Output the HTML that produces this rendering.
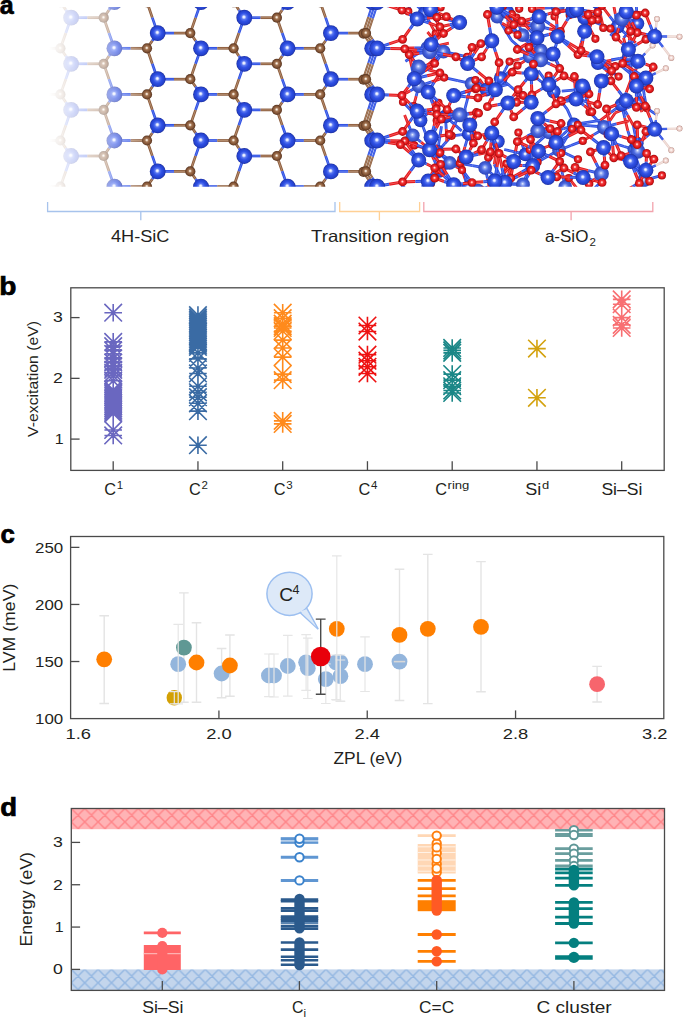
<!DOCTYPE html>
<html><head><meta charset="utf-8"><title>Figure</title>
<style>html,body{margin:0;padding:0;background:#fff;width:685px;height:1018px;overflow:hidden}svg{display:block}</style>
</head><body>
<svg width="685" height="1018" viewBox="0 0 685 1018" font-family='"Liberation Sans", sans-serif'><defs>
<radialGradient id="gSi" cx="0.5" cy="0.5" r="0.5" fx="0.47" fy="0.45">
<stop offset="0" stop-color="#ffffff"/><stop offset="0.13" stop-color="#dce4ff"/><stop offset="0.3" stop-color="#5b78f0"/>
<stop offset="0.55" stop-color="#2f50e4"/><stop offset="0.85" stop-color="#2441cc"/><stop offset="1" stop-color="#1b2d9a"/>
</radialGradient>
<radialGradient id="gSf" cx="0.5" cy="0.5" r="0.5" fx="0.47" fy="0.45">
<stop offset="0" stop-color="#eef3ff"/><stop offset="0.2" stop-color="#98adf3"/>
<stop offset="0.5" stop-color="#4a68e0"/><stop offset="1" stop-color="#2e45b8"/>
</radialGradient>
<radialGradient id="gC" cx="0.5" cy="0.5" r="0.5" fx="0.47" fy="0.45">
<stop offset="0" stop-color="#fffaf4"/><stop offset="0.15" stop-color="#e8d4c2"/><stop offset="0.35" stop-color="#a27452"/>
<stop offset="0.7" stop-color="#835435"/><stop offset="1" stop-color="#563420"/>
</radialGradient>
<radialGradient id="gO" cx="0.5" cy="0.5" r="0.5" fx="0.47" fy="0.45">
<stop offset="0" stop-color="#fff0f0"/><stop offset="0.14" stop-color="#ffb8b8"/><stop offset="0.35" stop-color="#f03a3c"/>
<stop offset="0.7" stop-color="#e01619"/><stop offset="1" stop-color="#a00c0e"/>
</radialGradient>
<radialGradient id="gH" cx="0.5" cy="0.5" r="0.5" fx="0.47" fy="0.45">
<stop offset="0" stop-color="#ffffff"/><stop offset="0.35" stop-color="#f7e3df"/><stop offset="0.8" stop-color="#e2c0b9"/><stop offset="1" stop-color="#b58c84"/>
</radialGradient>
<linearGradient id="fadeG" gradientUnits="userSpaceOnUse" x1="30" y1="0" x2="150" y2="0">
<stop offset="0" stop-color="#fff" stop-opacity="0"/>
<stop offset="0.16" stop-color="#fff" stop-opacity="0"/>
<stop offset="0.25" stop-color="#fff" stop-opacity="0.1"/>
<stop offset="0.342" stop-color="#fff" stop-opacity="0.2"/>
<stop offset="0.617" stop-color="#fff" stop-opacity="0.42"/>
<stop offset="0.7" stop-color="#fff" stop-opacity="0.57"/>
<stop offset="0.967" stop-color="#fff" stop-opacity="1"/>
<stop offset="1" stop-color="#fff" stop-opacity="1"/>
</linearGradient>
<mask id="fadeM" maskUnits="userSpaceOnUse" x="0" y="0" width="685" height="200">
<rect x="0" y="0" width="685" height="200" fill="url(#fadeG)"/>
</mask>
<clipPath id="clipA"><rect x="40" y="7" width="645" height="179.7"/></clipPath>
</defs>
<g clip-path="url(#clipA)"><g mask="url(#fadeM)">
<path d="M27.8 2.2L44.1 2.2" stroke="#2b4ce2" stroke-width="2.7"/><path d="M27.8 2.2L44.1 2.2" stroke="#6f8af0" stroke-width="0.68"/>
<path d="M60.4 2.2L44.1 2.2" stroke="#8a5a3a" stroke-width="2.7"/><path d="M60.4 2.2L44.1 2.2" stroke="#c9a486" stroke-width="0.68"/>
<path d="M60.4 2.2L65.8 -13.1" stroke="#8a5a3a" stroke-width="2.7"/><path d="M60.4 2.2L65.8 -13.1" stroke="#c9a486" stroke-width="0.68"/>
<path d="M71.1 -28.4L65.8 -13.1" stroke="#2b4ce2" stroke-width="2.7"/><path d="M71.1 -28.4L65.8 -13.1" stroke="#6f8af0" stroke-width="0.68"/>
<path d="M60.4 2.2L65.8 9.9" stroke="#8a5a3a" stroke-width="2.7"/><path d="M60.4 2.2L65.8 9.9" stroke="#c9a486" stroke-width="0.68"/>
<path d="M71.1 17.7L65.8 9.9" stroke="#2b4ce2" stroke-width="2.7"/><path d="M71.1 17.7L65.8 9.9" stroke="#6f8af0" stroke-width="0.68"/>
<path d="M27.8 48.3L44.1 48.3" stroke="#2b4ce2" stroke-width="2.7"/><path d="M27.8 48.3L44.1 48.3" stroke="#6f8af0" stroke-width="0.68"/>
<path d="M60.4 48.3L44.1 48.3" stroke="#8a5a3a" stroke-width="2.7"/><path d="M60.4 48.3L44.1 48.3" stroke="#c9a486" stroke-width="0.68"/>
<path d="M60.4 48.3L65.8 33.0" stroke="#8a5a3a" stroke-width="2.7"/><path d="M60.4 48.3L65.8 33.0" stroke="#c9a486" stroke-width="0.68"/>
<path d="M71.1 17.7L65.8 33.0" stroke="#2b4ce2" stroke-width="2.7"/><path d="M71.1 17.7L65.8 33.0" stroke="#6f8af0" stroke-width="0.68"/>
<path d="M60.4 48.3L65.8 56.0" stroke="#8a5a3a" stroke-width="2.7"/><path d="M60.4 48.3L65.8 56.0" stroke="#c9a486" stroke-width="0.68"/>
<path d="M71.1 63.8L65.8 56.0" stroke="#2b4ce2" stroke-width="2.7"/><path d="M71.1 63.8L65.8 56.0" stroke="#6f8af0" stroke-width="0.68"/>
<path d="M27.8 94.4L44.1 94.4" stroke="#2b4ce2" stroke-width="2.7"/><path d="M27.8 94.4L44.1 94.4" stroke="#6f8af0" stroke-width="0.68"/>
<path d="M60.4 94.4L44.1 94.4" stroke="#8a5a3a" stroke-width="2.7"/><path d="M60.4 94.4L44.1 94.4" stroke="#c9a486" stroke-width="0.68"/>
<path d="M60.4 94.4L65.8 79.1" stroke="#8a5a3a" stroke-width="2.7"/><path d="M60.4 94.4L65.8 79.1" stroke="#c9a486" stroke-width="0.68"/>
<path d="M71.1 63.8L65.8 79.1" stroke="#2b4ce2" stroke-width="2.7"/><path d="M71.1 63.8L65.8 79.1" stroke="#6f8af0" stroke-width="0.68"/>
<path d="M60.4 94.4L65.8 102.2" stroke="#8a5a3a" stroke-width="2.7"/><path d="M60.4 94.4L65.8 102.2" stroke="#c9a486" stroke-width="0.68"/>
<path d="M71.1 109.9L65.8 102.2" stroke="#2b4ce2" stroke-width="2.7"/><path d="M71.1 109.9L65.8 102.2" stroke="#6f8af0" stroke-width="0.68"/>
<path d="M27.8 140.5L44.1 140.5" stroke="#2b4ce2" stroke-width="2.7"/><path d="M27.8 140.5L44.1 140.5" stroke="#6f8af0" stroke-width="0.68"/>
<path d="M60.4 140.5L44.1 140.5" stroke="#8a5a3a" stroke-width="2.7"/><path d="M60.4 140.5L44.1 140.5" stroke="#c9a486" stroke-width="0.68"/>
<path d="M60.4 140.5L65.8 125.2" stroke="#8a5a3a" stroke-width="2.7"/><path d="M60.4 140.5L65.8 125.2" stroke="#c9a486" stroke-width="0.68"/>
<path d="M71.1 109.9L65.8 125.2" stroke="#2b4ce2" stroke-width="2.7"/><path d="M71.1 109.9L65.8 125.2" stroke="#6f8af0" stroke-width="0.68"/>
<path d="M60.4 140.5L65.8 148.2" stroke="#8a5a3a" stroke-width="2.7"/><path d="M60.4 140.5L65.8 148.2" stroke="#c9a486" stroke-width="0.68"/>
<path d="M71.1 156.0L65.8 148.2" stroke="#2b4ce2" stroke-width="2.7"/><path d="M71.1 156.0L65.8 148.2" stroke="#6f8af0" stroke-width="0.68"/>
<path d="M27.8 186.6L44.1 186.6" stroke="#2b4ce2" stroke-width="2.7"/><path d="M27.8 186.6L44.1 186.6" stroke="#6f8af0" stroke-width="0.68"/>
<path d="M60.4 186.6L44.1 186.6" stroke="#8a5a3a" stroke-width="2.7"/><path d="M60.4 186.6L44.1 186.6" stroke="#c9a486" stroke-width="0.68"/>
<path d="M60.4 186.6L65.8 171.3" stroke="#8a5a3a" stroke-width="2.7"/><path d="M60.4 186.6L65.8 171.3" stroke="#c9a486" stroke-width="0.68"/>
<path d="M71.1 156.0L65.8 171.3" stroke="#2b4ce2" stroke-width="2.7"/><path d="M71.1 156.0L65.8 171.3" stroke="#6f8af0" stroke-width="0.68"/>
<path d="M60.4 186.6L65.8 194.4" stroke="#8a5a3a" stroke-width="2.7"/><path d="M60.4 186.6L65.8 194.4" stroke="#c9a486" stroke-width="0.68"/>
<path d="M71.1 202.1L65.8 194.4" stroke="#2b4ce2" stroke-width="2.7"/><path d="M71.1 202.1L65.8 194.4" stroke="#6f8af0" stroke-width="0.68"/>
<path d="M71.1 -28.4L87.4 -28.4" stroke="#2b4ce2" stroke-width="2.7"/><path d="M71.1 -28.4L87.4 -28.4" stroke="#6f8af0" stroke-width="0.68"/>
<path d="M103.7 -28.4L87.4 -28.4" stroke="#8a5a3a" stroke-width="2.7"/><path d="M103.7 -28.4L87.4 -28.4" stroke="#c9a486" stroke-width="0.68"/>
<path d="M103.7 -28.4L109.0 -13.1" stroke="#8a5a3a" stroke-width="2.7"/><path d="M103.7 -28.4L109.0 -13.1" stroke="#c9a486" stroke-width="0.68"/>
<path d="M114.4 2.2L109.0 -13.1" stroke="#2b4ce2" stroke-width="2.7"/><path d="M114.4 2.2L109.0 -13.1" stroke="#6f8af0" stroke-width="0.68"/>
<path d="M71.1 17.7L87.4 17.7" stroke="#2b4ce2" stroke-width="2.7"/><path d="M71.1 17.7L87.4 17.7" stroke="#6f8af0" stroke-width="0.68"/>
<path d="M103.7 17.7L87.4 17.7" stroke="#8a5a3a" stroke-width="2.7"/><path d="M103.7 17.7L87.4 17.7" stroke="#c9a486" stroke-width="0.68"/>
<path d="M103.7 17.7L109.0 9.9" stroke="#8a5a3a" stroke-width="2.7"/><path d="M103.7 17.7L109.0 9.9" stroke="#c9a486" stroke-width="0.68"/>
<path d="M114.4 2.2L109.0 9.9" stroke="#2b4ce2" stroke-width="2.7"/><path d="M114.4 2.2L109.0 9.9" stroke="#6f8af0" stroke-width="0.68"/>
<path d="M103.7 17.7L109.0 33.0" stroke="#8a5a3a" stroke-width="2.7"/><path d="M103.7 17.7L109.0 33.0" stroke="#c9a486" stroke-width="0.68"/>
<path d="M114.4 48.3L109.0 33.0" stroke="#2b4ce2" stroke-width="2.7"/><path d="M114.4 48.3L109.0 33.0" stroke="#6f8af0" stroke-width="0.68"/>
<path d="M71.1 63.8L87.4 63.8" stroke="#2b4ce2" stroke-width="2.7"/><path d="M71.1 63.8L87.4 63.8" stroke="#6f8af0" stroke-width="0.68"/>
<path d="M103.7 63.8L87.4 63.8" stroke="#8a5a3a" stroke-width="2.7"/><path d="M103.7 63.8L87.4 63.8" stroke="#c9a486" stroke-width="0.68"/>
<path d="M103.7 63.8L109.0 56.0" stroke="#8a5a3a" stroke-width="2.7"/><path d="M103.7 63.8L109.0 56.0" stroke="#c9a486" stroke-width="0.68"/>
<path d="M114.4 48.3L109.0 56.0" stroke="#2b4ce2" stroke-width="2.7"/><path d="M114.4 48.3L109.0 56.0" stroke="#6f8af0" stroke-width="0.68"/>
<path d="M103.7 63.8L109.0 79.1" stroke="#8a5a3a" stroke-width="2.7"/><path d="M103.7 63.8L109.0 79.1" stroke="#c9a486" stroke-width="0.68"/>
<path d="M114.4 94.4L109.0 79.1" stroke="#2b4ce2" stroke-width="2.7"/><path d="M114.4 94.4L109.0 79.1" stroke="#6f8af0" stroke-width="0.68"/>
<path d="M71.1 109.9L87.4 109.9" stroke="#2b4ce2" stroke-width="2.7"/><path d="M71.1 109.9L87.4 109.9" stroke="#6f8af0" stroke-width="0.68"/>
<path d="M103.7 109.9L87.4 109.9" stroke="#8a5a3a" stroke-width="2.7"/><path d="M103.7 109.9L87.4 109.9" stroke="#c9a486" stroke-width="0.68"/>
<path d="M103.7 109.9L109.0 102.2" stroke="#8a5a3a" stroke-width="2.7"/><path d="M103.7 109.9L109.0 102.2" stroke="#c9a486" stroke-width="0.68"/>
<path d="M114.4 94.4L109.0 102.2" stroke="#2b4ce2" stroke-width="2.7"/><path d="M114.4 94.4L109.0 102.2" stroke="#6f8af0" stroke-width="0.68"/>
<path d="M103.7 109.9L109.0 125.2" stroke="#8a5a3a" stroke-width="2.7"/><path d="M103.7 109.9L109.0 125.2" stroke="#c9a486" stroke-width="0.68"/>
<path d="M114.4 140.5L109.0 125.2" stroke="#2b4ce2" stroke-width="2.7"/><path d="M114.4 140.5L109.0 125.2" stroke="#6f8af0" stroke-width="0.68"/>
<path d="M71.1 156.0L87.4 156.0" stroke="#2b4ce2" stroke-width="2.7"/><path d="M71.1 156.0L87.4 156.0" stroke="#6f8af0" stroke-width="0.68"/>
<path d="M103.7 156.0L87.4 156.0" stroke="#8a5a3a" stroke-width="2.7"/><path d="M103.7 156.0L87.4 156.0" stroke="#c9a486" stroke-width="0.68"/>
<path d="M103.7 156.0L109.0 148.2" stroke="#8a5a3a" stroke-width="2.7"/><path d="M103.7 156.0L109.0 148.2" stroke="#c9a486" stroke-width="0.68"/>
<path d="M114.4 140.5L109.0 148.2" stroke="#2b4ce2" stroke-width="2.7"/><path d="M114.4 140.5L109.0 148.2" stroke="#6f8af0" stroke-width="0.68"/>
<path d="M103.7 156.0L109.0 171.3" stroke="#8a5a3a" stroke-width="2.7"/><path d="M103.7 156.0L109.0 171.3" stroke="#c9a486" stroke-width="0.68"/>
<path d="M114.4 186.6L109.0 171.3" stroke="#2b4ce2" stroke-width="2.7"/><path d="M114.4 186.6L109.0 171.3" stroke="#6f8af0" stroke-width="0.68"/>
<path d="M71.1 202.1L87.4 202.1" stroke="#2b4ce2" stroke-width="2.7"/><path d="M71.1 202.1L87.4 202.1" stroke="#6f8af0" stroke-width="0.68"/>
<path d="M103.7 202.1L87.4 202.1" stroke="#8a5a3a" stroke-width="2.7"/><path d="M103.7 202.1L87.4 202.1" stroke="#c9a486" stroke-width="0.68"/>
<path d="M103.7 202.1L109.0 194.4" stroke="#8a5a3a" stroke-width="2.7"/><path d="M103.7 202.1L109.0 194.4" stroke="#c9a486" stroke-width="0.68"/>
<path d="M114.4 186.6L109.0 194.4" stroke="#2b4ce2" stroke-width="2.7"/><path d="M114.4 186.6L109.0 194.4" stroke="#6f8af0" stroke-width="0.68"/>
<path d="M114.4 2.2L130.7 2.2" stroke="#2b4ce2" stroke-width="2.7"/><path d="M114.4 2.2L130.7 2.2" stroke="#6f8af0" stroke-width="0.68"/>
<path d="M147.0 2.2L130.7 2.2" stroke="#8a5a3a" stroke-width="2.7"/><path d="M147.0 2.2L130.7 2.2" stroke="#c9a486" stroke-width="0.68"/>
<path d="M147.0 2.2L152.3 -5.4" stroke="#8a5a3a" stroke-width="2.7"/><path d="M147.0 2.2L152.3 -5.4" stroke="#c9a486" stroke-width="0.68"/>
<path d="M157.7 -13.0L152.3 -5.4" stroke="#2b4ce2" stroke-width="2.7"/><path d="M157.7 -13.0L152.3 -5.4" stroke="#6f8af0" stroke-width="0.68"/>
<path d="M147.0 2.2L152.3 17.6" stroke="#8a5a3a" stroke-width="2.7"/><path d="M147.0 2.2L152.3 17.6" stroke="#c9a486" stroke-width="0.68"/>
<path d="M157.7 33.1L152.3 17.6" stroke="#2b4ce2" stroke-width="2.7"/><path d="M157.7 33.1L152.3 17.6" stroke="#6f8af0" stroke-width="0.68"/>
<path d="M114.4 48.3L130.7 48.3" stroke="#2b4ce2" stroke-width="2.7"/><path d="M114.4 48.3L130.7 48.3" stroke="#6f8af0" stroke-width="0.68"/>
<path d="M147.0 48.3L130.7 48.3" stroke="#8a5a3a" stroke-width="2.7"/><path d="M147.0 48.3L130.7 48.3" stroke="#c9a486" stroke-width="0.68"/>
<path d="M147.0 48.3L152.3 40.7" stroke="#8a5a3a" stroke-width="2.7"/><path d="M147.0 48.3L152.3 40.7" stroke="#c9a486" stroke-width="0.68"/>
<path d="M157.7 33.1L152.3 40.7" stroke="#2b4ce2" stroke-width="2.7"/><path d="M157.7 33.1L152.3 40.7" stroke="#6f8af0" stroke-width="0.68"/>
<path d="M147.0 48.3L152.3 63.8" stroke="#8a5a3a" stroke-width="2.7"/><path d="M147.0 48.3L152.3 63.8" stroke="#c9a486" stroke-width="0.68"/>
<path d="M157.7 79.2L152.3 63.8" stroke="#2b4ce2" stroke-width="2.7"/><path d="M157.7 79.2L152.3 63.8" stroke="#6f8af0" stroke-width="0.68"/>
<path d="M114.4 94.4L130.7 94.4" stroke="#2b4ce2" stroke-width="2.7"/><path d="M114.4 94.4L130.7 94.4" stroke="#6f8af0" stroke-width="0.68"/>
<path d="M147.0 94.4L130.7 94.4" stroke="#8a5a3a" stroke-width="2.7"/><path d="M147.0 94.4L130.7 94.4" stroke="#c9a486" stroke-width="0.68"/>
<path d="M147.0 94.4L152.3 86.8" stroke="#8a5a3a" stroke-width="2.7"/><path d="M147.0 94.4L152.3 86.8" stroke="#c9a486" stroke-width="0.68"/>
<path d="M157.7 79.2L152.3 86.8" stroke="#2b4ce2" stroke-width="2.7"/><path d="M157.7 79.2L152.3 86.8" stroke="#6f8af0" stroke-width="0.68"/>
<path d="M147.0 94.4L152.3 109.9" stroke="#8a5a3a" stroke-width="2.7"/><path d="M147.0 94.4L152.3 109.9" stroke="#c9a486" stroke-width="0.68"/>
<path d="M157.7 125.3L152.3 109.9" stroke="#2b4ce2" stroke-width="2.7"/><path d="M157.7 125.3L152.3 109.9" stroke="#6f8af0" stroke-width="0.68"/>
<path d="M114.4 140.5L130.7 140.5" stroke="#2b4ce2" stroke-width="2.7"/><path d="M114.4 140.5L130.7 140.5" stroke="#6f8af0" stroke-width="0.68"/>
<path d="M147.0 140.5L130.7 140.5" stroke="#8a5a3a" stroke-width="2.7"/><path d="M147.0 140.5L130.7 140.5" stroke="#c9a486" stroke-width="0.68"/>
<path d="M147.0 140.5L152.3 132.9" stroke="#8a5a3a" stroke-width="2.7"/><path d="M147.0 140.5L152.3 132.9" stroke="#c9a486" stroke-width="0.68"/>
<path d="M157.7 125.3L152.3 132.9" stroke="#2b4ce2" stroke-width="2.7"/><path d="M157.7 125.3L152.3 132.9" stroke="#6f8af0" stroke-width="0.68"/>
<path d="M147.0 140.5L152.3 155.9" stroke="#8a5a3a" stroke-width="2.7"/><path d="M147.0 140.5L152.3 155.9" stroke="#c9a486" stroke-width="0.68"/>
<path d="M157.7 171.4L152.3 155.9" stroke="#2b4ce2" stroke-width="2.7"/><path d="M157.7 171.4L152.3 155.9" stroke="#6f8af0" stroke-width="0.68"/>
<path d="M114.4 186.6L130.7 186.6" stroke="#2b4ce2" stroke-width="2.7"/><path d="M114.4 186.6L130.7 186.6" stroke="#6f8af0" stroke-width="0.68"/>
<path d="M147.0 186.6L130.7 186.6" stroke="#8a5a3a" stroke-width="2.7"/><path d="M147.0 186.6L130.7 186.6" stroke="#c9a486" stroke-width="0.68"/>
<path d="M147.0 186.6L152.3 179.0" stroke="#8a5a3a" stroke-width="2.7"/><path d="M147.0 186.6L152.3 179.0" stroke="#c9a486" stroke-width="0.68"/>
<path d="M157.7 171.4L152.3 179.0" stroke="#2b4ce2" stroke-width="2.7"/><path d="M157.7 171.4L152.3 179.0" stroke="#6f8af0" stroke-width="0.68"/>
<path d="M157.7 -13.0L174.0 -13.0" stroke="#2b4ce2" stroke-width="2.7"/><path d="M157.7 -13.0L174.0 -13.0" stroke="#6f8af0" stroke-width="0.68"/>
<path d="M190.3 -13.0L174.0 -13.0" stroke="#8a5a3a" stroke-width="2.7"/><path d="M190.3 -13.0L174.0 -13.0" stroke="#c9a486" stroke-width="0.68"/>
<path d="M190.3 -13.0L195.6 -5.4" stroke="#8a5a3a" stroke-width="2.7"/><path d="M190.3 -13.0L195.6 -5.4" stroke="#c9a486" stroke-width="0.68"/>
<path d="M201.0 2.2L195.6 -5.4" stroke="#2b4ce2" stroke-width="2.7"/><path d="M201.0 2.2L195.6 -5.4" stroke="#6f8af0" stroke-width="0.68"/>
<path d="M157.7 33.1L174.0 33.1" stroke="#2b4ce2" stroke-width="2.7"/><path d="M157.7 33.1L174.0 33.1" stroke="#6f8af0" stroke-width="0.68"/>
<path d="M190.3 33.1L174.0 33.1" stroke="#8a5a3a" stroke-width="2.7"/><path d="M190.3 33.1L174.0 33.1" stroke="#c9a486" stroke-width="0.68"/>
<path d="M190.3 33.1L195.6 17.6" stroke="#8a5a3a" stroke-width="2.7"/><path d="M190.3 33.1L195.6 17.6" stroke="#c9a486" stroke-width="0.68"/>
<path d="M201.0 2.2L195.6 17.6" stroke="#2b4ce2" stroke-width="2.7"/><path d="M201.0 2.2L195.6 17.6" stroke="#6f8af0" stroke-width="0.68"/>
<path d="M190.3 33.1L195.6 40.7" stroke="#8a5a3a" stroke-width="2.7"/><path d="M190.3 33.1L195.6 40.7" stroke="#c9a486" stroke-width="0.68"/>
<path d="M201.0 48.3L195.6 40.7" stroke="#2b4ce2" stroke-width="2.7"/><path d="M201.0 48.3L195.6 40.7" stroke="#6f8af0" stroke-width="0.68"/>
<path d="M157.7 79.2L174.0 79.2" stroke="#2b4ce2" stroke-width="2.7"/><path d="M157.7 79.2L174.0 79.2" stroke="#6f8af0" stroke-width="0.68"/>
<path d="M190.3 79.2L174.0 79.2" stroke="#8a5a3a" stroke-width="2.7"/><path d="M190.3 79.2L174.0 79.2" stroke="#c9a486" stroke-width="0.68"/>
<path d="M190.3 79.2L195.6 63.8" stroke="#8a5a3a" stroke-width="2.7"/><path d="M190.3 79.2L195.6 63.8" stroke="#c9a486" stroke-width="0.68"/>
<path d="M201.0 48.3L195.6 63.8" stroke="#2b4ce2" stroke-width="2.7"/><path d="M201.0 48.3L195.6 63.8" stroke="#6f8af0" stroke-width="0.68"/>
<path d="M190.3 79.2L195.6 86.8" stroke="#8a5a3a" stroke-width="2.7"/><path d="M190.3 79.2L195.6 86.8" stroke="#c9a486" stroke-width="0.68"/>
<path d="M201.0 94.4L195.6 86.8" stroke="#2b4ce2" stroke-width="2.7"/><path d="M201.0 94.4L195.6 86.8" stroke="#6f8af0" stroke-width="0.68"/>
<path d="M157.7 125.3L174.0 125.3" stroke="#2b4ce2" stroke-width="2.7"/><path d="M157.7 125.3L174.0 125.3" stroke="#6f8af0" stroke-width="0.68"/>
<path d="M190.3 125.3L174.0 125.3" stroke="#8a5a3a" stroke-width="2.7"/><path d="M190.3 125.3L174.0 125.3" stroke="#c9a486" stroke-width="0.68"/>
<path d="M190.3 125.3L195.6 109.9" stroke="#8a5a3a" stroke-width="2.7"/><path d="M190.3 125.3L195.6 109.9" stroke="#c9a486" stroke-width="0.68"/>
<path d="M201.0 94.4L195.6 109.9" stroke="#2b4ce2" stroke-width="2.7"/><path d="M201.0 94.4L195.6 109.9" stroke="#6f8af0" stroke-width="0.68"/>
<path d="M190.3 125.3L195.6 132.9" stroke="#8a5a3a" stroke-width="2.7"/><path d="M190.3 125.3L195.6 132.9" stroke="#c9a486" stroke-width="0.68"/>
<path d="M201.0 140.5L195.6 132.9" stroke="#2b4ce2" stroke-width="2.7"/><path d="M201.0 140.5L195.6 132.9" stroke="#6f8af0" stroke-width="0.68"/>
<path d="M157.7 171.4L174.0 171.4" stroke="#2b4ce2" stroke-width="2.7"/><path d="M157.7 171.4L174.0 171.4" stroke="#6f8af0" stroke-width="0.68"/>
<path d="M190.3 171.4L174.0 171.4" stroke="#8a5a3a" stroke-width="2.7"/><path d="M190.3 171.4L174.0 171.4" stroke="#c9a486" stroke-width="0.68"/>
<path d="M190.3 171.4L195.6 155.9" stroke="#8a5a3a" stroke-width="2.7"/><path d="M190.3 171.4L195.6 155.9" stroke="#c9a486" stroke-width="0.68"/>
<path d="M201.0 140.5L195.6 155.9" stroke="#2b4ce2" stroke-width="2.7"/><path d="M201.0 140.5L195.6 155.9" stroke="#6f8af0" stroke-width="0.68"/>
<path d="M190.3 171.4L195.6 179.0" stroke="#8a5a3a" stroke-width="2.7"/><path d="M190.3 171.4L195.6 179.0" stroke="#c9a486" stroke-width="0.68"/>
<path d="M201.0 186.6L195.6 179.0" stroke="#2b4ce2" stroke-width="2.7"/><path d="M201.0 186.6L195.6 179.0" stroke="#6f8af0" stroke-width="0.68"/>
<path d="M201.0 2.2L217.3 2.2" stroke="#2b4ce2" stroke-width="2.7"/><path d="M201.0 2.2L217.3 2.2" stroke="#6f8af0" stroke-width="0.68"/>
<path d="M233.6 2.2L217.3 2.2" stroke="#8a5a3a" stroke-width="2.7"/><path d="M233.6 2.2L217.3 2.2" stroke="#c9a486" stroke-width="0.68"/>
<path d="M233.6 2.2L238.9 -13.1" stroke="#8a5a3a" stroke-width="2.7"/><path d="M233.6 2.2L238.9 -13.1" stroke="#c9a486" stroke-width="0.68"/>
<path d="M244.3 -28.4L238.9 -13.1" stroke="#2b4ce2" stroke-width="2.7"/><path d="M244.3 -28.4L238.9 -13.1" stroke="#6f8af0" stroke-width="0.68"/>
<path d="M233.6 2.2L238.9 9.9" stroke="#8a5a3a" stroke-width="2.7"/><path d="M233.6 2.2L238.9 9.9" stroke="#c9a486" stroke-width="0.68"/>
<path d="M244.3 17.7L238.9 9.9" stroke="#2b4ce2" stroke-width="2.7"/><path d="M244.3 17.7L238.9 9.9" stroke="#6f8af0" stroke-width="0.68"/>
<path d="M201.0 48.3L217.3 48.3" stroke="#2b4ce2" stroke-width="2.7"/><path d="M201.0 48.3L217.3 48.3" stroke="#6f8af0" stroke-width="0.68"/>
<path d="M233.6 48.3L217.3 48.3" stroke="#8a5a3a" stroke-width="2.7"/><path d="M233.6 48.3L217.3 48.3" stroke="#c9a486" stroke-width="0.68"/>
<path d="M233.6 48.3L238.9 33.0" stroke="#8a5a3a" stroke-width="2.7"/><path d="M233.6 48.3L238.9 33.0" stroke="#c9a486" stroke-width="0.68"/>
<path d="M244.3 17.7L238.9 33.0" stroke="#2b4ce2" stroke-width="2.7"/><path d="M244.3 17.7L238.9 33.0" stroke="#6f8af0" stroke-width="0.68"/>
<path d="M233.6 48.3L238.9 56.0" stroke="#8a5a3a" stroke-width="2.7"/><path d="M233.6 48.3L238.9 56.0" stroke="#c9a486" stroke-width="0.68"/>
<path d="M244.3 63.8L238.9 56.0" stroke="#2b4ce2" stroke-width="2.7"/><path d="M244.3 63.8L238.9 56.0" stroke="#6f8af0" stroke-width="0.68"/>
<path d="M201.0 94.4L217.3 94.4" stroke="#2b4ce2" stroke-width="2.7"/><path d="M201.0 94.4L217.3 94.4" stroke="#6f8af0" stroke-width="0.68"/>
<path d="M233.6 94.4L217.3 94.4" stroke="#8a5a3a" stroke-width="2.7"/><path d="M233.6 94.4L217.3 94.4" stroke="#c9a486" stroke-width="0.68"/>
<path d="M233.6 94.4L238.9 79.1" stroke="#8a5a3a" stroke-width="2.7"/><path d="M233.6 94.4L238.9 79.1" stroke="#c9a486" stroke-width="0.68"/>
<path d="M244.3 63.8L238.9 79.1" stroke="#2b4ce2" stroke-width="2.7"/><path d="M244.3 63.8L238.9 79.1" stroke="#6f8af0" stroke-width="0.68"/>
<path d="M233.6 94.4L238.9 102.2" stroke="#8a5a3a" stroke-width="2.7"/><path d="M233.6 94.4L238.9 102.2" stroke="#c9a486" stroke-width="0.68"/>
<path d="M244.3 109.9L238.9 102.2" stroke="#2b4ce2" stroke-width="2.7"/><path d="M244.3 109.9L238.9 102.2" stroke="#6f8af0" stroke-width="0.68"/>
<path d="M201.0 140.5L217.3 140.5" stroke="#2b4ce2" stroke-width="2.7"/><path d="M201.0 140.5L217.3 140.5" stroke="#6f8af0" stroke-width="0.68"/>
<path d="M233.6 140.5L217.3 140.5" stroke="#8a5a3a" stroke-width="2.7"/><path d="M233.6 140.5L217.3 140.5" stroke="#c9a486" stroke-width="0.68"/>
<path d="M233.6 140.5L238.9 125.2" stroke="#8a5a3a" stroke-width="2.7"/><path d="M233.6 140.5L238.9 125.2" stroke="#c9a486" stroke-width="0.68"/>
<path d="M244.3 109.9L238.9 125.2" stroke="#2b4ce2" stroke-width="2.7"/><path d="M244.3 109.9L238.9 125.2" stroke="#6f8af0" stroke-width="0.68"/>
<path d="M233.6 140.5L238.9 148.2" stroke="#8a5a3a" stroke-width="2.7"/><path d="M233.6 140.5L238.9 148.2" stroke="#c9a486" stroke-width="0.68"/>
<path d="M244.3 156.0L238.9 148.2" stroke="#2b4ce2" stroke-width="2.7"/><path d="M244.3 156.0L238.9 148.2" stroke="#6f8af0" stroke-width="0.68"/>
<path d="M201.0 186.6L217.3 186.6" stroke="#2b4ce2" stroke-width="2.7"/><path d="M201.0 186.6L217.3 186.6" stroke="#6f8af0" stroke-width="0.68"/>
<path d="M233.6 186.6L217.3 186.6" stroke="#8a5a3a" stroke-width="2.7"/><path d="M233.6 186.6L217.3 186.6" stroke="#c9a486" stroke-width="0.68"/>
<path d="M233.6 186.6L238.9 171.3" stroke="#8a5a3a" stroke-width="2.7"/><path d="M233.6 186.6L238.9 171.3" stroke="#c9a486" stroke-width="0.68"/>
<path d="M244.3 156.0L238.9 171.3" stroke="#2b4ce2" stroke-width="2.7"/><path d="M244.3 156.0L238.9 171.3" stroke="#6f8af0" stroke-width="0.68"/>
<path d="M233.6 186.6L238.9 194.4" stroke="#8a5a3a" stroke-width="2.7"/><path d="M233.6 186.6L238.9 194.4" stroke="#c9a486" stroke-width="0.68"/>
<path d="M244.3 202.1L238.9 194.4" stroke="#2b4ce2" stroke-width="2.7"/><path d="M244.3 202.1L238.9 194.4" stroke="#6f8af0" stroke-width="0.68"/>
<path d="M244.3 -28.4L260.6 -28.4" stroke="#2b4ce2" stroke-width="2.7"/><path d="M244.3 -28.4L260.6 -28.4" stroke="#6f8af0" stroke-width="0.68"/>
<path d="M276.9 -28.4L260.6 -28.4" stroke="#8a5a3a" stroke-width="2.7"/><path d="M276.9 -28.4L260.6 -28.4" stroke="#c9a486" stroke-width="0.68"/>
<path d="M276.9 -28.4L282.2 -13.1" stroke="#8a5a3a" stroke-width="2.7"/><path d="M276.9 -28.4L282.2 -13.1" stroke="#c9a486" stroke-width="0.68"/>
<path d="M287.6 2.2L282.2 -13.1" stroke="#2b4ce2" stroke-width="2.7"/><path d="M287.6 2.2L282.2 -13.1" stroke="#6f8af0" stroke-width="0.68"/>
<path d="M244.3 17.7L260.6 17.7" stroke="#2b4ce2" stroke-width="2.7"/><path d="M244.3 17.7L260.6 17.7" stroke="#6f8af0" stroke-width="0.68"/>
<path d="M276.9 17.7L260.6 17.7" stroke="#8a5a3a" stroke-width="2.7"/><path d="M276.9 17.7L260.6 17.7" stroke="#c9a486" stroke-width="0.68"/>
<path d="M276.9 17.7L282.2 9.9" stroke="#8a5a3a" stroke-width="2.7"/><path d="M276.9 17.7L282.2 9.9" stroke="#c9a486" stroke-width="0.68"/>
<path d="M287.6 2.2L282.2 9.9" stroke="#2b4ce2" stroke-width="2.7"/><path d="M287.6 2.2L282.2 9.9" stroke="#6f8af0" stroke-width="0.68"/>
<path d="M276.9 17.7L282.2 33.0" stroke="#8a5a3a" stroke-width="2.7"/><path d="M276.9 17.7L282.2 33.0" stroke="#c9a486" stroke-width="0.68"/>
<path d="M287.6 48.3L282.2 33.0" stroke="#2b4ce2" stroke-width="2.7"/><path d="M287.6 48.3L282.2 33.0" stroke="#6f8af0" stroke-width="0.68"/>
<path d="M244.3 63.8L260.6 63.8" stroke="#2b4ce2" stroke-width="2.7"/><path d="M244.3 63.8L260.6 63.8" stroke="#6f8af0" stroke-width="0.68"/>
<path d="M276.9 63.8L260.6 63.8" stroke="#8a5a3a" stroke-width="2.7"/><path d="M276.9 63.8L260.6 63.8" stroke="#c9a486" stroke-width="0.68"/>
<path d="M276.9 63.8L282.2 56.0" stroke="#8a5a3a" stroke-width="2.7"/><path d="M276.9 63.8L282.2 56.0" stroke="#c9a486" stroke-width="0.68"/>
<path d="M287.6 48.3L282.2 56.0" stroke="#2b4ce2" stroke-width="2.7"/><path d="M287.6 48.3L282.2 56.0" stroke="#6f8af0" stroke-width="0.68"/>
<path d="M276.9 63.8L282.2 79.1" stroke="#8a5a3a" stroke-width="2.7"/><path d="M276.9 63.8L282.2 79.1" stroke="#c9a486" stroke-width="0.68"/>
<path d="M287.6 94.4L282.2 79.1" stroke="#2b4ce2" stroke-width="2.7"/><path d="M287.6 94.4L282.2 79.1" stroke="#6f8af0" stroke-width="0.68"/>
<path d="M244.3 109.9L260.6 109.9" stroke="#2b4ce2" stroke-width="2.7"/><path d="M244.3 109.9L260.6 109.9" stroke="#6f8af0" stroke-width="0.68"/>
<path d="M276.9 109.9L260.6 109.9" stroke="#8a5a3a" stroke-width="2.7"/><path d="M276.9 109.9L260.6 109.9" stroke="#c9a486" stroke-width="0.68"/>
<path d="M276.9 109.9L282.2 102.2" stroke="#8a5a3a" stroke-width="2.7"/><path d="M276.9 109.9L282.2 102.2" stroke="#c9a486" stroke-width="0.68"/>
<path d="M287.6 94.4L282.2 102.2" stroke="#2b4ce2" stroke-width="2.7"/><path d="M287.6 94.4L282.2 102.2" stroke="#6f8af0" stroke-width="0.68"/>
<path d="M276.9 109.9L282.2 125.2" stroke="#8a5a3a" stroke-width="2.7"/><path d="M276.9 109.9L282.2 125.2" stroke="#c9a486" stroke-width="0.68"/>
<path d="M287.6 140.5L282.2 125.2" stroke="#2b4ce2" stroke-width="2.7"/><path d="M287.6 140.5L282.2 125.2" stroke="#6f8af0" stroke-width="0.68"/>
<path d="M244.3 156.0L260.6 156.0" stroke="#2b4ce2" stroke-width="2.7"/><path d="M244.3 156.0L260.6 156.0" stroke="#6f8af0" stroke-width="0.68"/>
<path d="M276.9 156.0L260.6 156.0" stroke="#8a5a3a" stroke-width="2.7"/><path d="M276.9 156.0L260.6 156.0" stroke="#c9a486" stroke-width="0.68"/>
<path d="M276.9 156.0L282.2 148.2" stroke="#8a5a3a" stroke-width="2.7"/><path d="M276.9 156.0L282.2 148.2" stroke="#c9a486" stroke-width="0.68"/>
<path d="M287.6 140.5L282.2 148.2" stroke="#2b4ce2" stroke-width="2.7"/><path d="M287.6 140.5L282.2 148.2" stroke="#6f8af0" stroke-width="0.68"/>
<path d="M276.9 156.0L282.2 171.3" stroke="#8a5a3a" stroke-width="2.7"/><path d="M276.9 156.0L282.2 171.3" stroke="#c9a486" stroke-width="0.68"/>
<path d="M287.6 186.6L282.2 171.3" stroke="#2b4ce2" stroke-width="2.7"/><path d="M287.6 186.6L282.2 171.3" stroke="#6f8af0" stroke-width="0.68"/>
<path d="M244.3 202.1L260.6 202.1" stroke="#2b4ce2" stroke-width="2.7"/><path d="M244.3 202.1L260.6 202.1" stroke="#6f8af0" stroke-width="0.68"/>
<path d="M276.9 202.1L260.6 202.1" stroke="#8a5a3a" stroke-width="2.7"/><path d="M276.9 202.1L260.6 202.1" stroke="#c9a486" stroke-width="0.68"/>
<path d="M276.9 202.1L282.2 194.4" stroke="#8a5a3a" stroke-width="2.7"/><path d="M276.9 202.1L282.2 194.4" stroke="#c9a486" stroke-width="0.68"/>
<path d="M287.6 186.6L282.2 194.4" stroke="#2b4ce2" stroke-width="2.7"/><path d="M287.6 186.6L282.2 194.4" stroke="#6f8af0" stroke-width="0.68"/>
<path d="M287.6 2.2L303.9 2.2" stroke="#2b4ce2" stroke-width="2.7"/><path d="M287.6 2.2L303.9 2.2" stroke="#6f8af0" stroke-width="0.68"/>
<path d="M320.2 2.2L303.9 2.2" stroke="#8a5a3a" stroke-width="2.7"/><path d="M320.2 2.2L303.9 2.2" stroke="#c9a486" stroke-width="0.68"/>
<path d="M320.2 2.2L325.6 -5.4" stroke="#8a5a3a" stroke-width="2.7"/><path d="M320.2 2.2L325.6 -5.4" stroke="#c9a486" stroke-width="0.68"/>
<path d="M330.9 -13.0L325.6 -5.4" stroke="#2b4ce2" stroke-width="2.7"/><path d="M330.9 -13.0L325.6 -5.4" stroke="#6f8af0" stroke-width="0.68"/>
<path d="M320.2 2.2L325.6 17.6" stroke="#8a5a3a" stroke-width="2.7"/><path d="M320.2 2.2L325.6 17.6" stroke="#c9a486" stroke-width="0.68"/>
<path d="M330.9 33.1L325.6 17.6" stroke="#2b4ce2" stroke-width="2.7"/><path d="M330.9 33.1L325.6 17.6" stroke="#6f8af0" stroke-width="0.68"/>
<path d="M287.6 48.3L303.9 48.3" stroke="#2b4ce2" stroke-width="2.7"/><path d="M287.6 48.3L303.9 48.3" stroke="#6f8af0" stroke-width="0.68"/>
<path d="M320.2 48.3L303.9 48.3" stroke="#8a5a3a" stroke-width="2.7"/><path d="M320.2 48.3L303.9 48.3" stroke="#c9a486" stroke-width="0.68"/>
<path d="M320.2 48.3L325.6 40.7" stroke="#8a5a3a" stroke-width="2.7"/><path d="M320.2 48.3L325.6 40.7" stroke="#c9a486" stroke-width="0.68"/>
<path d="M330.9 33.1L325.6 40.7" stroke="#2b4ce2" stroke-width="2.7"/><path d="M330.9 33.1L325.6 40.7" stroke="#6f8af0" stroke-width="0.68"/>
<path d="M320.2 48.3L325.6 63.8" stroke="#8a5a3a" stroke-width="2.7"/><path d="M320.2 48.3L325.6 63.8" stroke="#c9a486" stroke-width="0.68"/>
<path d="M330.9 79.2L325.6 63.8" stroke="#2b4ce2" stroke-width="2.7"/><path d="M330.9 79.2L325.6 63.8" stroke="#6f8af0" stroke-width="0.68"/>
<path d="M287.6 94.4L303.9 94.4" stroke="#2b4ce2" stroke-width="2.7"/><path d="M287.6 94.4L303.9 94.4" stroke="#6f8af0" stroke-width="0.68"/>
<path d="M320.2 94.4L303.9 94.4" stroke="#8a5a3a" stroke-width="2.7"/><path d="M320.2 94.4L303.9 94.4" stroke="#c9a486" stroke-width="0.68"/>
<path d="M320.2 94.4L325.6 86.8" stroke="#8a5a3a" stroke-width="2.7"/><path d="M320.2 94.4L325.6 86.8" stroke="#c9a486" stroke-width="0.68"/>
<path d="M330.9 79.2L325.6 86.8" stroke="#2b4ce2" stroke-width="2.7"/><path d="M330.9 79.2L325.6 86.8" stroke="#6f8af0" stroke-width="0.68"/>
<path d="M320.2 94.4L325.6 109.9" stroke="#8a5a3a" stroke-width="2.7"/><path d="M320.2 94.4L325.6 109.9" stroke="#c9a486" stroke-width="0.68"/>
<path d="M330.9 125.3L325.6 109.9" stroke="#2b4ce2" stroke-width="2.7"/><path d="M330.9 125.3L325.6 109.9" stroke="#6f8af0" stroke-width="0.68"/>
<path d="M287.6 140.5L303.9 140.5" stroke="#2b4ce2" stroke-width="2.7"/><path d="M287.6 140.5L303.9 140.5" stroke="#6f8af0" stroke-width="0.68"/>
<path d="M320.2 140.5L303.9 140.5" stroke="#8a5a3a" stroke-width="2.7"/><path d="M320.2 140.5L303.9 140.5" stroke="#c9a486" stroke-width="0.68"/>
<path d="M320.2 140.5L325.6 132.9" stroke="#8a5a3a" stroke-width="2.7"/><path d="M320.2 140.5L325.6 132.9" stroke="#c9a486" stroke-width="0.68"/>
<path d="M330.9 125.3L325.6 132.9" stroke="#2b4ce2" stroke-width="2.7"/><path d="M330.9 125.3L325.6 132.9" stroke="#6f8af0" stroke-width="0.68"/>
<path d="M320.2 140.5L325.6 155.9" stroke="#8a5a3a" stroke-width="2.7"/><path d="M320.2 140.5L325.6 155.9" stroke="#c9a486" stroke-width="0.68"/>
<path d="M330.9 171.4L325.6 155.9" stroke="#2b4ce2" stroke-width="2.7"/><path d="M330.9 171.4L325.6 155.9" stroke="#6f8af0" stroke-width="0.68"/>
<path d="M287.6 186.6L303.9 186.6" stroke="#2b4ce2" stroke-width="2.7"/><path d="M287.6 186.6L303.9 186.6" stroke="#6f8af0" stroke-width="0.68"/>
<path d="M320.2 186.6L303.9 186.6" stroke="#8a5a3a" stroke-width="2.7"/><path d="M320.2 186.6L303.9 186.6" stroke="#c9a486" stroke-width="0.68"/>
<path d="M320.2 186.6L325.6 179.0" stroke="#8a5a3a" stroke-width="2.7"/><path d="M320.2 186.6L325.6 179.0" stroke="#c9a486" stroke-width="0.68"/>
<path d="M330.9 171.4L325.6 179.0" stroke="#2b4ce2" stroke-width="2.7"/><path d="M330.9 171.4L325.6 179.0" stroke="#6f8af0" stroke-width="0.68"/>
<path d="M330.9 -13.0L348.2 -13.0" stroke="#2b4ce2" stroke-width="2.7"/><path d="M330.9 -13.0L348.2 -13.0" stroke="#6f8af0" stroke-width="0.68"/>
<path d="M365.5 -13.0L348.2 -13.0" stroke="#8a5a3a" stroke-width="2.7"/><path d="M365.5 -13.0L348.2 -13.0" stroke="#c9a486" stroke-width="0.68"/>
<path d="M367.5 -14.3L372.6 -6.7" stroke="#8a5a3a" stroke-width="2.0"/><path d="M367.5 -14.3L372.6 -6.7" stroke="#c9a486" stroke-width="0.50"/>
<path d="M377.7 0.9L372.6 -6.7" stroke="#2b4ce2" stroke-width="2.0"/><path d="M377.7 0.9L372.6 -6.7" stroke="#6f8af0" stroke-width="0.50"/>
<path d="M365.5 -13.0L370.6 -5.4" stroke="#8a5a3a" stroke-width="2.0"/><path d="M365.5 -13.0L370.6 -5.4" stroke="#c9a486" stroke-width="0.50"/>
<path d="M375.7 2.2L370.6 -5.4" stroke="#2b4ce2" stroke-width="2.0"/><path d="M375.7 2.2L370.6 -5.4" stroke="#6f8af0" stroke-width="0.50"/>
<path d="M363.5 -11.7L368.6 -4.1" stroke="#8a5a3a" stroke-width="2.0"/><path d="M363.5 -11.7L368.6 -4.1" stroke="#c9a486" stroke-width="0.50"/>
<path d="M373.7 3.5L368.6 -4.1" stroke="#2b4ce2" stroke-width="2.0"/><path d="M373.7 3.5L368.6 -4.1" stroke="#6f8af0" stroke-width="0.50"/>
<path d="M330.9 33.1L348.2 33.1" stroke="#2b4ce2" stroke-width="2.7"/><path d="M330.9 33.1L348.2 33.1" stroke="#6f8af0" stroke-width="0.68"/>
<path d="M365.5 33.1L348.2 33.1" stroke="#8a5a3a" stroke-width="2.7"/><path d="M365.5 33.1L348.2 33.1" stroke="#c9a486" stroke-width="0.68"/>
<path d="M363.2 32.3L368.3 16.9" stroke="#8a5a3a" stroke-width="2.0"/><path d="M363.2 32.3L368.3 16.9" stroke="#c9a486" stroke-width="0.50"/>
<path d="M373.4 1.4L368.3 16.9" stroke="#2b4ce2" stroke-width="2.0"/><path d="M373.4 1.4L368.3 16.9" stroke="#6f8af0" stroke-width="0.50"/>
<path d="M365.5 33.1L370.6 17.6" stroke="#8a5a3a" stroke-width="2.0"/><path d="M365.5 33.1L370.6 17.6" stroke="#c9a486" stroke-width="0.50"/>
<path d="M375.7 2.2L370.6 17.6" stroke="#2b4ce2" stroke-width="2.0"/><path d="M375.7 2.2L370.6 17.6" stroke="#6f8af0" stroke-width="0.50"/>
<path d="M367.8 33.9L372.9 18.4" stroke="#8a5a3a" stroke-width="2.0"/><path d="M367.8 33.9L372.9 18.4" stroke="#c9a486" stroke-width="0.50"/>
<path d="M378.0 3.0L372.9 18.4" stroke="#2b4ce2" stroke-width="2.0"/><path d="M378.0 3.0L372.9 18.4" stroke="#6f8af0" stroke-width="0.50"/>
<path d="M367.5 31.8L372.6 39.4" stroke="#8a5a3a" stroke-width="2.0"/><path d="M367.5 31.8L372.6 39.4" stroke="#c9a486" stroke-width="0.50"/>
<path d="M377.7 47.0L372.6 39.4" stroke="#2b4ce2" stroke-width="2.0"/><path d="M377.7 47.0L372.6 39.4" stroke="#6f8af0" stroke-width="0.50"/>
<path d="M365.5 33.1L370.6 40.7" stroke="#8a5a3a" stroke-width="2.0"/><path d="M365.5 33.1L370.6 40.7" stroke="#c9a486" stroke-width="0.50"/>
<path d="M375.7 48.3L370.6 40.7" stroke="#2b4ce2" stroke-width="2.0"/><path d="M375.7 48.3L370.6 40.7" stroke="#6f8af0" stroke-width="0.50"/>
<path d="M363.5 34.4L368.6 42.0" stroke="#8a5a3a" stroke-width="2.0"/><path d="M363.5 34.4L368.6 42.0" stroke="#c9a486" stroke-width="0.50"/>
<path d="M373.7 49.6L368.6 42.0" stroke="#2b4ce2" stroke-width="2.0"/><path d="M373.7 49.6L368.6 42.0" stroke="#6f8af0" stroke-width="0.50"/>
<path d="M330.9 79.2L348.2 79.2" stroke="#2b4ce2" stroke-width="2.7"/><path d="M330.9 79.2L348.2 79.2" stroke="#6f8af0" stroke-width="0.68"/>
<path d="M365.5 79.2L348.2 79.2" stroke="#8a5a3a" stroke-width="2.7"/><path d="M365.5 79.2L348.2 79.2" stroke="#c9a486" stroke-width="0.68"/>
<path d="M363.2 78.4L368.3 63.0" stroke="#8a5a3a" stroke-width="2.0"/><path d="M363.2 78.4L368.3 63.0" stroke="#c9a486" stroke-width="0.50"/>
<path d="M373.4 47.5L368.3 63.0" stroke="#2b4ce2" stroke-width="2.0"/><path d="M373.4 47.5L368.3 63.0" stroke="#6f8af0" stroke-width="0.50"/>
<path d="M365.5 79.2L370.6 63.8" stroke="#8a5a3a" stroke-width="2.0"/><path d="M365.5 79.2L370.6 63.8" stroke="#c9a486" stroke-width="0.50"/>
<path d="M375.7 48.3L370.6 63.8" stroke="#2b4ce2" stroke-width="2.0"/><path d="M375.7 48.3L370.6 63.8" stroke="#6f8af0" stroke-width="0.50"/>
<path d="M367.8 80.0L372.9 64.5" stroke="#8a5a3a" stroke-width="2.0"/><path d="M367.8 80.0L372.9 64.5" stroke="#c9a486" stroke-width="0.50"/>
<path d="M378.0 49.1L372.9 64.5" stroke="#2b4ce2" stroke-width="2.0"/><path d="M378.0 49.1L372.9 64.5" stroke="#6f8af0" stroke-width="0.50"/>
<path d="M367.5 77.9L372.6 85.5" stroke="#8a5a3a" stroke-width="2.0"/><path d="M367.5 77.9L372.6 85.5" stroke="#c9a486" stroke-width="0.50"/>
<path d="M377.7 93.1L372.6 85.5" stroke="#2b4ce2" stroke-width="2.0"/><path d="M377.7 93.1L372.6 85.5" stroke="#6f8af0" stroke-width="0.50"/>
<path d="M365.5 79.2L370.6 86.8" stroke="#8a5a3a" stroke-width="2.0"/><path d="M365.5 79.2L370.6 86.8" stroke="#c9a486" stroke-width="0.50"/>
<path d="M375.7 94.4L370.6 86.8" stroke="#2b4ce2" stroke-width="2.0"/><path d="M375.7 94.4L370.6 86.8" stroke="#6f8af0" stroke-width="0.50"/>
<path d="M363.5 80.5L368.6 88.1" stroke="#8a5a3a" stroke-width="2.0"/><path d="M363.5 80.5L368.6 88.1" stroke="#c9a486" stroke-width="0.50"/>
<path d="M373.7 95.7L368.6 88.1" stroke="#2b4ce2" stroke-width="2.0"/><path d="M373.7 95.7L368.6 88.1" stroke="#6f8af0" stroke-width="0.50"/>
<path d="M330.9 125.3L348.2 125.3" stroke="#2b4ce2" stroke-width="2.7"/><path d="M330.9 125.3L348.2 125.3" stroke="#6f8af0" stroke-width="0.68"/>
<path d="M365.5 125.3L348.2 125.3" stroke="#8a5a3a" stroke-width="2.7"/><path d="M365.5 125.3L348.2 125.3" stroke="#c9a486" stroke-width="0.68"/>
<path d="M363.2 124.5L368.3 109.1" stroke="#8a5a3a" stroke-width="2.0"/><path d="M363.2 124.5L368.3 109.1" stroke="#c9a486" stroke-width="0.50"/>
<path d="M373.4 93.6L368.3 109.1" stroke="#2b4ce2" stroke-width="2.0"/><path d="M373.4 93.6L368.3 109.1" stroke="#6f8af0" stroke-width="0.50"/>
<path d="M365.5 125.3L370.6 109.9" stroke="#8a5a3a" stroke-width="2.0"/><path d="M365.5 125.3L370.6 109.9" stroke="#c9a486" stroke-width="0.50"/>
<path d="M375.7 94.4L370.6 109.9" stroke="#2b4ce2" stroke-width="2.0"/><path d="M375.7 94.4L370.6 109.9" stroke="#6f8af0" stroke-width="0.50"/>
<path d="M367.8 126.1L372.9 110.6" stroke="#8a5a3a" stroke-width="2.0"/><path d="M367.8 126.1L372.9 110.6" stroke="#c9a486" stroke-width="0.50"/>
<path d="M378.0 95.2L372.9 110.6" stroke="#2b4ce2" stroke-width="2.0"/><path d="M378.0 95.2L372.9 110.6" stroke="#6f8af0" stroke-width="0.50"/>
<path d="M367.5 124.0L372.6 131.6" stroke="#8a5a3a" stroke-width="2.0"/><path d="M367.5 124.0L372.6 131.6" stroke="#c9a486" stroke-width="0.50"/>
<path d="M377.7 139.2L372.6 131.6" stroke="#2b4ce2" stroke-width="2.0"/><path d="M377.7 139.2L372.6 131.6" stroke="#6f8af0" stroke-width="0.50"/>
<path d="M365.5 125.3L370.6 132.9" stroke="#8a5a3a" stroke-width="2.0"/><path d="M365.5 125.3L370.6 132.9" stroke="#c9a486" stroke-width="0.50"/>
<path d="M375.7 140.5L370.6 132.9" stroke="#2b4ce2" stroke-width="2.0"/><path d="M375.7 140.5L370.6 132.9" stroke="#6f8af0" stroke-width="0.50"/>
<path d="M363.5 126.6L368.6 134.2" stroke="#8a5a3a" stroke-width="2.0"/><path d="M363.5 126.6L368.6 134.2" stroke="#c9a486" stroke-width="0.50"/>
<path d="M373.7 141.8L368.6 134.2" stroke="#2b4ce2" stroke-width="2.0"/><path d="M373.7 141.8L368.6 134.2" stroke="#6f8af0" stroke-width="0.50"/>
<path d="M330.9 171.4L348.2 171.4" stroke="#2b4ce2" stroke-width="2.7"/><path d="M330.9 171.4L348.2 171.4" stroke="#6f8af0" stroke-width="0.68"/>
<path d="M365.5 171.4L348.2 171.4" stroke="#8a5a3a" stroke-width="2.7"/><path d="M365.5 171.4L348.2 171.4" stroke="#c9a486" stroke-width="0.68"/>
<path d="M363.2 170.6L368.3 155.2" stroke="#8a5a3a" stroke-width="2.0"/><path d="M363.2 170.6L368.3 155.2" stroke="#c9a486" stroke-width="0.50"/>
<path d="M373.4 139.7L368.3 155.2" stroke="#2b4ce2" stroke-width="2.0"/><path d="M373.4 139.7L368.3 155.2" stroke="#6f8af0" stroke-width="0.50"/>
<path d="M365.5 171.4L370.6 155.9" stroke="#8a5a3a" stroke-width="2.0"/><path d="M365.5 171.4L370.6 155.9" stroke="#c9a486" stroke-width="0.50"/>
<path d="M375.7 140.5L370.6 155.9" stroke="#2b4ce2" stroke-width="2.0"/><path d="M375.7 140.5L370.6 155.9" stroke="#6f8af0" stroke-width="0.50"/>
<path d="M367.8 172.2L372.9 156.7" stroke="#8a5a3a" stroke-width="2.0"/><path d="M367.8 172.2L372.9 156.7" stroke="#c9a486" stroke-width="0.50"/>
<path d="M378.0 141.3L372.9 156.7" stroke="#2b4ce2" stroke-width="2.0"/><path d="M378.0 141.3L372.9 156.7" stroke="#6f8af0" stroke-width="0.50"/>
<path d="M367.5 170.1L372.6 177.7" stroke="#8a5a3a" stroke-width="2.0"/><path d="M367.5 170.1L372.6 177.7" stroke="#c9a486" stroke-width="0.50"/>
<path d="M377.7 185.3L372.6 177.7" stroke="#2b4ce2" stroke-width="2.0"/><path d="M377.7 185.3L372.6 177.7" stroke="#6f8af0" stroke-width="0.50"/>
<path d="M365.5 171.4L370.6 179.0" stroke="#8a5a3a" stroke-width="2.0"/><path d="M365.5 171.4L370.6 179.0" stroke="#c9a486" stroke-width="0.50"/>
<path d="M375.7 186.6L370.6 179.0" stroke="#2b4ce2" stroke-width="2.0"/><path d="M375.7 186.6L370.6 179.0" stroke="#6f8af0" stroke-width="0.50"/>
<path d="M363.5 172.7L368.6 180.3" stroke="#8a5a3a" stroke-width="2.0"/><path d="M363.5 172.7L368.6 180.3" stroke="#c9a486" stroke-width="0.50"/>
<path d="M373.7 187.9L368.6 180.3" stroke="#2b4ce2" stroke-width="2.0"/><path d="M373.7 187.9L368.6 180.3" stroke="#6f8af0" stroke-width="0.50"/>
<g opacity="1">
<path d="M401.7 2.5L407.9 -4.3" stroke="#2b4ce2" stroke-width="2.8"/><path d="M401.7 2.5L407.9 -4.3" stroke="#6f8af0" stroke-width="0.70"/>
<path d="M414.1 -11.2L407.9 -4.3" stroke="#2b4ce2" stroke-width="2.8"/><path d="M414.1 -11.2L407.9 -4.3" stroke="#6f8af0" stroke-width="0.70"/>
<path d="M401.7 48.2L414.5 48.0" stroke="#e3181b" stroke-width="2.8"/><path d="M401.7 48.2L414.5 48.0" stroke="#f76a6c" stroke-width="0.70"/>
<path d="M427.4 47.9L414.5 48.0" stroke="#2b4ce2" stroke-width="2.8"/><path d="M427.4 47.9L414.5 48.0" stroke="#6f8af0" stroke-width="0.70"/>
<path d="M401.7 95.4L410.3 90.7" stroke="#e3181b" stroke-width="2.8"/><path d="M401.7 95.4L410.3 90.7" stroke="#f76a6c" stroke-width="0.70"/>
<path d="M418.8 86.0L410.3 90.7" stroke="#2b4ce2" stroke-width="2.8"/><path d="M418.8 86.0L410.3 90.7" stroke="#6f8af0" stroke-width="0.70"/>
<path d="M401.7 139.5L407.2 137.4" stroke="#2b4ce2" stroke-width="2.8"/><path d="M401.7 139.5L407.2 137.4" stroke="#6f8af0" stroke-width="0.70"/>
<path d="M412.8 135.3L407.2 137.4" stroke="#2b4ce2" stroke-width="2.8"/><path d="M412.8 135.3L407.2 137.4" stroke="#6f8af0" stroke-width="0.70"/>
<path d="M401.7 185.7L413.6 195.0" stroke="#2b4ce2" stroke-width="2.8"/><path d="M401.7 185.7L413.6 195.0" stroke="#6f8af0" stroke-width="0.70"/>
<path d="M425.5 204.2L413.6 195.0" stroke="#2b4ce2" stroke-width="2.8"/><path d="M425.5 204.2L413.6 195.0" stroke="#6f8af0" stroke-width="0.70"/>
<path d="M428.9 148.8L420.9 142.0" stroke="#e3181b" stroke-width="2.8"/><path d="M428.9 148.8L420.9 142.0" stroke="#f76a6c" stroke-width="0.70"/>
<path d="M412.8 135.3L420.9 142.0" stroke="#2b4ce2" stroke-width="2.8"/><path d="M412.8 135.3L420.9 142.0" stroke="#6f8af0" stroke-width="0.70"/>
<path d="M428.9 148.8L434.1 159.8" stroke="#e3181b" stroke-width="2.8"/><path d="M428.9 148.8L434.1 159.8" stroke="#f76a6c" stroke-width="0.70"/>
<path d="M439.2 170.9L434.1 159.8" stroke="#2b4ce2" stroke-width="2.8"/><path d="M439.2 170.9L434.1 159.8" stroke="#6f8af0" stroke-width="0.70"/>
<path d="M462.0 170.1L455.8 166.5" stroke="#e3181b" stroke-width="2.8"/><path d="M462.0 170.1L455.8 166.5" stroke="#f76a6c" stroke-width="0.70"/>
<path d="M449.7 162.9L455.8 166.5" stroke="#2b4ce2" stroke-width="2.8"/><path d="M449.7 162.9L455.8 166.5" stroke="#6f8af0" stroke-width="0.70"/>
<path d="M462.0 170.1L465.1 178.8" stroke="#e3181b" stroke-width="2.8"/><path d="M462.0 170.1L465.1 178.8" stroke="#f76a6c" stroke-width="0.70"/>
<path d="M468.1 187.5L465.1 178.8" stroke="#2b4ce2" stroke-width="2.8"/><path d="M468.1 187.5L465.1 178.8" stroke="#6f8af0" stroke-width="0.70"/>
<path d="M567.3 109.4L570.6 116.9" stroke="#2b4ce2" stroke-width="2.8"/><path d="M567.3 109.4L570.6 116.9" stroke="#6f8af0" stroke-width="0.70"/>
<path d="M573.9 124.4L570.6 116.9" stroke="#2b4ce2" stroke-width="2.8"/><path d="M573.9 124.4L570.6 116.9" stroke="#6f8af0" stroke-width="0.70"/>
<path d="M567.3 109.4L560.5 100.5" stroke="#2b4ce2" stroke-width="2.8"/><path d="M567.3 109.4L560.5 100.5" stroke="#6f8af0" stroke-width="0.70"/>
<path d="M553.7 91.6L560.5 100.5" stroke="#2b4ce2" stroke-width="2.8"/><path d="M553.7 91.6L560.5 100.5" stroke="#6f8af0" stroke-width="0.70"/>
<path d="M445.3 0.2L435.0 6.6" stroke="#2b4ce2" stroke-width="2.8"/><path d="M445.3 0.2L435.0 6.6" stroke="#6f8af0" stroke-width="0.70"/>
<path d="M424.7 13.0L435.0 6.6" stroke="#2b4ce2" stroke-width="2.8"/><path d="M424.7 13.0L435.0 6.6" stroke="#6f8af0" stroke-width="0.70"/>
<path d="M445.3 0.2L452.5 -6.3" stroke="#e3181b" stroke-width="2.8"/><path d="M445.3 0.2L452.5 -6.3" stroke="#f76a6c" stroke-width="0.70"/>
<path d="M459.8 -12.8L452.5 -6.3" stroke="#2b4ce2" stroke-width="2.8"/><path d="M459.8 -12.8L452.5 -6.3" stroke="#6f8af0" stroke-width="0.70"/>
<path d="M447.7 199.7L436.6 202.0" stroke="#2b4ce2" stroke-width="2.8"/><path d="M447.7 199.7L436.6 202.0" stroke="#6f8af0" stroke-width="0.70"/>
<path d="M425.5 204.2L436.6 202.0" stroke="#2b4ce2" stroke-width="2.8"/><path d="M425.5 204.2L436.6 202.0" stroke="#6f8af0" stroke-width="0.70"/>
<path d="M447.7 199.7L457.9 193.6" stroke="#e3181b" stroke-width="2.8"/><path d="M447.7 199.7L457.9 193.6" stroke="#f76a6c" stroke-width="0.70"/>
<path d="M468.1 187.5L457.9 193.6" stroke="#2b4ce2" stroke-width="2.8"/><path d="M468.1 187.5L457.9 193.6" stroke="#6f8af0" stroke-width="0.70"/>
<path d="M589.5 112.0L586.8 100.5" stroke="#2b4ce2" stroke-width="2.8"/><path d="M589.5 112.0L586.8 100.5" stroke="#6f8af0" stroke-width="0.70"/>
<path d="M584.2 89.1L586.8 100.5" stroke="#2b4ce2" stroke-width="2.8"/><path d="M584.2 89.1L586.8 100.5" stroke="#6f8af0" stroke-width="0.70"/>
<path d="M589.5 112.0L596.7 119.5" stroke="#2b4ce2" stroke-width="2.8"/><path d="M589.5 112.0L596.7 119.5" stroke="#6f8af0" stroke-width="0.70"/>
<path d="M603.9 127.0L596.7 119.5" stroke="#2b4ce2" stroke-width="2.8"/><path d="M603.9 127.0L596.7 119.5" stroke="#6f8af0" stroke-width="0.70"/>
<path d="M614.2 143.4L624.3 146.5" stroke="#2b4ce2" stroke-width="2.8"/><path d="M614.2 143.4L624.3 146.5" stroke="#6f8af0" stroke-width="0.70"/>
<path d="M634.4 149.7L624.3 146.5" stroke="#2b4ce2" stroke-width="2.8"/><path d="M634.4 149.7L624.3 146.5" stroke="#6f8af0" stroke-width="0.70"/>
<path d="M614.2 143.4L609.5 135.8" stroke="#e3181b" stroke-width="2.8"/><path d="M614.2 143.4L609.5 135.8" stroke="#f76a6c" stroke-width="0.70"/>
<path d="M604.7 128.2L609.5 135.8" stroke="#2b4ce2" stroke-width="2.8"/><path d="M604.7 128.2L609.5 135.8" stroke="#6f8af0" stroke-width="0.70"/>
<path d="M508.5 30.6L515.6 32.9" stroke="#e3181b" stroke-width="2.8"/><path d="M508.5 30.6L515.6 32.9" stroke="#f76a6c" stroke-width="0.70"/>
<path d="M522.7 35.2L515.6 32.9" stroke="#2b4ce2" stroke-width="2.8"/><path d="M522.7 35.2L515.6 32.9" stroke="#6f8af0" stroke-width="0.70"/>
<path d="M508.5 30.6L507.9 21.3" stroke="#e3181b" stroke-width="2.8"/><path d="M508.5 30.6L507.9 21.3" stroke="#f76a6c" stroke-width="0.70"/>
<path d="M507.3 12.0L507.9 21.3" stroke="#2b4ce2" stroke-width="2.8"/><path d="M507.3 12.0L507.9 21.3" stroke="#6f8af0" stroke-width="0.70"/>
<path d="M509.6 61.6L519.7 59.0" stroke="#e3181b" stroke-width="2.8"/><path d="M509.6 61.6L519.7 59.0" stroke="#f76a6c" stroke-width="0.70"/>
<path d="M529.8 56.5L519.7 59.0" stroke="#2b4ce2" stroke-width="2.8"/><path d="M529.8 56.5L519.7 59.0" stroke="#6f8af0" stroke-width="0.70"/>
<path d="M509.6 61.6L505.2 69.9" stroke="#2b4ce2" stroke-width="2.8"/><path d="M509.6 61.6L505.2 69.9" stroke="#6f8af0" stroke-width="0.70"/>
<path d="M500.7 78.2L505.2 69.9" stroke="#2b4ce2" stroke-width="2.8"/><path d="M500.7 78.2L505.2 69.9" stroke="#6f8af0" stroke-width="0.70"/>
<path d="M451.6 135.8L444.6 143.7" stroke="#2b4ce2" stroke-width="2.8"/><path d="M451.6 135.8L444.6 143.7" stroke="#6f8af0" stroke-width="0.70"/>
<path d="M437.5 151.6L444.6 143.7" stroke="#2b4ce2" stroke-width="2.8"/><path d="M437.5 151.6L444.6 143.7" stroke="#6f8af0" stroke-width="0.70"/>
<path d="M451.6 135.8L460.2 134.9" stroke="#2b4ce2" stroke-width="2.8"/><path d="M451.6 135.8L460.2 134.9" stroke="#6f8af0" stroke-width="0.70"/>
<path d="M468.8 133.9L460.2 134.9" stroke="#2b4ce2" stroke-width="2.8"/><path d="M468.8 133.9L460.2 134.9" stroke="#6f8af0" stroke-width="0.70"/>
<path d="M635.6 87.5L637.3 95.3" stroke="#2b4ce2" stroke-width="2.8"/><path d="M635.6 87.5L637.3 95.3" stroke="#6f8af0" stroke-width="0.70"/>
<path d="M638.9 103.1L637.3 95.3" stroke="#2b4ce2" stroke-width="2.8"/><path d="M638.9 103.1L637.3 95.3" stroke="#6f8af0" stroke-width="0.70"/>
<path d="M635.6 87.5L639.0 85.4" stroke="#e3181b" stroke-width="2.8"/><path d="M635.6 87.5L639.0 85.4" stroke="#f76a6c" stroke-width="0.70"/>
<path d="M642.3 83.2L639.0 85.4" stroke="#2b4ce2" stroke-width="2.8"/><path d="M642.3 83.2L639.0 85.4" stroke="#6f8af0" stroke-width="0.70"/>
<path d="M498.1 205.2L488.1 197.9" stroke="#2b4ce2" stroke-width="2.8"/><path d="M498.1 205.2L488.1 197.9" stroke="#6f8af0" stroke-width="0.70"/>
<path d="M478.0 190.6L488.1 197.9" stroke="#2b4ce2" stroke-width="2.8"/><path d="M478.0 190.6L488.1 197.9" stroke="#6f8af0" stroke-width="0.70"/>
<path d="M498.1 205.2L508.5 207.5" stroke="#2b4ce2" stroke-width="2.8"/><path d="M498.1 205.2L508.5 207.5" stroke="#6f8af0" stroke-width="0.70"/>
<path d="M518.9 209.8L508.5 207.5" stroke="#2b4ce2" stroke-width="2.8"/><path d="M518.9 209.8L508.5 207.5" stroke="#6f8af0" stroke-width="0.70"/>
<path d="M413.5 106.1L416.2 96.1" stroke="#e3181b" stroke-width="2.8"/><path d="M413.5 106.1L416.2 96.1" stroke="#f76a6c" stroke-width="0.70"/>
<path d="M418.8 86.0L416.2 96.1" stroke="#2b4ce2" stroke-width="2.8"/><path d="M418.8 86.0L416.2 96.1" stroke="#6f8af0" stroke-width="0.70"/>
<path d="M413.5 106.1L417.0 113.2" stroke="#2b4ce2" stroke-width="2.8"/><path d="M413.5 106.1L417.0 113.2" stroke="#6f8af0" stroke-width="0.70"/>
<path d="M420.5 120.3L417.0 113.2" stroke="#2b4ce2" stroke-width="2.8"/><path d="M420.5 120.3L417.0 113.2" stroke="#6f8af0" stroke-width="0.70"/>
<path d="M489.8 189.2L487.5 178.5" stroke="#e3181b" stroke-width="2.8"/><path d="M489.8 189.2L487.5 178.5" stroke="#f76a6c" stroke-width="0.70"/>
<path d="M485.2 167.9L487.5 178.5" stroke="#2b4ce2" stroke-width="2.8"/><path d="M485.2 167.9L487.5 178.5" stroke="#6f8af0" stroke-width="0.70"/>
<path d="M489.8 189.2L498.2 196.5" stroke="#2b4ce2" stroke-width="2.8"/><path d="M489.8 189.2L498.2 196.5" stroke="#6f8af0" stroke-width="0.70"/>
<path d="M506.7 203.9L498.2 196.5" stroke="#2b4ce2" stroke-width="2.8"/><path d="M506.7 203.9L498.2 196.5" stroke="#6f8af0" stroke-width="0.70"/>
<path d="M633.4 125.5L627.5 115.0" stroke="#e3181b" stroke-width="2.8"/><path d="M633.4 125.5L627.5 115.0" stroke="#f76a6c" stroke-width="0.70"/>
<path d="M621.6 104.6L627.5 115.0" stroke="#2b4ce2" stroke-width="2.8"/><path d="M621.6 104.6L627.5 115.0" stroke="#6f8af0" stroke-width="0.70"/>
<path d="M633.4 125.5L635.1 134.4" stroke="#2b4ce2" stroke-width="2.8"/><path d="M633.4 125.5L635.1 134.4" stroke="#6f8af0" stroke-width="0.70"/>
<path d="M636.7 143.3L635.1 134.4" stroke="#2b4ce2" stroke-width="2.8"/><path d="M636.7 143.3L635.1 134.4" stroke="#6f8af0" stroke-width="0.70"/>
<path d="M464.9 109.0L468.2 96.4" stroke="#2b4ce2" stroke-width="2.8"/><path d="M464.9 109.0L468.2 96.4" stroke="#6f8af0" stroke-width="0.70"/>
<path d="M471.6 83.7L468.2 96.4" stroke="#2b4ce2" stroke-width="2.8"/><path d="M471.6 83.7L468.2 96.4" stroke="#6f8af0" stroke-width="0.70"/>
<path d="M464.9 109.0L466.8 121.5" stroke="#2b4ce2" stroke-width="2.8"/><path d="M464.9 109.0L466.8 121.5" stroke="#6f8af0" stroke-width="0.70"/>
<path d="M468.8 133.9L466.8 121.5" stroke="#2b4ce2" stroke-width="2.8"/><path d="M468.8 133.9L466.8 121.5" stroke="#6f8af0" stroke-width="0.70"/>
<path d="M482.8 190.6L475.5 189.1" stroke="#2b4ce2" stroke-width="2.8"/><path d="M482.8 190.6L475.5 189.1" stroke="#6f8af0" stroke-width="0.70"/>
<path d="M468.1 187.5L475.5 189.1" stroke="#2b4ce2" stroke-width="2.8"/><path d="M468.1 187.5L475.5 189.1" stroke="#6f8af0" stroke-width="0.70"/>
<path d="M482.8 190.6L492.9 186.4" stroke="#e3181b" stroke-width="2.8"/><path d="M482.8 190.6L492.9 186.4" stroke="#f76a6c" stroke-width="0.70"/>
<path d="M503.0 182.2L492.9 186.4" stroke="#2b4ce2" stroke-width="2.8"/><path d="M503.0 182.2L492.9 186.4" stroke="#6f8af0" stroke-width="0.70"/>
<path d="M582.8 140.9L570.9 145.5" stroke="#2b4ce2" stroke-width="2.8"/><path d="M582.8 140.9L570.9 145.5" stroke="#6f8af0" stroke-width="0.70"/>
<path d="M559.0 150.1L570.9 145.5" stroke="#2b4ce2" stroke-width="2.8"/><path d="M559.0 150.1L570.9 145.5" stroke="#6f8af0" stroke-width="0.70"/>
<path d="M582.8 140.9L593.8 134.6" stroke="#e3181b" stroke-width="2.8"/><path d="M582.8 140.9L593.8 134.6" stroke="#f76a6c" stroke-width="0.70"/>
<path d="M604.7 128.2L593.8 134.6" stroke="#2b4ce2" stroke-width="2.8"/><path d="M604.7 128.2L593.8 134.6" stroke="#6f8af0" stroke-width="0.70"/>
<path d="M506.4 163.6L515.9 159.0" stroke="#2b4ce2" stroke-width="2.8"/><path d="M506.4 163.6L515.9 159.0" stroke="#6f8af0" stroke-width="0.70"/>
<path d="M525.5 154.4L515.9 159.0" stroke="#2b4ce2" stroke-width="2.8"/><path d="M525.5 154.4L515.9 159.0" stroke="#6f8af0" stroke-width="0.70"/>
<path d="M506.4 163.6L504.7 172.9" stroke="#e3181b" stroke-width="2.8"/><path d="M506.4 163.6L504.7 172.9" stroke="#f76a6c" stroke-width="0.70"/>
<path d="M503.0 182.2L504.7 172.9" stroke="#2b4ce2" stroke-width="2.8"/><path d="M503.0 182.2L504.7 172.9" stroke="#6f8af0" stroke-width="0.70"/>
<path d="M615.3 112.8L627.1 108.0" stroke="#e3181b" stroke-width="2.8"/><path d="M615.3 112.8L627.1 108.0" stroke="#f76a6c" stroke-width="0.70"/>
<path d="M638.9 103.1L627.1 108.0" stroke="#2b4ce2" stroke-width="2.8"/><path d="M638.9 103.1L627.1 108.0" stroke="#6f8af0" stroke-width="0.70"/>
<path d="M615.3 112.8L610.0 120.5" stroke="#e3181b" stroke-width="2.8"/><path d="M615.3 112.8L610.0 120.5" stroke="#f76a6c" stroke-width="0.70"/>
<path d="M604.7 128.2L610.0 120.5" stroke="#2b4ce2" stroke-width="2.8"/><path d="M604.7 128.2L610.0 120.5" stroke="#6f8af0" stroke-width="0.70"/>
<path d="M633.3 140.4L633.9 145.0" stroke="#e3181b" stroke-width="2.8"/><path d="M633.3 140.4L633.9 145.0" stroke="#f76a6c" stroke-width="0.70"/>
<path d="M634.4 149.7L633.9 145.0" stroke="#2b4ce2" stroke-width="2.8"/><path d="M634.4 149.7L633.9 145.0" stroke="#6f8af0" stroke-width="0.70"/>
<path d="M633.3 140.4L635.0 141.8" stroke="#e3181b" stroke-width="2.8"/><path d="M633.3 140.4L635.0 141.8" stroke="#f76a6c" stroke-width="0.70"/>
<path d="M636.7 143.3L635.0 141.8" stroke="#2b4ce2" stroke-width="2.8"/><path d="M636.7 143.3L635.0 141.8" stroke="#6f8af0" stroke-width="0.70"/>
<path d="M494.3 164.4L496.0 152.9" stroke="#e3181b" stroke-width="2.8"/><path d="M494.3 164.4L496.0 152.9" stroke="#f76a6c" stroke-width="0.70"/>
<path d="M497.8 141.4L496.0 152.9" stroke="#2b4ce2" stroke-width="2.8"/><path d="M497.8 141.4L496.0 152.9" stroke="#6f8af0" stroke-width="0.70"/>
<path d="M494.3 164.4L498.7 173.3" stroke="#2b4ce2" stroke-width="2.8"/><path d="M494.3 164.4L498.7 173.3" stroke="#6f8af0" stroke-width="0.70"/>
<path d="M503.0 182.2L498.7 173.3" stroke="#2b4ce2" stroke-width="2.8"/><path d="M503.0 182.2L498.7 173.3" stroke="#6f8af0" stroke-width="0.70"/>
<path d="M627.8 130.8L631.1 140.2" stroke="#2b4ce2" stroke-width="2.8"/><path d="M627.8 130.8L631.1 140.2" stroke="#6f8af0" stroke-width="0.70"/>
<path d="M634.4 149.7L631.1 140.2" stroke="#2b4ce2" stroke-width="2.8"/><path d="M634.4 149.7L631.1 140.2" stroke="#6f8af0" stroke-width="0.70"/>
<path d="M627.8 130.8L624.7 117.7" stroke="#e3181b" stroke-width="2.8"/><path d="M627.8 130.8L624.7 117.7" stroke="#f76a6c" stroke-width="0.70"/>
<path d="M621.6 104.6L624.7 117.7" stroke="#2b4ce2" stroke-width="2.8"/><path d="M621.6 104.6L624.7 117.7" stroke="#6f8af0" stroke-width="0.70"/>
<path d="M600.3 120.3L587.1 122.3" stroke="#2b4ce2" stroke-width="2.8"/><path d="M600.3 120.3L587.1 122.3" stroke="#6f8af0" stroke-width="0.70"/>
<path d="M573.9 124.4L587.1 122.3" stroke="#2b4ce2" stroke-width="2.8"/><path d="M573.9 124.4L587.1 122.3" stroke="#6f8af0" stroke-width="0.70"/>
<path d="M600.3 120.3L610.9 112.4" stroke="#e3181b" stroke-width="2.8"/><path d="M600.3 120.3L610.9 112.4" stroke="#f76a6c" stroke-width="0.70"/>
<path d="M621.6 104.6L610.9 112.4" stroke="#2b4ce2" stroke-width="2.8"/><path d="M621.6 104.6L610.9 112.4" stroke="#6f8af0" stroke-width="0.70"/>
<path d="M429.8 144.4L439.7 153.7" stroke="#e3181b" stroke-width="2.8"/><path d="M429.8 144.4L439.7 153.7" stroke="#f76a6c" stroke-width="0.70"/>
<path d="M449.7 162.9L439.7 153.7" stroke="#2b4ce2" stroke-width="2.8"/><path d="M449.7 162.9L439.7 153.7" stroke="#6f8af0" stroke-width="0.70"/>
<path d="M429.8 144.4L425.2 132.4" stroke="#2b4ce2" stroke-width="2.8"/><path d="M429.8 144.4L425.2 132.4" stroke="#6f8af0" stroke-width="0.70"/>
<path d="M420.5 120.3L425.2 132.4" stroke="#2b4ce2" stroke-width="2.8"/><path d="M420.5 120.3L425.2 132.4" stroke="#6f8af0" stroke-width="0.70"/>
<path d="M459.9 163.3L472.5 165.6" stroke="#2b4ce2" stroke-width="2.8"/><path d="M459.9 163.3L472.5 165.6" stroke="#6f8af0" stroke-width="0.70"/>
<path d="M485.2 167.9L472.5 165.6" stroke="#2b4ce2" stroke-width="2.8"/><path d="M485.2 167.9L472.5 165.6" stroke="#6f8af0" stroke-width="0.70"/>
<path d="M459.9 163.3L449.5 167.1" stroke="#2b4ce2" stroke-width="2.8"/><path d="M459.9 163.3L449.5 167.1" stroke="#6f8af0" stroke-width="0.70"/>
<path d="M439.2 170.9L449.5 167.1" stroke="#2b4ce2" stroke-width="2.8"/><path d="M439.2 170.9L449.5 167.1" stroke="#6f8af0" stroke-width="0.70"/>
<path d="M630.8 80.3L629.8 68.6" stroke="#2b4ce2" stroke-width="2.8"/><path d="M630.8 80.3L629.8 68.6" stroke="#6f8af0" stroke-width="0.70"/>
<path d="M628.7 56.9L629.8 68.6" stroke="#2b4ce2" stroke-width="2.8"/><path d="M628.7 56.9L629.8 68.6" stroke="#6f8af0" stroke-width="0.70"/>
<path d="M630.8 80.3L626.2 92.4" stroke="#e3181b" stroke-width="2.8"/><path d="M630.8 80.3L626.2 92.4" stroke="#f76a6c" stroke-width="0.70"/>
<path d="M621.6 104.6L626.2 92.4" stroke="#2b4ce2" stroke-width="2.8"/><path d="M621.6 104.6L626.2 92.4" stroke="#6f8af0" stroke-width="0.70"/>
<path d="M517.6 34.9L529.1 42.7" stroke="#2b4ce2" stroke-width="2.8"/><path d="M517.6 34.9L529.1 42.7" stroke="#6f8af0" stroke-width="0.70"/>
<path d="M540.7 50.5L529.1 42.7" stroke="#2b4ce2" stroke-width="2.8"/><path d="M540.7 50.5L529.1 42.7" stroke="#6f8af0" stroke-width="0.70"/>
<path d="M517.6 34.9L512.5 23.4" stroke="#2b4ce2" stroke-width="2.8"/><path d="M517.6 34.9L512.5 23.4" stroke="#6f8af0" stroke-width="0.70"/>
<path d="M507.3 12.0L512.5 23.4" stroke="#2b4ce2" stroke-width="2.8"/><path d="M507.3 12.0L512.5 23.4" stroke="#6f8af0" stroke-width="0.70"/>
<path d="M633.2 163.5L638.5 172.0" stroke="#2b4ce2" stroke-width="2.8"/><path d="M633.2 163.5L638.5 172.0" stroke="#6f8af0" stroke-width="0.70"/>
<path d="M643.9 180.4L638.5 172.0" stroke="#2b4ce2" stroke-width="2.8"/><path d="M643.9 180.4L638.5 172.0" stroke="#6f8af0" stroke-width="0.70"/>
<path d="M633.2 163.5L635.0 153.4" stroke="#e3181b" stroke-width="2.8"/><path d="M633.2 163.5L635.0 153.4" stroke="#f76a6c" stroke-width="0.70"/>
<path d="M636.7 143.3L635.0 153.4" stroke="#2b4ce2" stroke-width="2.8"/><path d="M636.7 143.3L635.0 153.4" stroke="#6f8af0" stroke-width="0.70"/>
<path d="M502.7 183.5L493.9 175.7" stroke="#e3181b" stroke-width="2.8"/><path d="M502.7 183.5L493.9 175.7" stroke="#f76a6c" stroke-width="0.70"/>
<path d="M485.2 167.9L493.9 175.7" stroke="#2b4ce2" stroke-width="2.8"/><path d="M485.2 167.9L493.9 175.7" stroke="#6f8af0" stroke-width="0.70"/>
<path d="M502.7 183.5L512.8 184.0" stroke="#2b4ce2" stroke-width="2.8"/><path d="M502.7 183.5L512.8 184.0" stroke="#6f8af0" stroke-width="0.70"/>
<path d="M523.0 184.4L512.8 184.0" stroke="#2b4ce2" stroke-width="2.8"/><path d="M523.0 184.4L512.8 184.0" stroke="#6f8af0" stroke-width="0.70"/>
<path d="M623.5 37.9L630.4 30.7" stroke="#2b4ce2" stroke-width="2.8"/><path d="M623.5 37.9L630.4 30.7" stroke="#6f8af0" stroke-width="0.70"/>
<path d="M637.4 23.6L630.4 30.7" stroke="#2b4ce2" stroke-width="2.8"/><path d="M637.4 23.6L630.4 30.7" stroke="#6f8af0" stroke-width="0.70"/>
<path d="M623.5 37.9L626.1 47.4" stroke="#e3181b" stroke-width="2.8"/><path d="M623.5 37.9L626.1 47.4" stroke="#f76a6c" stroke-width="0.70"/>
<path d="M628.7 56.9L626.1 47.4" stroke="#2b4ce2" stroke-width="2.8"/><path d="M628.7 56.9L626.1 47.4" stroke="#6f8af0" stroke-width="0.70"/>
<path d="M444.2 77.6L431.5 81.8" stroke="#e3181b" stroke-width="2.8"/><path d="M444.2 77.6L431.5 81.8" stroke="#f76a6c" stroke-width="0.70"/>
<path d="M418.8 86.0L431.5 81.8" stroke="#2b4ce2" stroke-width="2.8"/><path d="M418.8 86.0L431.5 81.8" stroke="#6f8af0" stroke-width="0.70"/>
<path d="M444.2 77.6L457.9 80.7" stroke="#2b4ce2" stroke-width="2.8"/><path d="M444.2 77.6L457.9 80.7" stroke="#6f8af0" stroke-width="0.70"/>
<path d="M471.6 83.7L457.9 80.7" stroke="#2b4ce2" stroke-width="2.8"/><path d="M471.6 83.7L457.9 80.7" stroke="#6f8af0" stroke-width="0.70"/>
<path d="M517.5 65.6L529.1 58.1" stroke="#e3181b" stroke-width="2.8"/><path d="M517.5 65.6L529.1 58.1" stroke="#f76a6c" stroke-width="0.70"/>
<path d="M540.7 50.5L529.1 58.1" stroke="#2b4ce2" stroke-width="2.8"/><path d="M540.7 50.5L529.1 58.1" stroke="#6f8af0" stroke-width="0.70"/>
<path d="M517.5 65.6L509.1 71.9" stroke="#e3181b" stroke-width="2.8"/><path d="M517.5 65.6L509.1 71.9" stroke="#f76a6c" stroke-width="0.70"/>
<path d="M500.7 78.2L509.1 71.9" stroke="#2b4ce2" stroke-width="2.8"/><path d="M500.7 78.2L509.1 71.9" stroke="#6f8af0" stroke-width="0.70"/>
<path d="M479.4 79.1L483.0 84.4" stroke="#e3181b" stroke-width="2.8"/><path d="M479.4 79.1L483.0 84.4" stroke="#f76a6c" stroke-width="0.70"/>
<path d="M486.5 89.6L483.0 84.4" stroke="#2b4ce2" stroke-width="2.8"/><path d="M486.5 89.6L483.0 84.4" stroke="#6f8af0" stroke-width="0.70"/>
<path d="M479.4 79.1L475.5 81.4" stroke="#2b4ce2" stroke-width="2.8"/><path d="M479.4 79.1L475.5 81.4" stroke="#6f8af0" stroke-width="0.70"/>
<path d="M471.6 83.7L475.5 81.4" stroke="#2b4ce2" stroke-width="2.8"/><path d="M471.6 83.7L475.5 81.4" stroke="#6f8af0" stroke-width="0.70"/>
<path d="M511.4 40.3L504.3 28.4" stroke="#2b4ce2" stroke-width="2.8"/><path d="M511.4 40.3L504.3 28.4" stroke="#6f8af0" stroke-width="0.70"/>
<path d="M497.2 16.5L504.3 28.4" stroke="#2b4ce2" stroke-width="2.8"/><path d="M497.2 16.5L504.3 28.4" stroke="#6f8af0" stroke-width="0.70"/>
<path d="M511.4 40.3L520.6 48.4" stroke="#2b4ce2" stroke-width="2.8"/><path d="M511.4 40.3L520.6 48.4" stroke="#6f8af0" stroke-width="0.70"/>
<path d="M529.8 56.5L520.6 48.4" stroke="#2b4ce2" stroke-width="2.8"/><path d="M529.8 56.5L520.6 48.4" stroke="#6f8af0" stroke-width="0.70"/>
<path d="M621.8 66.4L609.9 64.7" stroke="#e3181b" stroke-width="2.8"/><path d="M621.8 66.4L609.9 64.7" stroke="#f76a6c" stroke-width="0.70"/>
<path d="M597.9 63.0L609.9 64.7" stroke="#2b4ce2" stroke-width="2.8"/><path d="M597.9 63.0L609.9 64.7" stroke="#6f8af0" stroke-width="0.70"/>
<path d="M621.8 66.4L632.1 74.8" stroke="#2b4ce2" stroke-width="2.8"/><path d="M621.8 66.4L632.1 74.8" stroke="#6f8af0" stroke-width="0.70"/>
<path d="M642.3 83.2L632.1 74.8" stroke="#2b4ce2" stroke-width="2.8"/><path d="M642.3 83.2L632.1 74.8" stroke="#6f8af0" stroke-width="0.70"/>
<path d="M610.4 28.6L623.9 26.1" stroke="#e3181b" stroke-width="2.8"/><path d="M610.4 28.6L623.9 26.1" stroke="#f76a6c" stroke-width="0.70"/>
<path d="M637.4 23.6L623.9 26.1" stroke="#2b4ce2" stroke-width="2.8"/><path d="M637.4 23.6L623.9 26.1" stroke="#6f8af0" stroke-width="0.70"/>
<path d="M610.4 28.6L597.4 23.2" stroke="#2b4ce2" stroke-width="2.8"/><path d="M610.4 28.6L597.4 23.2" stroke="#6f8af0" stroke-width="0.70"/>
<path d="M584.4 17.9L597.4 23.2" stroke="#2b4ce2" stroke-width="2.8"/><path d="M584.4 17.9L597.4 23.2" stroke="#6f8af0" stroke-width="0.70"/>
<path d="M422.9 185.0L423.2 195.9" stroke="#2b4ce2" stroke-width="2.8"/><path d="M422.9 185.0L423.2 195.9" stroke="#6f8af0" stroke-width="0.70"/>
<path d="M423.5 206.9L423.2 195.9" stroke="#2b4ce2" stroke-width="2.8"/><path d="M423.5 206.9L423.2 195.9" stroke="#6f8af0" stroke-width="0.70"/>
<path d="M422.9 185.0L431.0 177.9" stroke="#2b4ce2" stroke-width="2.8"/><path d="M422.9 185.0L431.0 177.9" stroke="#6f8af0" stroke-width="0.70"/>
<path d="M439.2 170.9L431.0 177.9" stroke="#2b4ce2" stroke-width="2.8"/><path d="M439.2 170.9L431.0 177.9" stroke="#6f8af0" stroke-width="0.70"/>
<path d="M430.9 183.6L440.3 173.3" stroke="#e3181b" stroke-width="2.8"/><path d="M430.9 183.6L440.3 173.3" stroke="#f76a6c" stroke-width="0.70"/>
<path d="M449.7 162.9L440.3 173.3" stroke="#2b4ce2" stroke-width="2.8"/><path d="M449.7 162.9L440.3 173.3" stroke="#6f8af0" stroke-width="0.70"/>
<path d="M430.9 183.6L428.2 193.9" stroke="#e3181b" stroke-width="2.8"/><path d="M430.9 183.6L428.2 193.9" stroke="#f76a6c" stroke-width="0.70"/>
<path d="M425.5 204.2L428.2 193.9" stroke="#2b4ce2" stroke-width="2.8"/><path d="M425.5 204.2L428.2 193.9" stroke="#6f8af0" stroke-width="0.70"/>
<path d="M509.7 200.1L506.4 191.2" stroke="#2b4ce2" stroke-width="2.8"/><path d="M509.7 200.1L506.4 191.2" stroke="#6f8af0" stroke-width="0.70"/>
<path d="M503.0 182.2L506.4 191.2" stroke="#2b4ce2" stroke-width="2.8"/><path d="M503.0 182.2L506.4 191.2" stroke="#6f8af0" stroke-width="0.70"/>
<path d="M509.7 200.1L508.2 202.0" stroke="#e3181b" stroke-width="2.8"/><path d="M509.7 200.1L508.2 202.0" stroke="#f76a6c" stroke-width="0.70"/>
<path d="M506.7 203.9L508.2 202.0" stroke="#2b4ce2" stroke-width="2.8"/><path d="M506.7 203.9L508.2 202.0" stroke="#6f8af0" stroke-width="0.70"/>
<path d="M461.3 159.2L464.7 173.4" stroke="#e3181b" stroke-width="2.8"/><path d="M461.3 159.2L464.7 173.4" stroke="#f76a6c" stroke-width="0.70"/>
<path d="M468.1 187.5L464.7 173.4" stroke="#2b4ce2" stroke-width="2.8"/><path d="M468.1 187.5L464.7 173.4" stroke="#6f8af0" stroke-width="0.70"/>
<path d="M461.3 159.2L465.0 146.6" stroke="#e3181b" stroke-width="2.8"/><path d="M461.3 159.2L465.0 146.6" stroke="#f76a6c" stroke-width="0.70"/>
<path d="M468.8 133.9L465.0 146.6" stroke="#2b4ce2" stroke-width="2.8"/><path d="M468.8 133.9L465.0 146.6" stroke="#6f8af0" stroke-width="0.70"/>
<path d="M534.5 76.4L532.2 66.5" stroke="#e3181b" stroke-width="2.8"/><path d="M534.5 76.4L532.2 66.5" stroke="#f76a6c" stroke-width="0.70"/>
<path d="M529.8 56.5L532.2 66.5" stroke="#2b4ce2" stroke-width="2.8"/><path d="M529.8 56.5L532.2 66.5" stroke="#6f8af0" stroke-width="0.70"/>
<path d="M534.5 76.4L544.1 84.0" stroke="#2b4ce2" stroke-width="2.8"/><path d="M534.5 76.4L544.1 84.0" stroke="#6f8af0" stroke-width="0.70"/>
<path d="M553.7 91.6L544.1 84.0" stroke="#2b4ce2" stroke-width="2.8"/><path d="M553.7 91.6L544.1 84.0" stroke="#6f8af0" stroke-width="0.70"/>
<path d="M530.9 49.2L535.8 49.8" stroke="#e3181b" stroke-width="2.8"/><path d="M530.9 49.2L535.8 49.8" stroke="#f76a6c" stroke-width="0.70"/>
<path d="M540.7 50.5L535.8 49.8" stroke="#2b4ce2" stroke-width="2.8"/><path d="M540.7 50.5L535.8 49.8" stroke="#6f8af0" stroke-width="0.70"/>
<path d="M530.9 49.2L530.4 52.9" stroke="#e3181b" stroke-width="2.8"/><path d="M530.9 49.2L530.4 52.9" stroke="#f76a6c" stroke-width="0.70"/>
<path d="M529.8 56.5L530.4 52.9" stroke="#2b4ce2" stroke-width="2.8"/><path d="M529.8 56.5L530.4 52.9" stroke="#6f8af0" stroke-width="0.70"/>
<path d="M496.6 150.1L490.9 159.0" stroke="#e3181b" stroke-width="2.8"/><path d="M496.6 150.1L490.9 159.0" stroke="#f76a6c" stroke-width="0.70"/>
<path d="M485.2 167.9L490.9 159.0" stroke="#2b4ce2" stroke-width="2.8"/><path d="M485.2 167.9L490.9 159.0" stroke="#6f8af0" stroke-width="0.70"/>
<path d="M496.6 150.1L497.2 145.8" stroke="#e3181b" stroke-width="2.8"/><path d="M496.6 150.1L497.2 145.8" stroke="#f76a6c" stroke-width="0.70"/>
<path d="M497.8 141.4L497.2 145.8" stroke="#2b4ce2" stroke-width="2.8"/><path d="M497.8 141.4L497.2 145.8" stroke="#6f8af0" stroke-width="0.70"/>
<path d="M577.8 124.8L563.5 128.6" stroke="#2b4ce2" stroke-width="2.8"/><path d="M577.8 124.8L563.5 128.6" stroke="#6f8af0" stroke-width="0.70"/>
<path d="M549.1 132.4L563.5 128.6" stroke="#2b4ce2" stroke-width="2.8"/><path d="M549.1 132.4L563.5 128.6" stroke="#6f8af0" stroke-width="0.70"/>
<path d="M577.8 124.8L590.9 125.9" stroke="#2b4ce2" stroke-width="2.8"/><path d="M577.8 124.8L590.9 125.9" stroke="#6f8af0" stroke-width="0.70"/>
<path d="M603.9 127.0L590.9 125.9" stroke="#2b4ce2" stroke-width="2.8"/><path d="M603.9 127.0L590.9 125.9" stroke="#6f8af0" stroke-width="0.70"/>
<path d="M502.8 6.1L500.0 11.3" stroke="#2b4ce2" stroke-width="2.8"/><path d="M502.8 6.1L500.0 11.3" stroke="#6f8af0" stroke-width="0.70"/>
<path d="M497.2 16.5L500.0 11.3" stroke="#2b4ce2" stroke-width="2.8"/><path d="M497.2 16.5L500.0 11.3" stroke="#6f8af0" stroke-width="0.70"/>
<path d="M502.8 6.1L505.0 9.1" stroke="#e3181b" stroke-width="2.8"/><path d="M502.8 6.1L505.0 9.1" stroke="#f76a6c" stroke-width="0.70"/>
<path d="M507.3 12.0L505.0 9.1" stroke="#2b4ce2" stroke-width="2.8"/><path d="M507.3 12.0L505.0 9.1" stroke="#6f8af0" stroke-width="0.70"/>
<path d="M460.1 167.3L469.1 178.9" stroke="#2b4ce2" stroke-width="2.8"/><path d="M460.1 167.3L469.1 178.9" stroke="#6f8af0" stroke-width="0.70"/>
<path d="M478.0 190.6L469.1 178.9" stroke="#2b4ce2" stroke-width="2.8"/><path d="M478.0 190.6L469.1 178.9" stroke="#6f8af0" stroke-width="0.70"/>
<path d="M460.1 167.3L448.8 159.5" stroke="#2b4ce2" stroke-width="2.8"/><path d="M460.1 167.3L448.8 159.5" stroke="#6f8af0" stroke-width="0.70"/>
<path d="M437.5 151.6L448.8 159.5" stroke="#2b4ce2" stroke-width="2.8"/><path d="M437.5 151.6L448.8 159.5" stroke="#6f8af0" stroke-width="0.70"/>
<path d="M497.2 183.3L487.6 187.0" stroke="#e3181b" stroke-width="2.8"/><path d="M497.2 183.3L487.6 187.0" stroke="#f76a6c" stroke-width="0.70"/>
<path d="M478.0 190.6L487.6 187.0" stroke="#2b4ce2" stroke-width="2.8"/><path d="M478.0 190.6L487.6 187.0" stroke="#6f8af0" stroke-width="0.70"/>
<path d="M497.2 183.3L510.1 183.9" stroke="#e3181b" stroke-width="2.8"/><path d="M497.2 183.3L510.1 183.9" stroke="#f76a6c" stroke-width="0.70"/>
<path d="M523.0 184.4L510.1 183.9" stroke="#2b4ce2" stroke-width="2.8"/><path d="M523.0 184.4L510.1 183.9" stroke="#6f8af0" stroke-width="0.70"/>
<path d="M552.3 144.8L563.1 134.6" stroke="#2b4ce2" stroke-width="2.8"/><path d="M552.3 144.8L563.1 134.6" stroke="#6f8af0" stroke-width="0.70"/>
<path d="M573.9 124.4L563.1 134.6" stroke="#2b4ce2" stroke-width="2.8"/><path d="M573.9 124.4L563.1 134.6" stroke="#6f8af0" stroke-width="0.70"/>
<path d="M552.3 144.8L538.9 149.6" stroke="#e3181b" stroke-width="2.8"/><path d="M552.3 144.8L538.9 149.6" stroke="#f76a6c" stroke-width="0.70"/>
<path d="M525.5 154.4L538.9 149.6" stroke="#2b4ce2" stroke-width="2.8"/><path d="M525.5 154.4L538.9 149.6" stroke="#6f8af0" stroke-width="0.70"/>
<path d="M436.5 170.5L443.1 166.7" stroke="#2b4ce2" stroke-width="2.8"/><path d="M436.5 170.5L443.1 166.7" stroke="#6f8af0" stroke-width="0.70"/>
<path d="M449.7 162.9L443.1 166.7" stroke="#2b4ce2" stroke-width="2.8"/><path d="M449.7 162.9L443.1 166.7" stroke="#6f8af0" stroke-width="0.70"/>
<path d="M436.5 170.5L437.9 170.7" stroke="#2b4ce2" stroke-width="2.8"/><path d="M436.5 170.5L437.9 170.7" stroke="#6f8af0" stroke-width="0.70"/>
<path d="M439.2 170.9L437.9 170.7" stroke="#2b4ce2" stroke-width="2.8"/><path d="M439.2 170.9L437.9 170.7" stroke="#6f8af0" stroke-width="0.70"/>
<path d="M578.0 159.3L568.5 154.7" stroke="#2b4ce2" stroke-width="2.8"/><path d="M578.0 159.3L568.5 154.7" stroke="#6f8af0" stroke-width="0.70"/>
<path d="M559.0 150.1L568.5 154.7" stroke="#2b4ce2" stroke-width="2.8"/><path d="M559.0 150.1L568.5 154.7" stroke="#6f8af0" stroke-width="0.70"/>
<path d="M537.6 161.9L548.3 156.0" stroke="#2b4ce2" stroke-width="2.8"/><path d="M537.6 161.9L548.3 156.0" stroke="#6f8af0" stroke-width="0.70"/>
<path d="M559.0 150.1L548.3 156.0" stroke="#2b4ce2" stroke-width="2.8"/><path d="M559.0 150.1L548.3 156.0" stroke="#6f8af0" stroke-width="0.70"/>
<path d="M572.0 129.0L565.5 139.6" stroke="#2b4ce2" stroke-width="2.8"/><path d="M572.0 129.0L565.5 139.6" stroke="#6f8af0" stroke-width="0.70"/>
<path d="M559.0 150.1L565.5 139.6" stroke="#2b4ce2" stroke-width="2.8"/><path d="M559.0 150.1L565.5 139.6" stroke="#6f8af0" stroke-width="0.70"/>
<path d="M559.9 161.7L562.5 174.3" stroke="#2b4ce2" stroke-width="2.8"/><path d="M559.9 161.7L562.5 174.3" stroke="#6f8af0" stroke-width="0.70"/>
<path d="M565.2 187.0L562.5 174.3" stroke="#2b4ce2" stroke-width="2.8"/><path d="M565.2 187.0L562.5 174.3" stroke="#6f8af0" stroke-width="0.70"/>
<path d="M566.8 211.5L566.0 199.2" stroke="#2b4ce2" stroke-width="2.8"/><path d="M566.8 211.5L566.0 199.2" stroke="#6f8af0" stroke-width="0.70"/>
<path d="M565.2 187.0L566.0 199.2" stroke="#2b4ce2" stroke-width="2.8"/><path d="M565.2 187.0L566.0 199.2" stroke="#6f8af0" stroke-width="0.70"/>
<path d="M558.3 212.1L561.7 199.5" stroke="#e3181b" stroke-width="2.8"/><path d="M558.3 212.1L561.7 199.5" stroke="#f76a6c" stroke-width="0.70"/>
<path d="M565.2 187.0L561.7 199.5" stroke="#2b4ce2" stroke-width="2.8"/><path d="M565.2 187.0L561.7 199.5" stroke="#6f8af0" stroke-width="0.70"/>
<path d="M572.4 201.9L568.8 194.4" stroke="#e3181b" stroke-width="2.8"/><path d="M572.4 201.9L568.8 194.4" stroke="#f76a6c" stroke-width="0.70"/>
<path d="M565.2 187.0L568.8 194.4" stroke="#2b4ce2" stroke-width="2.8"/><path d="M565.2 187.0L568.8 194.4" stroke="#6f8af0" stroke-width="0.70"/>
<path d="M502.0 23.3L512.4 29.2" stroke="#e3181b" stroke-width="2.8"/><path d="M502.0 23.3L512.4 29.2" stroke="#f76a6c" stroke-width="0.70"/>
<path d="M522.7 35.2L512.4 29.2" stroke="#2b4ce2" stroke-width="2.8"/><path d="M522.7 35.2L512.4 29.2" stroke="#6f8af0" stroke-width="0.70"/>
<path d="M537.1 46.9L529.9 41.1" stroke="#2b4ce2" stroke-width="2.8"/><path d="M537.1 46.9L529.9 41.1" stroke="#6f8af0" stroke-width="0.70"/>
<path d="M522.7 35.2L529.9 41.1" stroke="#2b4ce2" stroke-width="2.8"/><path d="M522.7 35.2L529.9 41.1" stroke="#6f8af0" stroke-width="0.70"/>
<path d="M516.4 17.5L519.5 26.3" stroke="#2b4ce2" stroke-width="2.8"/><path d="M516.4 17.5L519.5 26.3" stroke="#6f8af0" stroke-width="0.70"/>
<path d="M522.7 35.2L519.5 26.3" stroke="#2b4ce2" stroke-width="2.8"/><path d="M522.7 35.2L519.5 26.3" stroke="#6f8af0" stroke-width="0.70"/>
<path d="M553.4 5.9L550.4 -6.5" stroke="#e3181b" stroke-width="2.8"/><path d="M553.4 5.9L550.4 -6.5" stroke="#f76a6c" stroke-width="0.70"/>
<path d="M547.5 -19.0L550.4 -6.5" stroke="#2b4ce2" stroke-width="2.8"/><path d="M547.5 -19.0L550.4 -6.5" stroke="#6f8af0" stroke-width="0.70"/>
<path d="M571.3 -10.6L559.4 -14.8" stroke="#e3181b" stroke-width="2.8"/><path d="M571.3 -10.6L559.4 -14.8" stroke="#f76a6c" stroke-width="0.70"/>
<path d="M547.5 -19.0L559.4 -14.8" stroke="#2b4ce2" stroke-width="2.8"/><path d="M547.5 -19.0L559.4 -14.8" stroke="#6f8af0" stroke-width="0.70"/>
<path d="M530.0 -38.2L538.7 -28.6" stroke="#e3181b" stroke-width="2.8"/><path d="M530.0 -38.2L538.7 -28.6" stroke="#f76a6c" stroke-width="0.70"/>
<path d="M547.5 -19.0L538.7 -28.6" stroke="#2b4ce2" stroke-width="2.8"/><path d="M547.5 -19.0L538.7 -28.6" stroke="#6f8af0" stroke-width="0.70"/>
<path d="M552.3 -42.3L549.9 -30.7" stroke="#2b4ce2" stroke-width="2.8"/><path d="M552.3 -42.3L549.9 -30.7" stroke="#6f8af0" stroke-width="0.70"/>
<path d="M547.5 -19.0L549.9 -30.7" stroke="#2b4ce2" stroke-width="2.8"/><path d="M547.5 -19.0L549.9 -30.7" stroke="#6f8af0" stroke-width="0.70"/>
<path d="M574.1 -8.2L565.9 -0.4" stroke="#2b4ce2" stroke-width="2.8"/><path d="M574.1 -8.2L565.9 -0.4" stroke="#6f8af0" stroke-width="0.70"/>
<path d="M557.7 7.4L565.9 -0.4" stroke="#2b4ce2" stroke-width="2.8"/><path d="M557.7 7.4L565.9 -0.4" stroke="#6f8af0" stroke-width="0.70"/>
<path d="M563.8 -17.5L560.8 -5.0" stroke="#e3181b" stroke-width="2.8"/><path d="M563.8 -17.5L560.8 -5.0" stroke="#f76a6c" stroke-width="0.70"/>
<path d="M557.7 7.4L560.8 -5.0" stroke="#2b4ce2" stroke-width="2.8"/><path d="M557.7 7.4L560.8 -5.0" stroke="#6f8af0" stroke-width="0.70"/>
<path d="M554.6 16.4L556.2 11.9" stroke="#e3181b" stroke-width="2.8"/><path d="M554.6 16.4L556.2 11.9" stroke="#f76a6c" stroke-width="0.70"/>
<path d="M557.7 7.4L556.2 11.9" stroke="#2b4ce2" stroke-width="2.8"/><path d="M557.7 7.4L556.2 11.9" stroke="#6f8af0" stroke-width="0.70"/>
<path d="M532.0 8.9L544.9 8.2" stroke="#e3181b" stroke-width="2.8"/><path d="M532.0 8.9L544.9 8.2" stroke="#f76a6c" stroke-width="0.70"/>
<path d="M557.7 7.4L544.9 8.2" stroke="#2b4ce2" stroke-width="2.8"/><path d="M557.7 7.4L544.9 8.2" stroke="#6f8af0" stroke-width="0.70"/>
<path d="M635.7 42.7L626.7 34.6" stroke="#e3181b" stroke-width="2.8"/><path d="M635.7 42.7L626.7 34.6" stroke="#f76a6c" stroke-width="0.70"/>
<path d="M617.7 26.6L626.7 34.6" stroke="#2b4ce2" stroke-width="2.8"/><path d="M617.7 26.6L626.7 34.6" stroke="#6f8af0" stroke-width="0.70"/>
<path d="M610.5 35.8L614.1 31.2" stroke="#2b4ce2" stroke-width="2.8"/><path d="M610.5 35.8L614.1 31.2" stroke="#6f8af0" stroke-width="0.70"/>
<path d="M617.7 26.6L614.1 31.2" stroke="#2b4ce2" stroke-width="2.8"/><path d="M617.7 26.6L614.1 31.2" stroke="#6f8af0" stroke-width="0.70"/>
<path d="M601.9 5.9L609.8 16.3" stroke="#e3181b" stroke-width="2.8"/><path d="M601.9 5.9L609.8 16.3" stroke="#f76a6c" stroke-width="0.70"/>
<path d="M617.7 26.6L609.8 16.3" stroke="#2b4ce2" stroke-width="2.8"/><path d="M617.7 26.6L609.8 16.3" stroke="#6f8af0" stroke-width="0.70"/>
<path d="M612.9 1.2L615.3 13.9" stroke="#e3181b" stroke-width="2.8"/><path d="M612.9 1.2L615.3 13.9" stroke="#f76a6c" stroke-width="0.70"/>
<path d="M617.7 26.6L615.3 13.9" stroke="#2b4ce2" stroke-width="2.8"/><path d="M617.7 26.6L615.3 13.9" stroke="#6f8af0" stroke-width="0.70"/>
<path d="M661.9 175.4L652.9 177.9" stroke="#2b4ce2" stroke-width="2.8"/><path d="M661.9 175.4L652.9 177.9" stroke="#6f8af0" stroke-width="0.70"/>
<path d="M643.9 180.4L652.9 177.9" stroke="#2b4ce2" stroke-width="2.8"/><path d="M643.9 180.4L652.9 177.9" stroke="#6f8af0" stroke-width="0.70"/>
<path d="M621.8 192.7L632.8 186.5" stroke="#e3181b" stroke-width="2.8"/><path d="M621.8 192.7L632.8 186.5" stroke="#f76a6c" stroke-width="0.70"/>
<path d="M643.9 180.4L632.8 186.5" stroke="#2b4ce2" stroke-width="2.8"/><path d="M643.9 180.4L632.8 186.5" stroke="#6f8af0" stroke-width="0.70"/>
<path d="M635.6 156.5L639.7 168.5" stroke="#2b4ce2" stroke-width="2.8"/><path d="M635.6 156.5L639.7 168.5" stroke="#6f8af0" stroke-width="0.70"/>
<path d="M643.9 180.4L639.7 168.5" stroke="#2b4ce2" stroke-width="2.8"/><path d="M643.9 180.4L639.7 168.5" stroke="#6f8af0" stroke-width="0.70"/>
<path d="M641.9 112.1L640.4 107.6" stroke="#e3181b" stroke-width="2.8"/><path d="M641.9 112.1L640.4 107.6" stroke="#f76a6c" stroke-width="0.70"/>
<path d="M638.9 103.1L640.4 107.6" stroke="#2b4ce2" stroke-width="2.8"/><path d="M638.9 103.1L640.4 107.6" stroke="#6f8af0" stroke-width="0.70"/>
<path d="M657.4 115.3L648.2 109.2" stroke="#2b4ce2" stroke-width="2.8"/><path d="M657.4 115.3L648.2 109.2" stroke="#6f8af0" stroke-width="0.70"/>
<path d="M638.9 103.1L648.2 109.2" stroke="#2b4ce2" stroke-width="2.8"/><path d="M638.9 103.1L648.2 109.2" stroke="#6f8af0" stroke-width="0.70"/>
<path d="M492.3 17.8L494.8 17.1" stroke="#e3181b" stroke-width="2.8"/><path d="M492.3 17.8L494.8 17.1" stroke="#f76a6c" stroke-width="0.70"/>
<path d="M497.2 16.5L494.8 17.1" stroke="#2b4ce2" stroke-width="2.8"/><path d="M497.2 16.5L494.8 17.1" stroke="#6f8af0" stroke-width="0.70"/>
<path d="M507.4 -6.3L502.3 5.1" stroke="#e3181b" stroke-width="2.8"/><path d="M507.4 -6.3L502.3 5.1" stroke="#f76a6c" stroke-width="0.70"/>
<path d="M497.2 16.5L502.3 5.1" stroke="#2b4ce2" stroke-width="2.8"/><path d="M497.2 16.5L502.3 5.1" stroke="#6f8af0" stroke-width="0.70"/>
<path d="M405.4 61.3L416.4 54.6" stroke="#2b4ce2" stroke-width="2.8"/><path d="M405.4 61.3L416.4 54.6" stroke="#6f8af0" stroke-width="0.70"/>
<path d="M427.4 47.9L416.4 54.6" stroke="#2b4ce2" stroke-width="2.8"/><path d="M427.4 47.9L416.4 54.6" stroke="#6f8af0" stroke-width="0.70"/>
<path d="M448.9 43.1L438.1 45.5" stroke="#e3181b" stroke-width="2.8"/><path d="M448.9 43.1L438.1 45.5" stroke="#f76a6c" stroke-width="0.70"/>
<path d="M427.4 47.9L438.1 45.5" stroke="#2b4ce2" stroke-width="2.8"/><path d="M427.4 47.9L438.1 45.5" stroke="#6f8af0" stroke-width="0.70"/>
<path d="M433.1 54.8L430.3 51.3" stroke="#e3181b" stroke-width="2.8"/><path d="M433.1 54.8L430.3 51.3" stroke="#f76a6c" stroke-width="0.70"/>
<path d="M427.4 47.9L430.3 51.3" stroke="#2b4ce2" stroke-width="2.8"/><path d="M427.4 47.9L430.3 51.3" stroke="#6f8af0" stroke-width="0.70"/>
<path d="M404.6 115.0L408.7 125.2" stroke="#e3181b" stroke-width="2.8"/><path d="M404.6 115.0L408.7 125.2" stroke="#f76a6c" stroke-width="0.70"/>
<path d="M412.8 135.3L408.7 125.2" stroke="#2b4ce2" stroke-width="2.8"/><path d="M412.8 135.3L408.7 125.2" stroke="#6f8af0" stroke-width="0.70"/>
<path d="M476.7 99.4L481.6 94.5" stroke="#e3181b" stroke-width="2.8"/><path d="M476.7 99.4L481.6 94.5" stroke="#f76a6c" stroke-width="0.70"/>
<path d="M486.5 89.6L481.6 94.5" stroke="#2b4ce2" stroke-width="2.8"/><path d="M486.5 89.6L481.6 94.5" stroke="#6f8af0" stroke-width="0.70"/>
<path d="M475.4 80.1L481.0 84.9" stroke="#2b4ce2" stroke-width="2.8"/><path d="M475.4 80.1L481.0 84.9" stroke="#6f8af0" stroke-width="0.70"/>
<path d="M486.5 89.6L481.0 84.9" stroke="#2b4ce2" stroke-width="2.8"/><path d="M486.5 89.6L481.0 84.9" stroke="#6f8af0" stroke-width="0.70"/>
<path d="M507.9 84.5L497.2 87.1" stroke="#2b4ce2" stroke-width="2.8"/><path d="M507.9 84.5L497.2 87.1" stroke="#6f8af0" stroke-width="0.70"/>
<path d="M486.5 89.6L497.2 87.1" stroke="#2b4ce2" stroke-width="2.8"/><path d="M486.5 89.6L497.2 87.1" stroke="#6f8af0" stroke-width="0.70"/>
<path d="M615.1 59.5L606.5 61.2" stroke="#e3181b" stroke-width="2.8"/><path d="M615.1 59.5L606.5 61.2" stroke="#f76a6c" stroke-width="0.70"/>
<path d="M597.9 63.0L606.5 61.2" stroke="#2b4ce2" stroke-width="2.8"/><path d="M597.9 63.0L606.5 61.2" stroke="#6f8af0" stroke-width="0.70"/>
<path d="M612.5 76.1L605.2 69.5" stroke="#e3181b" stroke-width="2.8"/><path d="M612.5 76.1L605.2 69.5" stroke="#f76a6c" stroke-width="0.70"/>
<path d="M597.9 63.0L605.2 69.5" stroke="#2b4ce2" stroke-width="2.8"/><path d="M597.9 63.0L605.2 69.5" stroke="#6f8af0" stroke-width="0.70"/>
<path d="M618.6 76.6L608.3 69.8" stroke="#2b4ce2" stroke-width="2.8"/><path d="M618.6 76.6L608.3 69.8" stroke="#6f8af0" stroke-width="0.70"/>
<path d="M597.9 63.0L608.3 69.8" stroke="#2b4ce2" stroke-width="2.8"/><path d="M597.9 63.0L608.3 69.8" stroke="#6f8af0" stroke-width="0.70"/>
<path d="M408.3 11.4L411.2 0.1" stroke="#2b4ce2" stroke-width="2.8"/><path d="M408.3 11.4L411.2 0.1" stroke="#6f8af0" stroke-width="0.70"/>
<path d="M414.1 -11.2L411.2 0.1" stroke="#2b4ce2" stroke-width="2.8"/><path d="M414.1 -11.2L411.2 0.1" stroke="#6f8af0" stroke-width="0.70"/>
<path d="M400.8 10.8L407.5 -0.2" stroke="#2b4ce2" stroke-width="2.8"/><path d="M400.8 10.8L407.5 -0.2" stroke="#6f8af0" stroke-width="0.70"/>
<path d="M414.1 -11.2L407.5 -0.2" stroke="#2b4ce2" stroke-width="2.8"/><path d="M414.1 -11.2L407.5 -0.2" stroke="#6f8af0" stroke-width="0.70"/>
<path d="M636.1 0.8L636.7 12.2" stroke="#2b4ce2" stroke-width="2.8"/><path d="M636.1 0.8L636.7 12.2" stroke="#6f8af0" stroke-width="0.70"/>
<path d="M637.4 23.6L636.7 12.2" stroke="#2b4ce2" stroke-width="2.8"/><path d="M637.4 23.6L636.7 12.2" stroke="#6f8af0" stroke-width="0.70"/>
<path d="M624.5 1.4L631.0 12.5" stroke="#2b4ce2" stroke-width="2.8"/><path d="M624.5 1.4L631.0 12.5" stroke="#6f8af0" stroke-width="0.70"/>
<path d="M637.4 23.6L631.0 12.5" stroke="#2b4ce2" stroke-width="2.8"/><path d="M637.4 23.6L631.0 12.5" stroke="#6f8af0" stroke-width="0.70"/>
<path d="M441.5 126.2L439.5 138.9" stroke="#2b4ce2" stroke-width="2.8"/><path d="M441.5 126.2L439.5 138.9" stroke="#6f8af0" stroke-width="0.70"/>
<path d="M437.5 151.6L439.5 138.9" stroke="#2b4ce2" stroke-width="2.8"/><path d="M437.5 151.6L439.5 138.9" stroke="#6f8af0" stroke-width="0.70"/>
<path d="M414.2 145.4L425.9 148.5" stroke="#e3181b" stroke-width="2.8"/><path d="M414.2 145.4L425.9 148.5" stroke="#f76a6c" stroke-width="0.70"/>
<path d="M437.5 151.6L425.9 148.5" stroke="#2b4ce2" stroke-width="2.8"/><path d="M437.5 151.6L425.9 148.5" stroke="#6f8af0" stroke-width="0.70"/>
<path d="M612.4 -29.5L613.6 -21.5" stroke="#e3181b" stroke-width="2.8"/><path d="M612.4 -29.5L613.6 -21.5" stroke="#f76a6c" stroke-width="0.70"/>
<path d="M614.9 -13.5L613.6 -21.5" stroke="#2b4ce2" stroke-width="2.8"/><path d="M614.9 -13.5L613.6 -21.5" stroke="#6f8af0" stroke-width="0.70"/>
<path d="M640.8 -12.7L627.9 -13.1" stroke="#2b4ce2" stroke-width="2.8"/><path d="M640.8 -12.7L627.9 -13.1" stroke="#6f8af0" stroke-width="0.70"/>
<path d="M614.9 -13.5L627.9 -13.1" stroke="#2b4ce2" stroke-width="2.8"/><path d="M614.9 -13.5L627.9 -13.1" stroke="#6f8af0" stroke-width="0.70"/>
<path d="M618.1 -13.6L616.5 -13.6" stroke="#e3181b" stroke-width="2.8"/><path d="M618.1 -13.6L616.5 -13.6" stroke="#f76a6c" stroke-width="0.70"/>
<path d="M614.9 -13.5L616.5 -13.6" stroke="#2b4ce2" stroke-width="2.8"/><path d="M614.9 -13.5L616.5 -13.6" stroke="#6f8af0" stroke-width="0.70"/>
<path d="M598.0 1.8L606.4 -5.9" stroke="#2b4ce2" stroke-width="2.8"/><path d="M598.0 1.8L606.4 -5.9" stroke="#6f8af0" stroke-width="0.70"/>
<path d="M614.9 -13.5L606.4 -5.9" stroke="#2b4ce2" stroke-width="2.8"/><path d="M614.9 -13.5L606.4 -5.9" stroke="#6f8af0" stroke-width="0.70"/>
<path d="M634.1 82.0L631.4 69.4" stroke="#2b4ce2" stroke-width="2.8"/><path d="M634.1 82.0L631.4 69.4" stroke="#6f8af0" stroke-width="0.70"/>
<path d="M628.7 56.9L631.4 69.4" stroke="#2b4ce2" stroke-width="2.8"/><path d="M628.7 56.9L631.4 69.4" stroke="#6f8af0" stroke-width="0.70"/>
<path d="M611.2 60.0L619.9 58.4" stroke="#2b4ce2" stroke-width="2.8"/><path d="M611.2 60.0L619.9 58.4" stroke="#6f8af0" stroke-width="0.70"/>
<path d="M628.7 56.9L619.9 58.4" stroke="#2b4ce2" stroke-width="2.8"/><path d="M628.7 56.9L619.9 58.4" stroke="#6f8af0" stroke-width="0.70"/>
<path d="M446.8 202.5L435.1 204.7" stroke="#2b4ce2" stroke-width="2.8"/><path d="M446.8 202.5L435.1 204.7" stroke="#6f8af0" stroke-width="0.70"/>
<path d="M423.5 206.9L435.1 204.7" stroke="#2b4ce2" stroke-width="2.8"/><path d="M423.5 206.9L435.1 204.7" stroke="#6f8af0" stroke-width="0.70"/>
<path d="M447.6 215.3L435.5 211.1" stroke="#2b4ce2" stroke-width="2.8"/><path d="M447.6 215.3L435.5 211.1" stroke="#6f8af0" stroke-width="0.70"/>
<path d="M423.5 206.9L435.5 211.1" stroke="#2b4ce2" stroke-width="2.8"/><path d="M423.5 206.9L435.5 211.1" stroke="#6f8af0" stroke-width="0.70"/>
<path d="M412.1 187.5L417.8 197.2" stroke="#2b4ce2" stroke-width="2.8"/><path d="M412.1 187.5L417.8 197.2" stroke="#6f8af0" stroke-width="0.70"/>
<path d="M423.5 206.9L417.8 197.2" stroke="#2b4ce2" stroke-width="2.8"/><path d="M423.5 206.9L417.8 197.2" stroke="#6f8af0" stroke-width="0.70"/>
<path d="M568.9 178.0L576.8 188.2" stroke="#e3181b" stroke-width="2.8"/><path d="M568.9 178.0L576.8 188.2" stroke="#f76a6c" stroke-width="0.70"/>
<path d="M584.7 198.4L576.8 188.2" stroke="#2b4ce2" stroke-width="2.8"/><path d="M584.7 198.4L576.8 188.2" stroke="#6f8af0" stroke-width="0.70"/>
<path d="M585.9 201.5L585.3 199.9" stroke="#e3181b" stroke-width="2.8"/><path d="M585.9 201.5L585.3 199.9" stroke="#f76a6c" stroke-width="0.70"/>
<path d="M584.7 198.4L585.3 199.9" stroke="#2b4ce2" stroke-width="2.8"/><path d="M584.7 198.4L585.3 199.9" stroke="#6f8af0" stroke-width="0.70"/>
<path d="M601.4 181.5L593.0 189.9" stroke="#2b4ce2" stroke-width="2.8"/><path d="M601.4 181.5L593.0 189.9" stroke="#6f8af0" stroke-width="0.70"/>
<path d="M584.7 198.4L593.0 189.9" stroke="#2b4ce2" stroke-width="2.8"/><path d="M584.7 198.4L593.0 189.9" stroke="#6f8af0" stroke-width="0.70"/>
<path d="M577.3 223.3L581.0 210.8" stroke="#e3181b" stroke-width="2.8"/><path d="M577.3 223.3L581.0 210.8" stroke="#f76a6c" stroke-width="0.70"/>
<path d="M584.7 198.4L581.0 210.8" stroke="#2b4ce2" stroke-width="2.8"/><path d="M584.7 198.4L581.0 210.8" stroke="#6f8af0" stroke-width="0.70"/>
<path d="M617.0 -12.7L607.5 -5.0" stroke="#e3181b" stroke-width="2.8"/><path d="M617.0 -12.7L607.5 -5.0" stroke="#f76a6c" stroke-width="0.70"/>
<path d="M598.0 2.7L607.5 -5.0" stroke="#2b4ce2" stroke-width="2.8"/><path d="M598.0 2.7L607.5 -5.0" stroke="#6f8af0" stroke-width="0.70"/>
<path d="M590.0 27.1L594.0 14.9" stroke="#e3181b" stroke-width="2.8"/><path d="M590.0 27.1L594.0 14.9" stroke="#f76a6c" stroke-width="0.70"/>
<path d="M598.0 2.7L594.0 14.9" stroke="#2b4ce2" stroke-width="2.8"/><path d="M598.0 2.7L594.0 14.9" stroke="#6f8af0" stroke-width="0.70"/>
<path d="M603.3 27.9L600.6 15.3" stroke="#e3181b" stroke-width="2.8"/><path d="M603.3 27.9L600.6 15.3" stroke="#f76a6c" stroke-width="0.70"/>
<path d="M598.0 2.7L600.6 15.3" stroke="#2b4ce2" stroke-width="2.8"/><path d="M598.0 2.7L600.6 15.3" stroke="#6f8af0" stroke-width="0.70"/>
<path d="M613.6 -2.0L605.8 0.4" stroke="#2b4ce2" stroke-width="2.8"/><path d="M613.6 -2.0L605.8 0.4" stroke="#6f8af0" stroke-width="0.70"/>
<path d="M598.0 2.7L605.8 0.4" stroke="#2b4ce2" stroke-width="2.8"/><path d="M598.0 2.7L605.8 0.4" stroke="#6f8af0" stroke-width="0.70"/>
<path d="M534.7 225.3L526.8 217.6" stroke="#2b4ce2" stroke-width="2.8"/><path d="M534.7 225.3L526.8 217.6" stroke="#6f8af0" stroke-width="0.70"/>
<path d="M518.9 209.8L526.8 217.6" stroke="#2b4ce2" stroke-width="2.8"/><path d="M518.9 209.8L526.8 217.6" stroke="#6f8af0" stroke-width="0.70"/>
<path d="M520.2 190.8L519.6 200.3" stroke="#2b4ce2" stroke-width="2.8"/><path d="M520.2 190.8L519.6 200.3" stroke="#6f8af0" stroke-width="0.70"/>
<path d="M518.9 209.8L519.6 200.3" stroke="#2b4ce2" stroke-width="2.8"/><path d="M518.9 209.8L519.6 200.3" stroke="#6f8af0" stroke-width="0.70"/>
<path d="M525.5 204.1L522.2 207.0" stroke="#e3181b" stroke-width="2.8"/><path d="M525.5 204.1L522.2 207.0" stroke="#f76a6c" stroke-width="0.70"/>
<path d="M518.9 209.8L522.2 207.0" stroke="#2b4ce2" stroke-width="2.8"/><path d="M518.9 209.8L522.2 207.0" stroke="#6f8af0" stroke-width="0.70"/>
<path d="M646.5 108.1L644.4 95.7" stroke="#2b4ce2" stroke-width="2.8"/><path d="M646.5 108.1L644.4 95.7" stroke="#6f8af0" stroke-width="0.70"/>
<path d="M642.3 83.2L644.4 95.7" stroke="#2b4ce2" stroke-width="2.8"/><path d="M642.3 83.2L644.4 95.7" stroke="#6f8af0" stroke-width="0.70"/>
<path d="M648.0 89.8L645.2 86.5" stroke="#e3181b" stroke-width="2.8"/><path d="M648.0 89.8L645.2 86.5" stroke="#f76a6c" stroke-width="0.70"/>
<path d="M642.3 83.2L645.2 86.5" stroke="#2b4ce2" stroke-width="2.8"/><path d="M642.3 83.2L645.2 86.5" stroke="#6f8af0" stroke-width="0.70"/>
<path d="M561.5 101.7L572.8 95.4" stroke="#2b4ce2" stroke-width="2.8"/><path d="M561.5 101.7L572.8 95.4" stroke="#6f8af0" stroke-width="0.70"/>
<path d="M584.2 89.1L572.8 95.4" stroke="#2b4ce2" stroke-width="2.8"/><path d="M584.2 89.1L572.8 95.4" stroke="#6f8af0" stroke-width="0.70"/>
<path d="M560.7 100.3L572.4 94.7" stroke="#e3181b" stroke-width="2.8"/><path d="M560.7 100.3L572.4 94.7" stroke="#f76a6c" stroke-width="0.70"/>
<path d="M584.2 89.1L572.4 94.7" stroke="#2b4ce2" stroke-width="2.8"/><path d="M584.2 89.1L572.4 94.7" stroke="#6f8af0" stroke-width="0.70"/>
<path d="M561.8 91.2L573.0 90.2" stroke="#2b4ce2" stroke-width="2.8"/><path d="M561.8 91.2L573.0 90.2" stroke="#6f8af0" stroke-width="0.70"/>
<path d="M584.2 89.1L573.0 90.2" stroke="#2b4ce2" stroke-width="2.8"/><path d="M584.2 89.1L573.0 90.2" stroke="#6f8af0" stroke-width="0.70"/>
<path d="M619.5 197.7L632.4 199.2" stroke="#2b4ce2" stroke-width="2.8"/><path d="M619.5 197.7L632.4 199.2" stroke="#6f8af0" stroke-width="0.70"/>
<path d="M645.3 200.7L632.4 199.2" stroke="#2b4ce2" stroke-width="2.8"/><path d="M645.3 200.7L632.4 199.2" stroke="#6f8af0" stroke-width="0.70"/>
<path d="M638.0 219.8L641.7 210.3" stroke="#2b4ce2" stroke-width="2.8"/><path d="M638.0 219.8L641.7 210.3" stroke="#6f8af0" stroke-width="0.70"/>
<path d="M645.3 200.7L641.7 210.3" stroke="#2b4ce2" stroke-width="2.8"/><path d="M645.3 200.7L641.7 210.3" stroke="#6f8af0" stroke-width="0.70"/>
<path d="M634.4 211.6L639.8 206.1" stroke="#2b4ce2" stroke-width="2.8"/><path d="M634.4 211.6L639.8 206.1" stroke="#6f8af0" stroke-width="0.70"/>
<path d="M645.3 200.7L639.8 206.1" stroke="#2b4ce2" stroke-width="2.8"/><path d="M645.3 200.7L639.8 206.1" stroke="#6f8af0" stroke-width="0.70"/>
<path d="M651.5 225.3L648.4 213.0" stroke="#e3181b" stroke-width="2.8"/><path d="M651.5 225.3L648.4 213.0" stroke="#f76a6c" stroke-width="0.70"/>
<path d="M645.3 200.7L648.4 213.0" stroke="#2b4ce2" stroke-width="2.8"/><path d="M645.3 200.7L648.4 213.0" stroke="#6f8af0" stroke-width="0.70"/>
<path d="M487.2 136.6L492.5 139.0" stroke="#2b4ce2" stroke-width="2.8"/><path d="M487.2 136.6L492.5 139.0" stroke="#6f8af0" stroke-width="0.70"/>
<path d="M497.8 141.4L492.5 139.0" stroke="#2b4ce2" stroke-width="2.8"/><path d="M497.8 141.4L492.5 139.0" stroke="#6f8af0" stroke-width="0.70"/>
<path d="M488.2 157.6L493.0 149.5" stroke="#e3181b" stroke-width="2.8"/><path d="M488.2 157.6L493.0 149.5" stroke="#f76a6c" stroke-width="0.70"/>
<path d="M497.8 141.4L493.0 149.5" stroke="#2b4ce2" stroke-width="2.8"/><path d="M497.8 141.4L493.0 149.5" stroke="#6f8af0" stroke-width="0.70"/>
<path d="M544.2 -36.3L546.6 -27.8" stroke="#e3181b" stroke-width="2.8"/><path d="M544.2 -36.3L546.6 -27.8" stroke="#f76a6c" stroke-width="0.70"/>
<path d="M549.0 -19.3L546.6 -27.8" stroke="#2b4ce2" stroke-width="2.8"/><path d="M549.0 -19.3L546.6 -27.8" stroke="#6f8af0" stroke-width="0.70"/>
<path d="M533.4 -40.1L541.2 -29.7" stroke="#e3181b" stroke-width="2.8"/><path d="M533.4 -40.1L541.2 -29.7" stroke="#f76a6c" stroke-width="0.70"/>
<path d="M549.0 -19.3L541.2 -29.7" stroke="#2b4ce2" stroke-width="2.8"/><path d="M549.0 -19.3L541.2 -29.7" stroke="#6f8af0" stroke-width="0.70"/>
<path d="M554.4 -38.7L551.7 -29.0" stroke="#2b4ce2" stroke-width="2.8"/><path d="M554.4 -38.7L551.7 -29.0" stroke="#6f8af0" stroke-width="0.70"/>
<path d="M549.0 -19.3L551.7 -29.0" stroke="#2b4ce2" stroke-width="2.8"/><path d="M549.0 -19.3L551.7 -29.0" stroke="#6f8af0" stroke-width="0.70"/>
<path d="M549.0 -38.9L549.0 -29.1" stroke="#e3181b" stroke-width="2.8"/><path d="M549.0 -38.9L549.0 -29.1" stroke="#f76a6c" stroke-width="0.70"/>
<path d="M549.0 -19.3L549.0 -29.1" stroke="#2b4ce2" stroke-width="2.8"/><path d="M549.0 -19.3L549.0 -29.1" stroke="#6f8af0" stroke-width="0.70"/>
<path d="M597.7 19.7L591.0 18.8" stroke="#e3181b" stroke-width="2.8"/><path d="M597.7 19.7L591.0 18.8" stroke="#f76a6c" stroke-width="0.70"/>
<path d="M584.4 17.9L591.0 18.8" stroke="#2b4ce2" stroke-width="2.8"/><path d="M584.4 17.9L591.0 18.8" stroke="#6f8af0" stroke-width="0.70"/>
<path d="M595.4 38.8L589.9 28.3" stroke="#e3181b" stroke-width="2.8"/><path d="M595.4 38.8L589.9 28.3" stroke="#f76a6c" stroke-width="0.70"/>
<path d="M584.4 17.9L589.9 28.3" stroke="#2b4ce2" stroke-width="2.8"/><path d="M584.4 17.9L589.9 28.3" stroke="#6f8af0" stroke-width="0.70"/>
<path d="M569.7 15.1L577.0 16.5" stroke="#e3181b" stroke-width="2.8"/><path d="M569.7 15.1L577.0 16.5" stroke="#f76a6c" stroke-width="0.70"/>
<path d="M584.4 17.9L577.0 16.5" stroke="#2b4ce2" stroke-width="2.8"/><path d="M584.4 17.9L577.0 16.5" stroke="#6f8af0" stroke-width="0.70"/>
<path d="M529.8 149.8L539.4 141.1" stroke="#2b4ce2" stroke-width="2.8"/><path d="M529.8 149.8L539.4 141.1" stroke="#6f8af0" stroke-width="0.70"/>
<path d="M549.1 132.4L539.4 141.1" stroke="#2b4ce2" stroke-width="2.8"/><path d="M549.1 132.4L539.4 141.1" stroke="#6f8af0" stroke-width="0.70"/>
<path d="M561.1 153.2L555.1 142.8" stroke="#e3181b" stroke-width="2.8"/><path d="M561.1 153.2L555.1 142.8" stroke="#f76a6c" stroke-width="0.70"/>
<path d="M549.1 132.4L555.1 142.8" stroke="#2b4ce2" stroke-width="2.8"/><path d="M549.1 132.4L555.1 142.8" stroke="#6f8af0" stroke-width="0.70"/>
<path d="M559.1 130.3L554.1 131.4" stroke="#e3181b" stroke-width="2.8"/><path d="M559.1 130.3L554.1 131.4" stroke="#f76a6c" stroke-width="0.70"/>
<path d="M549.1 132.4L554.1 131.4" stroke="#2b4ce2" stroke-width="2.8"/><path d="M549.1 132.4L554.1 131.4" stroke="#6f8af0" stroke-width="0.70"/>
<path d="M423.9 68.1L433.7 59.9" stroke="#e3181b" stroke-width="2.8"/><path d="M423.9 68.1L433.7 59.9" stroke="#f76a6c" stroke-width="0.70"/>
<path d="M443.5 51.6L433.7 59.9" stroke="#2b4ce2" stroke-width="2.8"/><path d="M443.5 51.6L433.7 59.9" stroke="#6f8af0" stroke-width="0.70"/>
<path d="M467.2 56.8L455.4 54.2" stroke="#2b4ce2" stroke-width="2.8"/><path d="M467.2 56.8L455.4 54.2" stroke="#6f8af0" stroke-width="0.70"/>
<path d="M443.5 51.6L455.4 54.2" stroke="#2b4ce2" stroke-width="2.8"/><path d="M443.5 51.6L455.4 54.2" stroke="#6f8af0" stroke-width="0.70"/>
<path d="M429.9 70.1L436.7 60.9" stroke="#e3181b" stroke-width="2.8"/><path d="M429.9 70.1L436.7 60.9" stroke="#f76a6c" stroke-width="0.70"/>
<path d="M443.5 51.6L436.7 60.9" stroke="#2b4ce2" stroke-width="2.8"/><path d="M443.5 51.6L436.7 60.9" stroke="#6f8af0" stroke-width="0.70"/>
<path d="M427.5 32.0L435.5 41.8" stroke="#e3181b" stroke-width="2.8"/><path d="M427.5 32.0L435.5 41.8" stroke="#f76a6c" stroke-width="0.70"/>
<path d="M443.5 51.6L435.5 41.8" stroke="#2b4ce2" stroke-width="2.8"/><path d="M443.5 51.6L435.5 41.8" stroke="#6f8af0" stroke-width="0.70"/>
<path d="M468.5 -7.0L463.1 -10.4" stroke="#2b4ce2" stroke-width="2.8"/><path d="M468.5 -7.0L463.1 -10.4" stroke="#6f8af0" stroke-width="0.70"/>
<path d="M457.6 -13.7L463.1 -10.4" stroke="#2b4ce2" stroke-width="2.8"/><path d="M457.6 -13.7L463.1 -10.4" stroke="#6f8af0" stroke-width="0.70"/>
<path d="M481.9 -14.5L469.7 -14.1" stroke="#2b4ce2" stroke-width="2.8"/><path d="M481.9 -14.5L469.7 -14.1" stroke="#6f8af0" stroke-width="0.70"/>
<path d="M457.6 -13.7L469.7 -14.1" stroke="#2b4ce2" stroke-width="2.8"/><path d="M457.6 -13.7L469.7 -14.1" stroke="#6f8af0" stroke-width="0.70"/>
<path d="M463.1 -39.1L460.4 -26.4" stroke="#e3181b" stroke-width="2.8"/><path d="M463.1 -39.1L460.4 -26.4" stroke="#f76a6c" stroke-width="0.70"/>
<path d="M457.6 -13.7L460.4 -26.4" stroke="#2b4ce2" stroke-width="2.8"/><path d="M457.6 -13.7L460.4 -26.4" stroke="#6f8af0" stroke-width="0.70"/>
<path d="M480.6 -22.3L469.1 -18.0" stroke="#2b4ce2" stroke-width="2.8"/><path d="M480.6 -22.3L469.1 -18.0" stroke="#6f8af0" stroke-width="0.70"/>
<path d="M457.6 -13.7L469.1 -18.0" stroke="#2b4ce2" stroke-width="2.8"/><path d="M457.6 -13.7L469.1 -18.0" stroke="#6f8af0" stroke-width="0.70"/>
<path d="M403.0 102.0L411.8 111.2" stroke="#2b4ce2" stroke-width="2.8"/><path d="M403.0 102.0L411.8 111.2" stroke="#6f8af0" stroke-width="0.70"/>
<path d="M420.5 120.3L411.8 111.2" stroke="#2b4ce2" stroke-width="2.8"/><path d="M420.5 120.3L411.8 111.2" stroke="#6f8af0" stroke-width="0.70"/>
<path d="M438.5 102.9L429.5 111.6" stroke="#2b4ce2" stroke-width="2.8"/><path d="M438.5 102.9L429.5 111.6" stroke="#6f8af0" stroke-width="0.70"/>
<path d="M420.5 120.3L429.5 111.6" stroke="#2b4ce2" stroke-width="2.8"/><path d="M420.5 120.3L429.5 111.6" stroke="#6f8af0" stroke-width="0.70"/>
<path d="M607.7 134.7L605.8 130.9" stroke="#e3181b" stroke-width="2.8"/><path d="M607.7 134.7L605.8 130.9" stroke="#f76a6c" stroke-width="0.70"/>
<path d="M603.9 127.0L605.8 130.9" stroke="#2b4ce2" stroke-width="2.8"/><path d="M603.9 127.0L605.8 130.9" stroke="#6f8af0" stroke-width="0.70"/>
<path d="M629.0 120.8L616.4 123.9" stroke="#e3181b" stroke-width="2.8"/><path d="M629.0 120.8L616.4 123.9" stroke="#f76a6c" stroke-width="0.70"/>
<path d="M603.9 127.0L616.4 123.9" stroke="#2b4ce2" stroke-width="2.8"/><path d="M603.9 127.0L616.4 123.9" stroke="#6f8af0" stroke-width="0.70"/>
<path d="M462.5 121.0L454.0 118.6" stroke="#2b4ce2" stroke-width="2.8"/><path d="M462.5 121.0L454.0 118.6" stroke="#6f8af0" stroke-width="0.70"/>
<path d="M445.5 116.3L454.0 118.6" stroke="#2b4ce2" stroke-width="2.8"/><path d="M445.5 116.3L454.0 118.6" stroke="#6f8af0" stroke-width="0.70"/>
<path d="M446.9 141.4L446.2 128.8" stroke="#e3181b" stroke-width="2.8"/><path d="M446.9 141.4L446.2 128.8" stroke="#f76a6c" stroke-width="0.70"/>
<path d="M445.5 116.3L446.2 128.8" stroke="#2b4ce2" stroke-width="2.8"/><path d="M445.5 116.3L446.2 128.8" stroke="#6f8af0" stroke-width="0.70"/>
<path d="M461.6 130.9L453.6 123.6" stroke="#2b4ce2" stroke-width="2.8"/><path d="M461.6 130.9L453.6 123.6" stroke="#6f8af0" stroke-width="0.70"/>
<path d="M445.5 116.3L453.6 123.6" stroke="#2b4ce2" stroke-width="2.8"/><path d="M445.5 116.3L453.6 123.6" stroke="#6f8af0" stroke-width="0.70"/>
<path d="M436.7 120.6L441.1 118.4" stroke="#e3181b" stroke-width="2.8"/><path d="M436.7 120.6L441.1 118.4" stroke="#f76a6c" stroke-width="0.70"/>
<path d="M445.5 116.3L441.1 118.4" stroke="#2b4ce2" stroke-width="2.8"/><path d="M445.5 116.3L441.1 118.4" stroke="#6f8af0" stroke-width="0.70"/>
<path d="M518.6 93.2L509.7 85.7" stroke="#2b4ce2" stroke-width="2.8"/><path d="M518.6 93.2L509.7 85.7" stroke="#6f8af0" stroke-width="0.70"/>
<path d="M500.7 78.2L509.7 85.7" stroke="#2b4ce2" stroke-width="2.8"/><path d="M500.7 78.2L509.7 85.7" stroke="#6f8af0" stroke-width="0.70"/>
<path d="M491.8 100.5L496.3 89.3" stroke="#e3181b" stroke-width="2.8"/><path d="M491.8 100.5L496.3 89.3" stroke="#f76a6c" stroke-width="0.70"/>
<path d="M500.7 78.2L496.3 89.3" stroke="#2b4ce2" stroke-width="2.8"/><path d="M500.7 78.2L496.3 89.3" stroke="#6f8af0" stroke-width="0.70"/>
<path d="M538.2 70.7L545.9 81.1" stroke="#2b4ce2" stroke-width="2.8"/><path d="M538.2 70.7L545.9 81.1" stroke="#6f8af0" stroke-width="0.70"/>
<path d="M553.7 91.6L545.9 81.1" stroke="#2b4ce2" stroke-width="2.8"/><path d="M553.7 91.6L545.9 81.1" stroke="#6f8af0" stroke-width="0.70"/>
<path d="M548.7 75.7L551.2 83.6" stroke="#2b4ce2" stroke-width="2.8"/><path d="M548.7 75.7L551.2 83.6" stroke="#6f8af0" stroke-width="0.70"/>
<path d="M553.7 91.6L551.2 83.6" stroke="#2b4ce2" stroke-width="2.8"/><path d="M553.7 91.6L551.2 83.6" stroke="#6f8af0" stroke-width="0.70"/>
<path d="M519.2 8.8L509.8 -0.1" stroke="#2b4ce2" stroke-width="2.8"/><path d="M519.2 8.8L509.8 -0.1" stroke="#6f8af0" stroke-width="0.70"/>
<path d="M500.3 -9.1L509.8 -0.1" stroke="#2b4ce2" stroke-width="2.8"/><path d="M500.3 -9.1L509.8 -0.1" stroke="#6f8af0" stroke-width="0.70"/>
<path d="M511.9 14.2L506.1 2.6" stroke="#2b4ce2" stroke-width="2.8"/><path d="M511.9 14.2L506.1 2.6" stroke="#6f8af0" stroke-width="0.70"/>
<path d="M500.3 -9.1L506.1 2.6" stroke="#2b4ce2" stroke-width="2.8"/><path d="M500.3 -9.1L506.1 2.6" stroke="#6f8af0" stroke-width="0.70"/>
<path d="M475.3 -11.6L487.8 -10.3" stroke="#2b4ce2" stroke-width="2.8"/><path d="M475.3 -11.6L487.8 -10.3" stroke="#6f8af0" stroke-width="0.70"/>
<path d="M500.3 -9.1L487.8 -10.3" stroke="#2b4ce2" stroke-width="2.8"/><path d="M500.3 -9.1L487.8 -10.3" stroke="#6f8af0" stroke-width="0.70"/>
<path d="M504.4 -3.7L502.4 -6.4" stroke="#2b4ce2" stroke-width="2.8"/><path d="M504.4 -3.7L502.4 -6.4" stroke="#6f8af0" stroke-width="0.70"/>
<path d="M500.3 -9.1L502.4 -6.4" stroke="#2b4ce2" stroke-width="2.8"/><path d="M500.3 -9.1L502.4 -6.4" stroke="#6f8af0" stroke-width="0.70"/>
<path d="M440.6 7.4L432.6 10.2" stroke="#e3181b" stroke-width="2.8"/><path d="M440.6 7.4L432.6 10.2" stroke="#f76a6c" stroke-width="0.70"/>
<path d="M424.7 13.0L432.6 10.2" stroke="#2b4ce2" stroke-width="2.8"/><path d="M424.7 13.0L432.6 10.2" stroke="#6f8af0" stroke-width="0.70"/>
<path d="M435.7 33.7L430.2 23.3" stroke="#e3181b" stroke-width="2.8"/><path d="M435.7 33.7L430.2 23.3" stroke="#f76a6c" stroke-width="0.70"/>
<path d="M424.7 13.0L430.2 23.3" stroke="#2b4ce2" stroke-width="2.8"/><path d="M424.7 13.0L430.2 23.3" stroke="#6f8af0" stroke-width="0.70"/>
<path d="M406.2 -4.7L415.4 4.1" stroke="#e3181b" stroke-width="2.8"/><path d="M406.2 -4.7L415.4 4.1" stroke="#f76a6c" stroke-width="0.70"/>
<path d="M424.7 13.0L415.4 4.1" stroke="#2b4ce2" stroke-width="2.8"/><path d="M424.7 13.0L415.4 4.1" stroke="#6f8af0" stroke-width="0.70"/>
<path d="M467.7 -37.6L463.7 -25.2" stroke="#2b4ce2" stroke-width="2.8"/><path d="M467.7 -37.6L463.7 -25.2" stroke="#6f8af0" stroke-width="0.70"/>
<path d="M459.8 -12.8L463.7 -25.2" stroke="#2b4ce2" stroke-width="2.8"/><path d="M459.8 -12.8L463.7 -25.2" stroke="#6f8af0" stroke-width="0.70"/>
<path d="M436.7 -4.9L448.2 -8.9" stroke="#2b4ce2" stroke-width="2.8"/><path d="M436.7 -4.9L448.2 -8.9" stroke="#6f8af0" stroke-width="0.70"/>
<path d="M459.8 -12.8L448.2 -8.9" stroke="#2b4ce2" stroke-width="2.8"/><path d="M459.8 -12.8L448.2 -8.9" stroke="#6f8af0" stroke-width="0.70"/>
<path d="M453.4 -15.7L456.6 -14.3" stroke="#2b4ce2" stroke-width="2.8"/><path d="M453.4 -15.7L456.6 -14.3" stroke="#6f8af0" stroke-width="0.70"/>
<path d="M459.8 -12.8L456.6 -14.3" stroke="#2b4ce2" stroke-width="2.8"/><path d="M459.8 -12.8L456.6 -14.3" stroke="#6f8af0" stroke-width="0.70"/>
<path d="M504.2 149.5L514.9 151.9" stroke="#2b4ce2" stroke-width="2.8"/><path d="M504.2 149.5L514.9 151.9" stroke="#6f8af0" stroke-width="0.70"/>
<path d="M525.5 154.4L514.9 151.9" stroke="#2b4ce2" stroke-width="2.8"/><path d="M525.5 154.4L514.9 151.9" stroke="#6f8af0" stroke-width="0.70"/>
<path d="M518.4 132.5L521.9 143.5" stroke="#e3181b" stroke-width="2.8"/><path d="M518.4 132.5L521.9 143.5" stroke="#f76a6c" stroke-width="0.70"/>
<path d="M525.5 154.4L521.9 143.5" stroke="#2b4ce2" stroke-width="2.8"/><path d="M525.5 154.4L521.9 143.5" stroke="#6f8af0" stroke-width="0.70"/>
<path d="M533.8 166.4L528.4 175.4" stroke="#e3181b" stroke-width="2.8"/><path d="M533.8 166.4L528.4 175.4" stroke="#f76a6c" stroke-width="0.70"/>
<path d="M523.0 184.4L528.4 175.4" stroke="#2b4ce2" stroke-width="2.8"/><path d="M523.0 184.4L528.4 175.4" stroke="#6f8af0" stroke-width="0.70"/>
<path d="M528.8 168.6L525.9 176.5" stroke="#2b4ce2" stroke-width="2.8"/><path d="M528.8 168.6L525.9 176.5" stroke="#6f8af0" stroke-width="0.70"/>
<path d="M523.0 184.4L525.9 176.5" stroke="#2b4ce2" stroke-width="2.8"/><path d="M523.0 184.4L525.9 176.5" stroke="#6f8af0" stroke-width="0.70"/>
<path d="M505.1 221.1L505.9 212.5" stroke="#2b4ce2" stroke-width="2.8"/><path d="M505.1 221.1L505.9 212.5" stroke="#6f8af0" stroke-width="0.70"/>
<path d="M506.7 203.9L505.9 212.5" stroke="#2b4ce2" stroke-width="2.8"/><path d="M506.7 203.9L505.9 212.5" stroke="#6f8af0" stroke-width="0.70"/>
<path d="M487.2 216.7L496.9 210.3" stroke="#2b4ce2" stroke-width="2.8"/><path d="M487.2 216.7L496.9 210.3" stroke="#6f8af0" stroke-width="0.70"/>
<path d="M506.7 203.9L496.9 210.3" stroke="#2b4ce2" stroke-width="2.8"/><path d="M506.7 203.9L496.9 210.3" stroke="#6f8af0" stroke-width="0.70"/>
<circle cx="559.0" cy="150.1" r="6.90" fill="url(#gSf)"/>
<circle cx="634.4" cy="149.7" r="6.90" fill="url(#gSf)"/>
<circle cx="418.8" cy="86.0" r="6.90" fill="url(#gSf)"/>
<circle cx="565.2" cy="187.0" r="6.90" fill="url(#gSf)"/>
<circle cx="522.7" cy="35.2" r="6.90" fill="url(#gSf)"/>
<circle cx="547.5" cy="-19.0" r="6.90" fill="url(#gSf)"/>
<circle cx="478.0" cy="190.6" r="6.90" fill="url(#gSf)"/>
<circle cx="449.7" cy="162.9" r="6.90" fill="url(#gSf)"/>
<circle cx="557.7" cy="7.4" r="6.90" fill="url(#gSf)"/>
<circle cx="617.7" cy="26.6" r="6.90" fill="url(#gSi)"/>
<circle cx="643.9" cy="180.4" r="6.90" fill="url(#gSf)"/>
<circle cx="638.9" cy="103.1" r="6.90" fill="url(#gSi)"/>
<circle cx="497.2" cy="16.5" r="6.90" fill="url(#gSf)"/>
<circle cx="427.4" cy="47.9" r="6.90" fill="url(#gSf)"/>
<circle cx="412.8" cy="135.3" r="6.90" fill="url(#gSf)"/>
<circle cx="485.2" cy="167.9" r="6.90" fill="url(#gSf)"/>
<circle cx="486.5" cy="89.6" r="6.90" fill="url(#gSi)"/>
<circle cx="425.5" cy="204.2" r="6.90" fill="url(#gSi)"/>
<circle cx="597.9" cy="63.0" r="6.90" fill="url(#gSi)"/>
<circle cx="414.1" cy="-11.2" r="6.90" fill="url(#gSi)"/>
<circle cx="637.4" cy="23.6" r="6.90" fill="url(#gSi)"/>
<circle cx="437.5" cy="151.6" r="6.90" fill="url(#gSi)"/>
<circle cx="614.9" cy="-13.5" r="6.90" fill="url(#gSi)"/>
<circle cx="628.7" cy="56.9" r="6.90" fill="url(#gSi)"/>
<circle cx="540.7" cy="50.5" r="6.90" fill="url(#gSf)"/>
<circle cx="423.5" cy="206.9" r="6.90" fill="url(#gSf)"/>
<circle cx="584.7" cy="198.4" r="6.90" fill="url(#gSi)"/>
<circle cx="598.0" cy="2.7" r="6.90" fill="url(#gSi)"/>
<circle cx="518.9" cy="209.8" r="6.90" fill="url(#gSf)"/>
<circle cx="642.3" cy="83.2" r="6.90" fill="url(#gSf)"/>
<circle cx="584.2" cy="89.1" r="6.90" fill="url(#gSi)"/>
<circle cx="507.3" cy="12.0" r="6.90" fill="url(#gSi)"/>
<circle cx="645.3" cy="200.7" r="6.90" fill="url(#gSf)"/>
<circle cx="529.8" cy="56.5" r="6.90" fill="url(#gSf)"/>
<circle cx="497.8" cy="141.4" r="6.90" fill="url(#gSi)"/>
<circle cx="549.0" cy="-19.3" r="6.90" fill="url(#gSf)"/>
<circle cx="604.7" cy="128.2" r="6.90" fill="url(#gSi)"/>
<circle cx="584.4" cy="17.9" r="6.90" fill="url(#gSi)"/>
<circle cx="549.1" cy="132.4" r="6.90" fill="url(#gSf)"/>
<circle cx="573.9" cy="124.4" r="6.90" fill="url(#gSi)"/>
<circle cx="443.5" cy="51.6" r="6.90" fill="url(#gSf)"/>
<circle cx="457.6" cy="-13.7" r="6.90" fill="url(#gSi)"/>
<circle cx="468.1" cy="187.5" r="6.90" fill="url(#gSi)"/>
<circle cx="439.2" cy="170.9" r="6.90" fill="url(#gSi)"/>
<circle cx="420.5" cy="120.3" r="6.90" fill="url(#gSi)"/>
<circle cx="603.9" cy="127.0" r="6.90" fill="url(#gSf)"/>
<circle cx="445.5" cy="116.3" r="6.90" fill="url(#gSi)"/>
<circle cx="500.7" cy="78.2" r="6.90" fill="url(#gSi)"/>
<circle cx="471.6" cy="83.7" r="6.90" fill="url(#gSf)"/>
<circle cx="621.6" cy="104.6" r="6.90" fill="url(#gSi)"/>
<circle cx="636.7" cy="143.3" r="6.90" fill="url(#gSi)"/>
<circle cx="553.7" cy="91.6" r="6.90" fill="url(#gSi)"/>
<circle cx="500.3" cy="-9.1" r="6.90" fill="url(#gSi)"/>
<circle cx="424.7" cy="13.0" r="6.90" fill="url(#gSi)"/>
<circle cx="459.8" cy="-12.8" r="6.90" fill="url(#gSf)"/>
<circle cx="525.5" cy="154.4" r="6.90" fill="url(#gSi)"/>
<circle cx="523.0" cy="184.4" r="6.90" fill="url(#gSf)"/>
<circle cx="503.0" cy="182.2" r="6.90" fill="url(#gSf)"/>
<circle cx="506.7" cy="203.9" r="6.90" fill="url(#gSf)"/>
<circle cx="468.8" cy="133.9" r="6.90" fill="url(#gSi)"/>
<circle cx="462.0" cy="170.1" r="4.10" fill="url(#gO)"/>
<circle cx="447.7" cy="199.7" r="4.10" fill="url(#gO)"/>
<circle cx="589.5" cy="112.0" r="4.10" fill="url(#gO)"/>
<circle cx="508.5" cy="30.6" r="4.10" fill="url(#gO)"/>
<circle cx="509.6" cy="61.6" r="4.10" fill="url(#gO)"/>
<circle cx="451.6" cy="135.8" r="4.10" fill="url(#gO)"/>
<circle cx="498.1" cy="205.2" r="4.10" fill="url(#gO)"/>
<circle cx="413.5" cy="106.1" r="4.10" fill="url(#gO)"/>
<circle cx="482.8" cy="190.6" r="4.10" fill="url(#gO)"/>
<circle cx="582.8" cy="140.9" r="4.10" fill="url(#gO)"/>
<circle cx="506.4" cy="163.6" r="4.10" fill="url(#gO)"/>
<circle cx="633.3" cy="140.4" r="4.10" fill="url(#gO)"/>
<circle cx="459.9" cy="163.3" r="4.10" fill="url(#gO)"/>
<circle cx="517.6" cy="34.9" r="4.10" fill="url(#gO)"/>
<circle cx="444.2" cy="77.6" r="4.10" fill="url(#gO)"/>
<circle cx="517.5" cy="65.6" r="4.10" fill="url(#gO)"/>
<circle cx="610.4" cy="28.6" r="4.10" fill="url(#gO)"/>
<circle cx="430.9" cy="183.6" r="4.10" fill="url(#gO)"/>
<circle cx="509.7" cy="200.1" r="4.10" fill="url(#gO)"/>
<circle cx="461.3" cy="159.2" r="4.10" fill="url(#gO)"/>
<circle cx="534.5" cy="76.4" r="4.10" fill="url(#gO)"/>
<circle cx="577.8" cy="124.8" r="4.10" fill="url(#gO)"/>
<circle cx="502.8" cy="6.1" r="4.10" fill="url(#gO)"/>
<circle cx="552.3" cy="144.8" r="4.10" fill="url(#gO)"/>
<circle cx="436.5" cy="170.5" r="4.10" fill="url(#gO)"/>
<circle cx="578.0" cy="159.3" r="4.10" fill="url(#gO)"/>
<circle cx="537.6" cy="161.9" r="4.10" fill="url(#gO)"/>
<circle cx="572.0" cy="129.0" r="4.10" fill="url(#gO)"/>
<circle cx="558.3" cy="212.1" r="4.10" fill="url(#gO)"/>
<circle cx="572.4" cy="201.9" r="4.10" fill="url(#gO)"/>
<circle cx="516.4" cy="17.5" r="4.10" fill="url(#gO)"/>
<circle cx="552.3" cy="-42.3" r="4.10" fill="url(#gO)"/>
<circle cx="563.8" cy="-17.5" r="4.10" fill="url(#gO)"/>
<circle cx="554.6" cy="16.4" r="4.10" fill="url(#gO)"/>
<circle cx="532.0" cy="8.9" r="4.10" fill="url(#gO)"/>
<circle cx="601.9" cy="5.9" r="4.10" fill="url(#gO)"/>
<circle cx="661.9" cy="175.4" r="4.10" fill="url(#gO)"/>
<circle cx="621.8" cy="192.7" r="4.10" fill="url(#gO)"/>
<circle cx="507.4" cy="-6.3" r="4.10" fill="url(#gO)"/>
<circle cx="475.4" cy="80.1" r="4.10" fill="url(#gO)"/>
<circle cx="618.6" cy="76.6" r="4.10" fill="url(#gO)"/>
<circle cx="408.3" cy="11.4" r="4.10" fill="url(#gO)"/>
<circle cx="414.2" cy="145.4" r="4.10" fill="url(#gO)"/>
<circle cx="598.0" cy="1.8" r="4.10" fill="url(#gO)"/>
<circle cx="568.9" cy="178.0" r="4.10" fill="url(#gO)"/>
<circle cx="585.9" cy="201.5" r="4.10" fill="url(#gO)"/>
<circle cx="601.4" cy="181.5" r="4.10" fill="url(#gO)"/>
<circle cx="577.3" cy="223.3" r="4.10" fill="url(#gO)"/>
<circle cx="603.3" cy="27.9" r="4.10" fill="url(#gO)"/>
<circle cx="613.6" cy="-2.0" r="4.10" fill="url(#gO)"/>
<circle cx="534.7" cy="225.3" r="4.10" fill="url(#gO)"/>
<circle cx="520.2" cy="190.8" r="4.10" fill="url(#gO)"/>
<circle cx="646.5" cy="108.1" r="4.10" fill="url(#gO)"/>
<circle cx="561.5" cy="101.7" r="4.10" fill="url(#gO)"/>
<circle cx="560.7" cy="100.3" r="4.10" fill="url(#gO)"/>
<circle cx="651.5" cy="225.3" r="4.10" fill="url(#gO)"/>
<circle cx="487.2" cy="136.6" r="4.10" fill="url(#gO)"/>
<circle cx="488.2" cy="157.6" r="4.10" fill="url(#gO)"/>
<circle cx="597.7" cy="19.7" r="4.10" fill="url(#gO)"/>
<circle cx="595.4" cy="38.8" r="4.10" fill="url(#gO)"/>
<circle cx="569.7" cy="15.1" r="4.10" fill="url(#gO)"/>
<circle cx="529.8" cy="149.8" r="4.10" fill="url(#gO)"/>
<circle cx="561.1" cy="153.2" r="4.10" fill="url(#gO)"/>
<circle cx="423.9" cy="68.1" r="4.10" fill="url(#gO)"/>
<circle cx="467.2" cy="56.8" r="4.10" fill="url(#gO)"/>
<circle cx="403.0" cy="102.0" r="4.10" fill="url(#gO)"/>
<circle cx="438.5" cy="102.9" r="4.10" fill="url(#gO)"/>
<circle cx="607.7" cy="134.7" r="4.10" fill="url(#gO)"/>
<circle cx="436.7" cy="120.6" r="4.10" fill="url(#gO)"/>
<circle cx="518.6" cy="93.2" r="4.10" fill="url(#gO)"/>
<circle cx="548.7" cy="75.7" r="4.10" fill="url(#gO)"/>
<circle cx="519.2" cy="8.8" r="4.10" fill="url(#gO)"/>
<circle cx="511.9" cy="14.2" r="4.10" fill="url(#gO)"/>
<circle cx="504.4" cy="-3.7" r="4.10" fill="url(#gO)"/>
<circle cx="440.6" cy="7.4" r="4.10" fill="url(#gO)"/>
<circle cx="435.7" cy="33.7" r="4.10" fill="url(#gO)"/>
<circle cx="518.4" cy="132.5" r="4.10" fill="url(#gO)"/>
<circle cx="533.8" cy="166.4" r="4.10" fill="url(#gO)"/>
</g>
<path d="M401.9 10.1L409.5 14.5" stroke="#e3181b" stroke-width="3.0"/><path d="M401.9 10.1L409.5 14.5" stroke="#f76a6c" stroke-width="0.75"/>
<path d="M417.2 18.9L409.5 14.5" stroke="#2b4ce2" stroke-width="3.0"/><path d="M417.2 18.9L409.5 14.5" stroke="#6f8af0" stroke-width="0.75"/>
<path d="M436.9 17.4L427.0 18.1" stroke="#e3181b" stroke-width="3.0"/><path d="M436.9 17.4L427.0 18.1" stroke="#f76a6c" stroke-width="0.75"/>
<path d="M417.2 18.9L427.0 18.1" stroke="#2b4ce2" stroke-width="3.0"/><path d="M417.2 18.9L427.0 18.1" stroke="#6f8af0" stroke-width="0.75"/>
<path d="M439.9 26.9L428.5 22.9" stroke="#e3181b" stroke-width="3.0"/><path d="M439.9 26.9L428.5 22.9" stroke="#f76a6c" stroke-width="0.75"/>
<path d="M417.2 18.9L428.5 22.9" stroke="#2b4ce2" stroke-width="3.0"/><path d="M417.2 18.9L428.5 22.9" stroke="#6f8af0" stroke-width="0.75"/>
<path d="M402.6 39.3L409.9 29.1" stroke="#e3181b" stroke-width="3.0"/><path d="M402.6 39.3L409.9 29.1" stroke="#f76a6c" stroke-width="0.75"/>
<path d="M417.2 18.9L409.9 29.1" stroke="#2b4ce2" stroke-width="3.0"/><path d="M417.2 18.9L409.9 29.1" stroke="#6f8af0" stroke-width="0.75"/>
<path d="M436.9 17.4L433.6 13.4" stroke="#e3181b" stroke-width="3.0"/><path d="M436.9 17.4L433.6 13.4" stroke="#f76a6c" stroke-width="0.75"/>
<path d="M430.4 9.4L433.6 13.4" stroke="#2b4ce2" stroke-width="3.0"/><path d="M430.4 9.4L433.6 13.4" stroke="#6f8af0" stroke-width="0.75"/>
<path d="M446.4 16.7L438.4 13.1" stroke="#e3181b" stroke-width="3.0"/><path d="M446.4 16.7L438.4 13.1" stroke="#f76a6c" stroke-width="0.75"/>
<path d="M430.4 9.4L438.4 13.1" stroke="#2b4ce2" stroke-width="3.0"/><path d="M430.4 9.4L438.4 13.1" stroke="#6f8af0" stroke-width="0.75"/>
<path d="M439.9 26.9L435.1 18.1" stroke="#e3181b" stroke-width="3.0"/><path d="M439.9 26.9L435.1 18.1" stroke="#f76a6c" stroke-width="0.75"/>
<path d="M430.4 9.4L435.1 18.1" stroke="#2b4ce2" stroke-width="3.0"/><path d="M430.4 9.4L435.1 18.1" stroke="#6f8af0" stroke-width="0.75"/>
<path d="M443.5 33.5L436.9 21.4" stroke="#e3181b" stroke-width="3.0"/><path d="M443.5 33.5L436.9 21.4" stroke="#f76a6c" stroke-width="0.75"/>
<path d="M430.4 9.4L436.9 21.4" stroke="#2b4ce2" stroke-width="3.0"/><path d="M430.4 9.4L436.9 21.4" stroke="#6f8af0" stroke-width="0.75"/>
<path d="M436.9 17.4L448.2 19.9" stroke="#e3181b" stroke-width="3.0"/><path d="M436.9 17.4L448.2 19.9" stroke="#f76a6c" stroke-width="0.75"/>
<path d="M459.6 22.5L448.2 19.9" stroke="#2b4ce2" stroke-width="3.0"/><path d="M459.6 22.5L448.2 19.9" stroke="#6f8af0" stroke-width="0.75"/>
<path d="M446.4 16.7L453.0 19.6" stroke="#e3181b" stroke-width="3.0"/><path d="M446.4 16.7L453.0 19.6" stroke="#f76a6c" stroke-width="0.75"/>
<path d="M459.6 22.5L453.0 19.6" stroke="#2b4ce2" stroke-width="3.0"/><path d="M459.6 22.5L453.0 19.6" stroke="#6f8af0" stroke-width="0.75"/>
<path d="M439.9 26.9L449.8 24.7" stroke="#e3181b" stroke-width="3.0"/><path d="M439.9 26.9L449.8 24.7" stroke="#f76a6c" stroke-width="0.75"/>
<path d="M459.6 22.5L449.8 24.7" stroke="#2b4ce2" stroke-width="3.0"/><path d="M459.6 22.5L449.8 24.7" stroke="#6f8af0" stroke-width="0.75"/>
<path d="M443.5 33.5L451.6 28.0" stroke="#e3181b" stroke-width="3.0"/><path d="M443.5 33.5L451.6 28.0" stroke="#f76a6c" stroke-width="0.75"/>
<path d="M459.6 22.5L451.6 28.0" stroke="#2b4ce2" stroke-width="3.0"/><path d="M459.6 22.5L451.6 28.0" stroke="#6f8af0" stroke-width="0.75"/>
<path d="M439.9 26.9L435.5 35.6" stroke="#e3181b" stroke-width="3.0"/><path d="M439.9 26.9L435.5 35.6" stroke="#f76a6c" stroke-width="0.75"/>
<path d="M431.1 44.4L435.5 35.6" stroke="#2b4ce2" stroke-width="3.0"/><path d="M431.1 44.4L435.5 35.6" stroke="#6f8af0" stroke-width="0.75"/>
<path d="M443.5 33.5L437.3 39.0" stroke="#e3181b" stroke-width="3.0"/><path d="M443.5 33.5L437.3 39.0" stroke="#f76a6c" stroke-width="0.75"/>
<path d="M431.1 44.4L437.3 39.0" stroke="#2b4ce2" stroke-width="3.0"/><path d="M431.1 44.4L437.3 39.0" stroke="#6f8af0" stroke-width="0.75"/>
<path d="M434.7 63.4L432.9 53.9" stroke="#e3181b" stroke-width="3.0"/><path d="M434.7 63.4L432.9 53.9" stroke="#f76a6c" stroke-width="0.75"/>
<path d="M431.1 44.4L432.9 53.9" stroke="#2b4ce2" stroke-width="3.0"/><path d="M431.1 44.4L432.9 53.9" stroke="#6f8af0" stroke-width="0.75"/>
<path d="M409.2 54.6L420.1 49.5" stroke="#e3181b" stroke-width="3.0"/><path d="M409.2 54.6L420.1 49.5" stroke="#f76a6c" stroke-width="0.75"/>
<path d="M431.1 44.4L420.1 49.5" stroke="#2b4ce2" stroke-width="3.0"/><path d="M431.1 44.4L420.1 49.5" stroke="#6f8af0" stroke-width="0.75"/>
<path d="M404.8 48.8L417.2 50.2" stroke="#e3181b" stroke-width="3.0"/><path d="M404.8 48.8L417.2 50.2" stroke="#f76a6c" stroke-width="0.75"/>
<path d="M429.6 51.7L417.2 50.2" stroke="#2b4ce2" stroke-width="3.0"/><path d="M429.6 51.7L417.2 50.2" stroke="#6f8af0" stroke-width="0.75"/>
<path d="M455.9 56.8L442.8 54.2" stroke="#e3181b" stroke-width="3.0"/><path d="M455.9 56.8L442.8 54.2" stroke="#f76a6c" stroke-width="0.75"/>
<path d="M429.6 51.7L442.8 54.2" stroke="#2b4ce2" stroke-width="3.0"/><path d="M429.6 51.7L442.8 54.2" stroke="#6f8af0" stroke-width="0.75"/>
<path d="M434.7 63.4L432.1 57.5" stroke="#e3181b" stroke-width="3.0"/><path d="M434.7 63.4L432.1 57.5" stroke="#f76a6c" stroke-width="0.75"/>
<path d="M429.6 51.7L432.1 57.5" stroke="#2b4ce2" stroke-width="3.0"/><path d="M429.6 51.7L432.1 57.5" stroke="#6f8af0" stroke-width="0.75"/>
<path d="M409.2 54.6L419.4 53.2" stroke="#e3181b" stroke-width="3.0"/><path d="M409.2 54.6L419.4 53.2" stroke="#f76a6c" stroke-width="0.75"/>
<path d="M429.6 51.7L419.4 53.2" stroke="#2b4ce2" stroke-width="3.0"/><path d="M429.6 51.7L419.4 53.2" stroke="#6f8af0" stroke-width="0.75"/>
<path d="M472.0 47.3L469.8 55.3" stroke="#e3181b" stroke-width="3.0"/><path d="M472.0 47.3L469.8 55.3" stroke="#f76a6c" stroke-width="0.75"/>
<path d="M467.6 63.4L469.8 55.3" stroke="#2b4ce2" stroke-width="3.0"/><path d="M467.6 63.4L469.8 55.3" stroke="#6f8af0" stroke-width="0.75"/>
<path d="M455.9 56.8L461.8 60.1" stroke="#e3181b" stroke-width="3.0"/><path d="M455.9 56.8L461.8 60.1" stroke="#f76a6c" stroke-width="0.75"/>
<path d="M467.6 63.4L461.8 60.1" stroke="#2b4ce2" stroke-width="3.0"/><path d="M467.6 63.4L461.8 60.1" stroke="#6f8af0" stroke-width="0.75"/>
<path d="M480.8 43.7L474.2 53.5" stroke="#e3181b" stroke-width="3.0"/><path d="M480.8 43.7L474.2 53.5" stroke="#f76a6c" stroke-width="0.75"/>
<path d="M467.6 63.4L474.2 53.5" stroke="#2b4ce2" stroke-width="3.0"/><path d="M467.6 63.4L474.2 53.5" stroke="#6f8af0" stroke-width="0.75"/>
<path d="M481.6 56.8L474.6 60.1" stroke="#e3181b" stroke-width="3.0"/><path d="M481.6 56.8L474.6 60.1" stroke="#f76a6c" stroke-width="0.75"/>
<path d="M467.6 63.4L474.6 60.1" stroke="#2b4ce2" stroke-width="3.0"/><path d="M467.6 63.4L474.6 60.1" stroke="#6f8af0" stroke-width="0.75"/>
<path d="M488.9 80.9L478.2 72.2" stroke="#e3181b" stroke-width="3.0"/><path d="M488.9 80.9L478.2 72.2" stroke="#f76a6c" stroke-width="0.75"/>
<path d="M467.6 63.4L478.2 72.2" stroke="#2b4ce2" stroke-width="3.0"/><path d="M467.6 63.4L478.2 72.2" stroke="#6f8af0" stroke-width="0.75"/>
<path d="M404.8 48.8L411.8 57.9" stroke="#e3181b" stroke-width="3.0"/><path d="M404.8 48.8L411.8 57.9" stroke="#f76a6c" stroke-width="0.75"/>
<path d="M418.7 67.0L411.8 57.9" stroke="#2b4ce2" stroke-width="3.0"/><path d="M418.7 67.0L411.8 57.9" stroke="#6f8af0" stroke-width="0.75"/>
<path d="M434.7 63.4L426.7 65.2" stroke="#e3181b" stroke-width="3.0"/><path d="M434.7 63.4L426.7 65.2" stroke="#f76a6c" stroke-width="0.75"/>
<path d="M418.7 67.0L426.7 65.2" stroke="#2b4ce2" stroke-width="3.0"/><path d="M418.7 67.0L426.7 65.2" stroke="#6f8af0" stroke-width="0.75"/>
<path d="M439.9 72.9L429.3 70.0" stroke="#e3181b" stroke-width="3.0"/><path d="M439.9 72.9L429.3 70.0" stroke="#f76a6c" stroke-width="0.75"/>
<path d="M418.7 67.0L429.3 70.0" stroke="#2b4ce2" stroke-width="3.0"/><path d="M418.7 67.0L429.3 70.0" stroke="#6f8af0" stroke-width="0.75"/>
<path d="M409.2 54.6L413.9 60.8" stroke="#e3181b" stroke-width="3.0"/><path d="M409.2 54.6L413.9 60.8" stroke="#f76a6c" stroke-width="0.75"/>
<path d="M418.7 67.0L413.9 60.8" stroke="#2b4ce2" stroke-width="3.0"/><path d="M418.7 67.0L413.9 60.8" stroke="#6f8af0" stroke-width="0.75"/>
<path d="M434.7 63.4L424.5 71.0" stroke="#e3181b" stroke-width="3.0"/><path d="M434.7 63.4L424.5 71.0" stroke="#f76a6c" stroke-width="0.75"/>
<path d="M414.3 78.7L424.5 71.0" stroke="#2b4ce2" stroke-width="3.0"/><path d="M414.3 78.7L424.5 71.0" stroke="#6f8af0" stroke-width="0.75"/>
<path d="M439.9 72.9L427.1 75.8" stroke="#e3181b" stroke-width="3.0"/><path d="M439.9 72.9L427.1 75.8" stroke="#f76a6c" stroke-width="0.75"/>
<path d="M414.3 78.7L427.1 75.8" stroke="#2b4ce2" stroke-width="3.0"/><path d="M414.3 78.7L427.1 75.8" stroke="#6f8af0" stroke-width="0.75"/>
<path d="M401.9 95.5L408.1 87.1" stroke="#e3181b" stroke-width="3.0"/><path d="M401.9 95.5L408.1 87.1" stroke="#f76a6c" stroke-width="0.75"/>
<path d="M414.3 78.7L408.1 87.1" stroke="#2b4ce2" stroke-width="3.0"/><path d="M414.3 78.7L408.1 87.1" stroke="#6f8af0" stroke-width="0.75"/>
<path d="M409.2 54.6L411.8 66.7" stroke="#e3181b" stroke-width="3.0"/><path d="M409.2 54.6L411.8 66.7" stroke="#f76a6c" stroke-width="0.75"/>
<path d="M414.3 78.7L411.8 66.7" stroke="#2b4ce2" stroke-width="3.0"/><path d="M414.3 78.7L411.8 66.7" stroke="#6f8af0" stroke-width="0.75"/>
<path d="M439.9 72.9L434.0 82.5" stroke="#e3181b" stroke-width="3.0"/><path d="M439.9 72.9L434.0 82.5" stroke="#f76a6c" stroke-width="0.75"/>
<path d="M428.2 92.0L434.0 82.5" stroke="#2b4ce2" stroke-width="3.0"/><path d="M428.2 92.0L434.0 82.5" stroke="#6f8af0" stroke-width="0.75"/>
<path d="M436.2 108.9L432.2 100.5" stroke="#e3181b" stroke-width="3.0"/><path d="M436.2 108.9L432.2 100.5" stroke="#f76a6c" stroke-width="0.75"/>
<path d="M428.2 92.0L432.2 100.5" stroke="#2b4ce2" stroke-width="3.0"/><path d="M428.2 92.0L432.2 100.5" stroke="#6f8af0" stroke-width="0.75"/>
<path d="M447.2 109.6L437.7 100.8" stroke="#e3181b" stroke-width="3.0"/><path d="M447.2 109.6L437.7 100.8" stroke="#f76a6c" stroke-width="0.75"/>
<path d="M428.2 92.0L437.7 100.8" stroke="#2b4ce2" stroke-width="3.0"/><path d="M428.2 92.0L437.7 100.8" stroke="#6f8af0" stroke-width="0.75"/>
<path d="M436.9 114.7L432.5 103.3" stroke="#e3181b" stroke-width="3.0"/><path d="M436.9 114.7L432.5 103.3" stroke="#f76a6c" stroke-width="0.75"/>
<path d="M428.2 92.0L432.5 103.3" stroke="#2b4ce2" stroke-width="3.0"/><path d="M428.2 92.0L432.5 103.3" stroke="#6f8af0" stroke-width="0.75"/>
<path d="M475.6 88.9L464.6 92.2" stroke="#e3181b" stroke-width="3.0"/><path d="M475.6 88.9L464.6 92.2" stroke="#f76a6c" stroke-width="0.75"/>
<path d="M453.7 95.5L464.6 92.2" stroke="#2b4ce2" stroke-width="3.0"/><path d="M453.7 95.5L464.6 92.2" stroke="#6f8af0" stroke-width="0.75"/>
<path d="M476.5 88.2L465.1 91.8" stroke="#e3181b" stroke-width="3.0"/><path d="M476.5 88.2L465.1 91.8" stroke="#f76a6c" stroke-width="0.75"/>
<path d="M453.7 95.5L465.1 91.8" stroke="#2b4ce2" stroke-width="3.0"/><path d="M453.7 95.5L465.1 91.8" stroke="#6f8af0" stroke-width="0.75"/>
<path d="M447.2 109.6L450.4 102.5" stroke="#e3181b" stroke-width="3.0"/><path d="M447.2 109.6L450.4 102.5" stroke="#f76a6c" stroke-width="0.75"/>
<path d="M453.7 95.5L450.4 102.5" stroke="#2b4ce2" stroke-width="3.0"/><path d="M453.7 95.5L450.4 102.5" stroke="#6f8af0" stroke-width="0.75"/>
<path d="M477.9 97.9L465.8 96.7" stroke="#e3181b" stroke-width="3.0"/><path d="M477.9 97.9L465.8 96.7" stroke="#f76a6c" stroke-width="0.75"/>
<path d="M453.7 95.5L465.8 96.7" stroke="#2b4ce2" stroke-width="3.0"/><path d="M453.7 95.5L465.8 96.7" stroke="#6f8af0" stroke-width="0.75"/>
<path d="M487.4 14.5L492.1 10.8" stroke="#e3181b" stroke-width="3.0"/><path d="M487.4 14.5L492.1 10.8" stroke="#f76a6c" stroke-width="0.75"/>
<path d="M496.9 7.2L492.1 10.8" stroke="#2b4ce2" stroke-width="3.0"/><path d="M496.9 7.2L492.1 10.8" stroke="#6f8af0" stroke-width="0.75"/>
<path d="M513.7 24.7L505.3 15.9" stroke="#e3181b" stroke-width="3.0"/><path d="M513.7 24.7L505.3 15.9" stroke="#f76a6c" stroke-width="0.75"/>
<path d="M496.9 7.2L505.3 15.9" stroke="#2b4ce2" stroke-width="3.0"/><path d="M496.9 7.2L505.3 15.9" stroke="#6f8af0" stroke-width="0.75"/>
<path d="M521.7 21.1L509.3 14.2" stroke="#e3181b" stroke-width="3.0"/><path d="M521.7 21.1L509.3 14.2" stroke="#f76a6c" stroke-width="0.75"/>
<path d="M496.9 7.2L509.3 14.2" stroke="#2b4ce2" stroke-width="3.0"/><path d="M496.9 7.2L509.3 14.2" stroke="#6f8af0" stroke-width="0.75"/>
<path d="M513.7 24.7L526.5 20.7" stroke="#e3181b" stroke-width="3.0"/><path d="M513.7 24.7L526.5 20.7" stroke="#f76a6c" stroke-width="0.75"/>
<path d="M539.2 16.7L526.5 20.7" stroke="#2b4ce2" stroke-width="3.0"/><path d="M539.2 16.7L526.5 20.7" stroke="#6f8af0" stroke-width="0.75"/>
<path d="M521.7 21.1L530.5 18.9" stroke="#e3181b" stroke-width="3.0"/><path d="M521.7 21.1L530.5 18.9" stroke="#f76a6c" stroke-width="0.75"/>
<path d="M539.2 16.7L530.5 18.9" stroke="#2b4ce2" stroke-width="3.0"/><path d="M539.2 16.7L530.5 18.9" stroke="#6f8af0" stroke-width="0.75"/>
<path d="M556.0 11.6L547.6 14.1" stroke="#e3181b" stroke-width="3.0"/><path d="M556.0 11.6L547.6 14.1" stroke="#f76a6c" stroke-width="0.75"/>
<path d="M539.2 16.7L547.6 14.1" stroke="#2b4ce2" stroke-width="3.0"/><path d="M539.2 16.7L547.6 14.1" stroke="#6f8af0" stroke-width="0.75"/>
<path d="M560.4 31.3L549.8 24.0" stroke="#e3181b" stroke-width="3.0"/><path d="M560.4 31.3L549.8 24.0" stroke="#f76a6c" stroke-width="0.75"/>
<path d="M539.2 16.7L549.8 24.0" stroke="#2b4ce2" stroke-width="3.0"/><path d="M539.2 16.7L549.8 24.0" stroke="#6f8af0" stroke-width="0.75"/>
<path d="M513.7 24.7L525.8 25.4" stroke="#e3181b" stroke-width="3.0"/><path d="M513.7 24.7L525.8 25.4" stroke="#f76a6c" stroke-width="0.75"/>
<path d="M537.8 26.2L525.8 25.4" stroke="#2b4ce2" stroke-width="3.0"/><path d="M537.8 26.2L525.8 25.4" stroke="#6f8af0" stroke-width="0.75"/>
<path d="M521.7 21.1L529.8 23.6" stroke="#e3181b" stroke-width="3.0"/><path d="M521.7 21.1L529.8 23.6" stroke="#f76a6c" stroke-width="0.75"/>
<path d="M537.8 26.2L529.8 23.6" stroke="#2b4ce2" stroke-width="3.0"/><path d="M537.8 26.2L529.8 23.6" stroke="#6f8af0" stroke-width="0.75"/>
<path d="M560.4 31.3L549.1 28.8" stroke="#e3181b" stroke-width="3.0"/><path d="M560.4 31.3L549.1 28.8" stroke="#f76a6c" stroke-width="0.75"/>
<path d="M537.8 26.2L549.1 28.8" stroke="#2b4ce2" stroke-width="3.0"/><path d="M537.8 26.2L549.1 28.8" stroke="#6f8af0" stroke-width="0.75"/>
<path d="M529.0 47.3L533.4 36.8" stroke="#e3181b" stroke-width="3.0"/><path d="M529.0 47.3L533.4 36.8" stroke="#f76a6c" stroke-width="0.75"/>
<path d="M537.8 26.2L533.4 36.8" stroke="#2b4ce2" stroke-width="3.0"/><path d="M537.8 26.2L533.4 36.8" stroke="#6f8af0" stroke-width="0.75"/>
<path d="M472.0 47.3L481.9 44.0" stroke="#e3181b" stroke-width="3.0"/><path d="M472.0 47.3L481.9 44.0" stroke="#f76a6c" stroke-width="0.75"/>
<path d="M491.8 40.8L481.9 44.0" stroke="#2b4ce2" stroke-width="3.0"/><path d="M491.8 40.8L481.9 44.0" stroke="#6f8af0" stroke-width="0.75"/>
<path d="M487.4 14.5L489.6 27.6" stroke="#e3181b" stroke-width="3.0"/><path d="M487.4 14.5L489.6 27.6" stroke="#f76a6c" stroke-width="0.75"/>
<path d="M491.8 40.8L489.6 27.6" stroke="#2b4ce2" stroke-width="3.0"/><path d="M491.8 40.8L489.6 27.6" stroke="#6f8af0" stroke-width="0.75"/>
<path d="M480.8 43.7L486.3 42.2" stroke="#e3181b" stroke-width="3.0"/><path d="M480.8 43.7L486.3 42.2" stroke="#f76a6c" stroke-width="0.75"/>
<path d="M491.8 40.8L486.3 42.2" stroke="#2b4ce2" stroke-width="3.0"/><path d="M491.8 40.8L486.3 42.2" stroke="#6f8af0" stroke-width="0.75"/>
<path d="M481.6 56.8L486.7 48.8" stroke="#e3181b" stroke-width="3.0"/><path d="M481.6 56.8L486.7 48.8" stroke="#f76a6c" stroke-width="0.75"/>
<path d="M491.8 40.8L486.7 48.8" stroke="#2b4ce2" stroke-width="3.0"/><path d="M491.8 40.8L486.7 48.8" stroke="#6f8af0" stroke-width="0.75"/>
<path d="M499.1 62.7L495.5 51.8" stroke="#e3181b" stroke-width="3.0"/><path d="M499.1 62.7L495.5 51.8" stroke="#f76a6c" stroke-width="0.75"/>
<path d="M491.8 40.8L495.5 51.8" stroke="#2b4ce2" stroke-width="3.0"/><path d="M491.8 40.8L495.5 51.8" stroke="#6f8af0" stroke-width="0.75"/>
<path d="M521.7 21.1L529.4 29.4" stroke="#e3181b" stroke-width="3.0"/><path d="M521.7 21.1L529.4 29.4" stroke="#f76a6c" stroke-width="0.75"/>
<path d="M537.0 37.8L529.4 29.4" stroke="#2b4ce2" stroke-width="3.0"/><path d="M537.0 37.8L529.4 29.4" stroke="#6f8af0" stroke-width="0.75"/>
<path d="M560.4 31.3L548.7 34.5" stroke="#e3181b" stroke-width="3.0"/><path d="M560.4 31.3L548.7 34.5" stroke="#f76a6c" stroke-width="0.75"/>
<path d="M537.0 37.8L548.7 34.5" stroke="#2b4ce2" stroke-width="3.0"/><path d="M537.0 37.8L548.7 34.5" stroke="#6f8af0" stroke-width="0.75"/>
<path d="M517.3 49.5L527.1 43.6" stroke="#e3181b" stroke-width="3.0"/><path d="M517.3 49.5L527.1 43.6" stroke="#f76a6c" stroke-width="0.75"/>
<path d="M537.0 37.8L527.1 43.6" stroke="#2b4ce2" stroke-width="3.0"/><path d="M537.0 37.8L527.1 43.6" stroke="#6f8af0" stroke-width="0.75"/>
<path d="M529.0 47.3L533.0 42.5" stroke="#e3181b" stroke-width="3.0"/><path d="M529.0 47.3L533.0 42.5" stroke="#f76a6c" stroke-width="0.75"/>
<path d="M537.0 37.8L533.0 42.5" stroke="#2b4ce2" stroke-width="3.0"/><path d="M537.0 37.8L533.0 42.5" stroke="#6f8af0" stroke-width="0.75"/>
<path d="M556.0 11.6L556.8 24.0" stroke="#e3181b" stroke-width="3.0"/><path d="M556.0 11.6L556.8 24.0" stroke="#f76a6c" stroke-width="0.75"/>
<path d="M557.5 36.4L556.8 24.0" stroke="#2b4ce2" stroke-width="3.0"/><path d="M557.5 36.4L556.8 24.0" stroke="#6f8af0" stroke-width="0.75"/>
<path d="M560.4 31.3L559.0 33.9" stroke="#e3181b" stroke-width="3.0"/><path d="M560.4 31.3L559.0 33.9" stroke="#f76a6c" stroke-width="0.75"/>
<path d="M557.5 36.4L559.0 33.9" stroke="#2b4ce2" stroke-width="3.0"/><path d="M557.5 36.4L559.0 33.9" stroke="#6f8af0" stroke-width="0.75"/>
<path d="M578.0 54.6L567.8 45.5" stroke="#e3181b" stroke-width="3.0"/><path d="M578.0 54.6L567.8 45.5" stroke="#f76a6c" stroke-width="0.75"/>
<path d="M557.5 36.4L567.8 45.5" stroke="#2b4ce2" stroke-width="3.0"/><path d="M557.5 36.4L567.8 45.5" stroke="#6f8af0" stroke-width="0.75"/>
<path d="M581.0 50.3L569.2 43.3" stroke="#e3181b" stroke-width="3.0"/><path d="M581.0 50.3L569.2 43.3" stroke="#f76a6c" stroke-width="0.75"/>
<path d="M557.5 36.4L569.2 43.3" stroke="#2b4ce2" stroke-width="3.0"/><path d="M557.5 36.4L569.2 43.3" stroke="#6f8af0" stroke-width="0.75"/>
<path d="M556.0 11.6L564.4 11.2" stroke="#e3181b" stroke-width="3.0"/><path d="M556.0 11.6L564.4 11.2" stroke="#f76a6c" stroke-width="0.75"/>
<path d="M572.8 10.8L564.4 11.2" stroke="#2b4ce2" stroke-width="3.0"/><path d="M572.8 10.8L564.4 11.2" stroke="#6f8af0" stroke-width="0.75"/>
<path d="M560.4 31.3L566.6 21.1" stroke="#e3181b" stroke-width="3.0"/><path d="M560.4 31.3L566.6 21.1" stroke="#f76a6c" stroke-width="0.75"/>
<path d="M572.8 10.8L566.6 21.1" stroke="#2b4ce2" stroke-width="3.0"/><path d="M572.8 10.8L566.6 21.1" stroke="#6f8af0" stroke-width="0.75"/>
<path d="M588.2 14.5L580.5 12.7" stroke="#e3181b" stroke-width="3.0"/><path d="M588.2 14.5L580.5 12.7" stroke="#f76a6c" stroke-width="0.75"/>
<path d="M572.8 10.8L580.5 12.7" stroke="#2b4ce2" stroke-width="3.0"/><path d="M572.8 10.8L580.5 12.7" stroke="#6f8af0" stroke-width="0.75"/>
<path d="M591.9 20.3L582.3 15.6" stroke="#e3181b" stroke-width="3.0"/><path d="M591.9 20.3L582.3 15.6" stroke="#f76a6c" stroke-width="0.75"/>
<path d="M572.8 10.8L582.3 15.6" stroke="#2b4ce2" stroke-width="3.0"/><path d="M572.8 10.8L582.3 15.6" stroke="#6f8af0" stroke-width="0.75"/>
<path d="M560.4 31.3L556.8 42.6" stroke="#e3181b" stroke-width="3.0"/><path d="M560.4 31.3L556.8 42.6" stroke="#f76a6c" stroke-width="0.75"/>
<path d="M553.1 53.9L556.8 42.6" stroke="#2b4ce2" stroke-width="3.0"/><path d="M553.1 53.9L556.8 42.6" stroke="#6f8af0" stroke-width="0.75"/>
<path d="M533.4 64.1L543.2 59.0" stroke="#e3181b" stroke-width="3.0"/><path d="M533.4 64.1L543.2 59.0" stroke="#f76a6c" stroke-width="0.75"/>
<path d="M553.1 53.9L543.2 59.0" stroke="#2b4ce2" stroke-width="3.0"/><path d="M553.1 53.9L543.2 59.0" stroke="#6f8af0" stroke-width="0.75"/>
<path d="M559.7 68.5L556.4 61.2" stroke="#e3181b" stroke-width="3.0"/><path d="M559.7 68.5L556.4 61.2" stroke="#f76a6c" stroke-width="0.75"/>
<path d="M553.1 53.9L556.4 61.2" stroke="#2b4ce2" stroke-width="3.0"/><path d="M553.1 53.9L556.4 61.2" stroke="#6f8af0" stroke-width="0.75"/>
<path d="M564.0 75.8L558.5 64.8" stroke="#e3181b" stroke-width="3.0"/><path d="M564.0 75.8L558.5 64.8" stroke="#f76a6c" stroke-width="0.75"/>
<path d="M553.1 53.9L558.5 64.8" stroke="#2b4ce2" stroke-width="3.0"/><path d="M553.1 53.9L558.5 64.8" stroke="#6f8af0" stroke-width="0.75"/>
<path d="M517.3 49.5L529.0 54.6" stroke="#e3181b" stroke-width="3.0"/><path d="M517.3 49.5L529.0 54.6" stroke="#f76a6c" stroke-width="0.75"/>
<path d="M540.7 59.7L529.0 54.6" stroke="#2b4ce2" stroke-width="3.0"/><path d="M540.7 59.7L529.0 54.6" stroke="#6f8af0" stroke-width="0.75"/>
<path d="M529.0 47.3L534.9 53.5" stroke="#e3181b" stroke-width="3.0"/><path d="M529.0 47.3L534.9 53.5" stroke="#f76a6c" stroke-width="0.75"/>
<path d="M540.7 59.7L534.9 53.5" stroke="#2b4ce2" stroke-width="3.0"/><path d="M540.7 59.7L534.9 53.5" stroke="#6f8af0" stroke-width="0.75"/>
<path d="M533.4 64.1L537.0 61.9" stroke="#e3181b" stroke-width="3.0"/><path d="M533.4 64.1L537.0 61.9" stroke="#f76a6c" stroke-width="0.75"/>
<path d="M540.7 59.7L537.0 61.9" stroke="#2b4ce2" stroke-width="3.0"/><path d="M540.7 59.7L537.0 61.9" stroke="#6f8af0" stroke-width="0.75"/>
<path d="M559.7 68.5L550.2 64.1" stroke="#e3181b" stroke-width="3.0"/><path d="M559.7 68.5L550.2 64.1" stroke="#f76a6c" stroke-width="0.75"/>
<path d="M540.7 59.7L550.2 64.1" stroke="#2b4ce2" stroke-width="3.0"/><path d="M540.7 59.7L550.2 64.1" stroke="#6f8af0" stroke-width="0.75"/>
<path d="M533.4 64.1L532.3 68.8" stroke="#e3181b" stroke-width="3.0"/><path d="M533.4 64.1L532.3 68.8" stroke="#f76a6c" stroke-width="0.75"/>
<path d="M531.2 73.6L532.3 68.8" stroke="#2b4ce2" stroke-width="3.0"/><path d="M531.2 73.6L532.3 68.8" stroke="#6f8af0" stroke-width="0.75"/>
<path d="M512.2 72.2L521.7 72.9" stroke="#e3181b" stroke-width="3.0"/><path d="M512.2 72.2L521.7 72.9" stroke="#f76a6c" stroke-width="0.75"/>
<path d="M531.2 73.6L521.7 72.9" stroke="#2b4ce2" stroke-width="3.0"/><path d="M531.2 73.6L521.7 72.9" stroke="#6f8af0" stroke-width="0.75"/>
<path d="M518.1 89.7L524.7 81.7" stroke="#e3181b" stroke-width="3.0"/><path d="M518.1 89.7L524.7 81.7" stroke="#f76a6c" stroke-width="0.75"/>
<path d="M531.2 73.6L524.7 81.7" stroke="#2b4ce2" stroke-width="3.0"/><path d="M531.2 73.6L524.7 81.7" stroke="#6f8af0" stroke-width="0.75"/>
<path d="M531.9 94.8L531.5 84.2" stroke="#e3181b" stroke-width="3.0"/><path d="M531.9 94.8L531.5 84.2" stroke="#f76a6c" stroke-width="0.75"/>
<path d="M531.2 73.6L531.5 84.2" stroke="#2b4ce2" stroke-width="3.0"/><path d="M531.2 73.6L531.5 84.2" stroke="#6f8af0" stroke-width="0.75"/>
<path d="M475.6 88.9L485.5 89.3" stroke="#e3181b" stroke-width="3.0"/><path d="M475.6 88.9L485.5 89.3" stroke="#f76a6c" stroke-width="0.75"/>
<path d="M495.4 89.7L485.5 89.3" stroke="#2b4ce2" stroke-width="3.0"/><path d="M495.4 89.7L485.5 89.3" stroke="#6f8af0" stroke-width="0.75"/>
<path d="M499.1 62.7L497.2 76.2" stroke="#e3181b" stroke-width="3.0"/><path d="M499.1 62.7L497.2 76.2" stroke="#f76a6c" stroke-width="0.75"/>
<path d="M495.4 89.7L497.2 76.2" stroke="#2b4ce2" stroke-width="3.0"/><path d="M495.4 89.7L497.2 76.2" stroke="#6f8af0" stroke-width="0.75"/>
<path d="M512.2 72.2L503.8 81.0" stroke="#e3181b" stroke-width="3.0"/><path d="M512.2 72.2L503.8 81.0" stroke="#f76a6c" stroke-width="0.75"/>
<path d="M495.4 89.7L503.8 81.0" stroke="#2b4ce2" stroke-width="3.0"/><path d="M495.4 89.7L503.8 81.0" stroke="#6f8af0" stroke-width="0.75"/>
<path d="M488.9 80.9L492.1 85.3" stroke="#e3181b" stroke-width="3.0"/><path d="M488.9 80.9L492.1 85.3" stroke="#f76a6c" stroke-width="0.75"/>
<path d="M495.4 89.7L492.1 85.3" stroke="#2b4ce2" stroke-width="3.0"/><path d="M495.4 89.7L492.1 85.3" stroke="#6f8af0" stroke-width="0.75"/>
<path d="M476.5 88.2L485.9 89.0" stroke="#e3181b" stroke-width="3.0"/><path d="M476.5 88.2L485.9 89.0" stroke="#f76a6c" stroke-width="0.75"/>
<path d="M495.4 89.7L485.9 89.0" stroke="#2b4ce2" stroke-width="3.0"/><path d="M495.4 89.7L485.9 89.0" stroke="#6f8af0" stroke-width="0.75"/>
<path d="M477.9 97.9L486.6 93.8" stroke="#e3181b" stroke-width="3.0"/><path d="M477.9 97.9L486.6 93.8" stroke="#f76a6c" stroke-width="0.75"/>
<path d="M495.4 89.7L486.6 93.8" stroke="#2b4ce2" stroke-width="3.0"/><path d="M495.4 89.7L486.6 93.8" stroke="#6f8af0" stroke-width="0.75"/>
<path d="M487.4 106.7L491.4 98.2" stroke="#e3181b" stroke-width="3.0"/><path d="M487.4 106.7L491.4 98.2" stroke="#f76a6c" stroke-width="0.75"/>
<path d="M495.4 89.7L491.4 98.2" stroke="#2b4ce2" stroke-width="3.0"/><path d="M495.4 89.7L491.4 98.2" stroke="#6f8af0" stroke-width="0.75"/>
<path d="M559.7 68.5L554.2 76.5" stroke="#e3181b" stroke-width="3.0"/><path d="M559.7 68.5L554.2 76.5" stroke="#f76a6c" stroke-width="0.75"/>
<path d="M548.7 84.6L554.2 76.5" stroke="#2b4ce2" stroke-width="3.0"/><path d="M548.7 84.6L554.2 76.5" stroke="#6f8af0" stroke-width="0.75"/>
<path d="M564.0 75.8L556.4 80.2" stroke="#e3181b" stroke-width="3.0"/><path d="M564.0 75.8L556.4 80.2" stroke="#f76a6c" stroke-width="0.75"/>
<path d="M548.7 84.6L556.4 80.2" stroke="#2b4ce2" stroke-width="3.0"/><path d="M548.7 84.6L556.4 80.2" stroke="#6f8af0" stroke-width="0.75"/>
<path d="M531.9 94.8L540.3 89.7" stroke="#e3181b" stroke-width="3.0"/><path d="M531.9 94.8L540.3 89.7" stroke="#f76a6c" stroke-width="0.75"/>
<path d="M548.7 84.6L540.3 89.7" stroke="#2b4ce2" stroke-width="3.0"/><path d="M548.7 84.6L540.3 89.7" stroke="#6f8af0" stroke-width="0.75"/>
<path d="M556.0 103.8L552.4 94.2" stroke="#e3181b" stroke-width="3.0"/><path d="M556.0 103.8L552.4 94.2" stroke="#f76a6c" stroke-width="0.75"/>
<path d="M548.7 84.6L552.4 94.2" stroke="#2b4ce2" stroke-width="3.0"/><path d="M548.7 84.6L552.4 94.2" stroke="#6f8af0" stroke-width="0.75"/>
<path d="M556.0 11.6L566.3 10.5" stroke="#e3181b" stroke-width="3.0"/><path d="M556.0 11.6L566.3 10.5" stroke="#f76a6c" stroke-width="0.75"/>
<path d="M576.6 9.4L566.3 10.5" stroke="#2b4ce2" stroke-width="3.0"/><path d="M576.6 9.4L566.3 10.5" stroke="#6f8af0" stroke-width="0.75"/>
<path d="M597.7 12.3L587.2 10.9" stroke="#e3181b" stroke-width="3.0"/><path d="M597.7 12.3L587.2 10.9" stroke="#f76a6c" stroke-width="0.75"/>
<path d="M576.6 9.4L587.2 10.9" stroke="#2b4ce2" stroke-width="3.0"/><path d="M576.6 9.4L587.2 10.9" stroke="#6f8af0" stroke-width="0.75"/>
<path d="M588.2 14.5L582.4 11.9" stroke="#e3181b" stroke-width="3.0"/><path d="M588.2 14.5L582.4 11.9" stroke="#f76a6c" stroke-width="0.75"/>
<path d="M576.6 9.4L582.4 11.9" stroke="#2b4ce2" stroke-width="3.0"/><path d="M576.6 9.4L582.4 11.9" stroke="#6f8af0" stroke-width="0.75"/>
<path d="M591.9 20.3L584.2 14.9" stroke="#e3181b" stroke-width="3.0"/><path d="M591.9 20.3L584.2 14.9" stroke="#f76a6c" stroke-width="0.75"/>
<path d="M576.6 9.4L584.2 14.9" stroke="#2b4ce2" stroke-width="3.0"/><path d="M576.6 9.4L584.2 14.9" stroke="#6f8af0" stroke-width="0.75"/>
<path d="M636.4 15.2L631.3 13.4" stroke="#e3181b" stroke-width="3.0"/><path d="M636.4 15.2L631.3 13.4" stroke="#f76a6c" stroke-width="0.75"/>
<path d="M626.2 11.6L631.3 13.4" stroke="#2b4ce2" stroke-width="3.0"/><path d="M626.2 11.6L631.3 13.4" stroke="#6f8af0" stroke-width="0.75"/>
<path d="M645.2 13.0L635.7 12.3" stroke="#e3181b" stroke-width="3.0"/><path d="M645.2 13.0L635.7 12.3" stroke="#f76a6c" stroke-width="0.75"/>
<path d="M626.2 11.6L635.7 12.3" stroke="#2b4ce2" stroke-width="3.0"/><path d="M626.2 11.6L635.7 12.3" stroke="#6f8af0" stroke-width="0.75"/>
<path d="M630.6 31.3L628.4 21.4" stroke="#e3181b" stroke-width="3.0"/><path d="M630.6 31.3L628.4 21.4" stroke="#f76a6c" stroke-width="0.75"/>
<path d="M626.2 11.6L628.4 21.4" stroke="#2b4ce2" stroke-width="3.0"/><path d="M626.2 11.6L628.4 21.4" stroke="#6f8af0" stroke-width="0.75"/>
<path d="M637.2 32.7L631.7 22.2" stroke="#e3181b" stroke-width="3.0"/><path d="M637.2 32.7L631.7 22.2" stroke="#f76a6c" stroke-width="0.75"/>
<path d="M626.2 11.6L631.7 22.2" stroke="#2b4ce2" stroke-width="3.0"/><path d="M626.2 11.6L631.7 22.2" stroke="#6f8af0" stroke-width="0.75"/>
<path d="M636.4 15.2L629.1 17.0" stroke="#e3181b" stroke-width="3.0"/><path d="M636.4 15.2L629.1 17.0" stroke="#f76a6c" stroke-width="0.75"/>
<path d="M621.8 18.9L629.1 17.0" stroke="#2b4ce2" stroke-width="3.0"/><path d="M621.8 18.9L629.1 17.0" stroke="#6f8af0" stroke-width="0.75"/>
<path d="M645.2 13.0L633.5 15.9" stroke="#e3181b" stroke-width="3.0"/><path d="M645.2 13.0L633.5 15.9" stroke="#f76a6c" stroke-width="0.75"/>
<path d="M621.8 18.9L633.5 15.9" stroke="#2b4ce2" stroke-width="3.0"/><path d="M621.8 18.9L633.5 15.9" stroke="#6f8af0" stroke-width="0.75"/>
<path d="M616.0 37.1L618.9 28.0" stroke="#e3181b" stroke-width="3.0"/><path d="M616.0 37.1L618.9 28.0" stroke="#f76a6c" stroke-width="0.75"/>
<path d="M621.8 18.9L618.9 28.0" stroke="#2b4ce2" stroke-width="3.0"/><path d="M621.8 18.9L618.9 28.0" stroke="#6f8af0" stroke-width="0.75"/>
<path d="M630.6 31.3L626.2 25.1" stroke="#e3181b" stroke-width="3.0"/><path d="M630.6 31.3L626.2 25.1" stroke="#f76a6c" stroke-width="0.75"/>
<path d="M621.8 18.9L626.2 25.1" stroke="#2b4ce2" stroke-width="3.0"/><path d="M621.8 18.9L626.2 25.1" stroke="#6f8af0" stroke-width="0.75"/>
<path d="M597.7 12.3L591.2 21.8" stroke="#e3181b" stroke-width="3.0"/><path d="M597.7 12.3L591.2 21.8" stroke="#f76a6c" stroke-width="0.75"/>
<path d="M584.6 31.3L591.2 21.8" stroke="#2b4ce2" stroke-width="3.0"/><path d="M584.6 31.3L591.2 21.8" stroke="#6f8af0" stroke-width="0.75"/>
<path d="M591.9 20.3L588.2 25.8" stroke="#e3181b" stroke-width="3.0"/><path d="M591.9 20.3L588.2 25.8" stroke="#f76a6c" stroke-width="0.75"/>
<path d="M584.6 31.3L588.2 25.8" stroke="#2b4ce2" stroke-width="3.0"/><path d="M584.6 31.3L588.2 25.8" stroke="#6f8af0" stroke-width="0.75"/>
<path d="M578.0 54.6L581.3 43.0" stroke="#e3181b" stroke-width="3.0"/><path d="M578.0 54.6L581.3 43.0" stroke="#f76a6c" stroke-width="0.75"/>
<path d="M584.6 31.3L581.3 43.0" stroke="#2b4ce2" stroke-width="3.0"/><path d="M584.6 31.3L581.3 43.0" stroke="#6f8af0" stroke-width="0.75"/>
<path d="M581.0 50.3L582.8 40.8" stroke="#e3181b" stroke-width="3.0"/><path d="M581.0 50.3L582.8 40.8" stroke="#f76a6c" stroke-width="0.75"/>
<path d="M584.6 31.3L582.8 40.8" stroke="#2b4ce2" stroke-width="3.0"/><path d="M584.6 31.3L582.8 40.8" stroke="#6f8af0" stroke-width="0.75"/>
<path d="M645.2 13.0L650.0 24.7" stroke="#e3181b" stroke-width="3.0"/><path d="M645.2 13.0L650.0 24.7" stroke="#f76a6c" stroke-width="0.75"/>
<path d="M654.7 36.4L650.0 24.7" stroke="#2b4ce2" stroke-width="3.0"/><path d="M654.7 36.4L650.0 24.7" stroke="#6f8af0" stroke-width="0.75"/>
<path d="M630.6 31.3L642.7 33.9" stroke="#e3181b" stroke-width="3.0"/><path d="M630.6 31.3L642.7 33.9" stroke="#f76a6c" stroke-width="0.75"/>
<path d="M654.7 36.4L642.7 33.9" stroke="#2b4ce2" stroke-width="3.0"/><path d="M654.7 36.4L642.7 33.9" stroke="#6f8af0" stroke-width="0.75"/>
<path d="M637.2 32.7L646.0 34.5" stroke="#e3181b" stroke-width="3.0"/><path d="M637.2 32.7L646.0 34.5" stroke="#f76a6c" stroke-width="0.75"/>
<path d="M654.7 36.4L646.0 34.5" stroke="#2b4ce2" stroke-width="3.0"/><path d="M654.7 36.4L646.0 34.5" stroke="#6f8af0" stroke-width="0.75"/>
<path d="M645.9 39.3L650.3 37.8" stroke="#e3181b" stroke-width="3.0"/><path d="M645.9 39.3L650.3 37.8" stroke="#f76a6c" stroke-width="0.75"/>
<path d="M654.7 36.4L650.3 37.8" stroke="#2b4ce2" stroke-width="3.0"/><path d="M654.7 36.4L650.3 37.8" stroke="#6f8af0" stroke-width="0.75"/>
<path d="M578.0 54.6L587.5 55.7" stroke="#e3181b" stroke-width="3.0"/><path d="M578.0 54.6L587.5 55.7" stroke="#f76a6c" stroke-width="0.75"/>
<path d="M597.0 56.8L587.5 55.7" stroke="#2b4ce2" stroke-width="3.0"/><path d="M597.0 56.8L587.5 55.7" stroke="#6f8af0" stroke-width="0.75"/>
<path d="M581.0 50.3L589.0 53.5" stroke="#e3181b" stroke-width="3.0"/><path d="M581.0 50.3L589.0 53.5" stroke="#f76a6c" stroke-width="0.75"/>
<path d="M597.0 56.8L589.0 53.5" stroke="#2b4ce2" stroke-width="3.0"/><path d="M597.0 56.8L589.0 53.5" stroke="#6f8af0" stroke-width="0.75"/>
<path d="M611.6 70.7L604.3 63.8" stroke="#e3181b" stroke-width="3.0"/><path d="M611.6 70.7L604.3 63.8" stroke="#f76a6c" stroke-width="0.75"/>
<path d="M597.0 56.8L604.3 63.8" stroke="#2b4ce2" stroke-width="3.0"/><path d="M597.0 56.8L604.3 63.8" stroke="#6f8af0" stroke-width="0.75"/>
<path d="M615.3 66.3L606.1 61.5" stroke="#e3181b" stroke-width="3.0"/><path d="M615.3 66.3L606.1 61.5" stroke="#f76a6c" stroke-width="0.75"/>
<path d="M597.0 56.8L606.1 61.5" stroke="#2b4ce2" stroke-width="3.0"/><path d="M597.0 56.8L606.1 61.5" stroke="#6f8af0" stroke-width="0.75"/>
<path d="M616.0 37.1L622.2 43.3" stroke="#e3181b" stroke-width="3.0"/><path d="M616.0 37.1L622.2 43.3" stroke="#f76a6c" stroke-width="0.75"/>
<path d="M628.4 49.5L622.2 43.3" stroke="#2b4ce2" stroke-width="3.0"/><path d="M628.4 49.5L622.2 43.3" stroke="#6f8af0" stroke-width="0.75"/>
<path d="M630.6 31.3L629.5 40.4" stroke="#e3181b" stroke-width="3.0"/><path d="M630.6 31.3L629.5 40.4" stroke="#f76a6c" stroke-width="0.75"/>
<path d="M628.4 49.5L629.5 40.4" stroke="#2b4ce2" stroke-width="3.0"/><path d="M628.4 49.5L629.5 40.4" stroke="#6f8af0" stroke-width="0.75"/>
<path d="M637.2 32.7L632.8 41.1" stroke="#e3181b" stroke-width="3.0"/><path d="M637.2 32.7L632.8 41.1" stroke="#f76a6c" stroke-width="0.75"/>
<path d="M628.4 49.5L632.8 41.1" stroke="#2b4ce2" stroke-width="3.0"/><path d="M628.4 49.5L632.8 41.1" stroke="#6f8af0" stroke-width="0.75"/>
<path d="M645.9 39.3L637.1 44.4" stroke="#e3181b" stroke-width="3.0"/><path d="M645.9 39.3L637.1 44.4" stroke="#f76a6c" stroke-width="0.75"/>
<path d="M628.4 49.5L637.1 44.4" stroke="#2b4ce2" stroke-width="3.0"/><path d="M628.4 49.5L637.1 44.4" stroke="#6f8af0" stroke-width="0.75"/>
<path d="M622.6 63.4L625.5 56.5" stroke="#e3181b" stroke-width="3.0"/><path d="M622.6 63.4L625.5 56.5" stroke="#f76a6c" stroke-width="0.75"/>
<path d="M628.4 49.5L625.5 56.5" stroke="#2b4ce2" stroke-width="3.0"/><path d="M628.4 49.5L625.5 56.5" stroke="#6f8af0" stroke-width="0.75"/>
<path d="M622.6 63.4L630.2 62.3" stroke="#e3181b" stroke-width="3.0"/><path d="M622.6 63.4L630.2 62.3" stroke="#f76a6c" stroke-width="0.75"/>
<path d="M637.9 61.2L630.2 62.3" stroke="#2b4ce2" stroke-width="3.0"/><path d="M637.9 61.2L630.2 62.3" stroke="#6f8af0" stroke-width="0.75"/>
<path d="M615.3 66.3L626.6 63.8" stroke="#e3181b" stroke-width="3.0"/><path d="M615.3 66.3L626.6 63.8" stroke="#f76a6c" stroke-width="0.75"/>
<path d="M637.9 61.2L626.6 63.8" stroke="#2b4ce2" stroke-width="3.0"/><path d="M637.9 61.2L626.6 63.8" stroke="#6f8af0" stroke-width="0.75"/>
<path d="M653.2 67.0L645.5 64.1" stroke="#e3181b" stroke-width="3.0"/><path d="M653.2 67.0L645.5 64.1" stroke="#f76a6c" stroke-width="0.75"/>
<path d="M637.9 61.2L645.5 64.1" stroke="#2b4ce2" stroke-width="3.0"/><path d="M637.9 61.2L645.5 64.1" stroke="#6f8af0" stroke-width="0.75"/>
<path d="M634.2 76.5L636.0 68.8" stroke="#e3181b" stroke-width="3.0"/><path d="M634.2 76.5L636.0 68.8" stroke="#f76a6c" stroke-width="0.75"/>
<path d="M637.9 61.2L636.0 68.8" stroke="#2b4ce2" stroke-width="3.0"/><path d="M637.9 61.2L636.0 68.8" stroke="#6f8af0" stroke-width="0.75"/>
<path d="M622.6 63.4L634.2 70.7" stroke="#e3181b" stroke-width="3.0"/><path d="M622.6 63.4L634.2 70.7" stroke="#f76a6c" stroke-width="0.75"/>
<path d="M645.9 78.0L634.2 70.7" stroke="#2b4ce2" stroke-width="3.0"/><path d="M645.9 78.0L634.2 70.7" stroke="#6f8af0" stroke-width="0.75"/>
<path d="M653.2 67.0L649.5 72.5" stroke="#e3181b" stroke-width="3.0"/><path d="M653.2 67.0L649.5 72.5" stroke="#f76a6c" stroke-width="0.75"/>
<path d="M645.9 78.0L649.5 72.5" stroke="#2b4ce2" stroke-width="3.0"/><path d="M645.9 78.0L649.5 72.5" stroke="#6f8af0" stroke-width="0.75"/>
<path d="M634.2 76.5L640.0 77.2" stroke="#e3181b" stroke-width="3.0"/><path d="M634.2 76.5L640.0 77.2" stroke="#f76a6c" stroke-width="0.75"/>
<path d="M645.9 78.0L640.0 77.2" stroke="#2b4ce2" stroke-width="3.0"/><path d="M645.9 78.0L640.0 77.2" stroke="#6f8af0" stroke-width="0.75"/>
<path d="M649.6 88.9L647.8 83.5" stroke="#e3181b" stroke-width="3.0"/><path d="M649.6 88.9L647.8 83.5" stroke="#f76a6c" stroke-width="0.75"/>
<path d="M645.9 78.0L647.8 83.5" stroke="#2b4ce2" stroke-width="3.0"/><path d="M645.9 78.0L647.8 83.5" stroke="#6f8af0" stroke-width="0.75"/>
<path d="M611.6 70.7L606.5 75.8" stroke="#e3181b" stroke-width="3.0"/><path d="M611.6 70.7L606.5 75.8" stroke="#f76a6c" stroke-width="0.75"/>
<path d="M601.4 80.9L606.5 75.8" stroke="#2b4ce2" stroke-width="3.0"/><path d="M601.4 80.9L606.5 75.8" stroke="#6f8af0" stroke-width="0.75"/>
<path d="M615.3 66.3L608.3 73.6" stroke="#e3181b" stroke-width="3.0"/><path d="M615.3 66.3L608.3 73.6" stroke="#f76a6c" stroke-width="0.75"/>
<path d="M601.4 80.9L608.3 73.6" stroke="#2b4ce2" stroke-width="3.0"/><path d="M601.4 80.9L608.3 73.6" stroke="#6f8af0" stroke-width="0.75"/>
<path d="M610.9 80.9L606.1 80.9" stroke="#e3181b" stroke-width="3.0"/><path d="M610.9 80.9L606.1 80.9" stroke="#f76a6c" stroke-width="0.75"/>
<path d="M601.4 80.9L606.1 80.9" stroke="#2b4ce2" stroke-width="3.0"/><path d="M601.4 80.9L606.1 80.9" stroke="#6f8af0" stroke-width="0.75"/>
<path d="M597.7 104.5L599.5 92.7" stroke="#e3181b" stroke-width="3.0"/><path d="M597.7 104.5L599.5 92.7" stroke="#f76a6c" stroke-width="0.75"/>
<path d="M601.4 80.9L599.5 92.7" stroke="#2b4ce2" stroke-width="3.0"/><path d="M601.4 80.9L599.5 92.7" stroke="#6f8af0" stroke-width="0.75"/>
<path d="M564.0 75.8L573.2 80.9" stroke="#e3181b" stroke-width="3.0"/><path d="M564.0 75.8L573.2 80.9" stroke="#f76a6c" stroke-width="0.75"/>
<path d="M582.4 86.0L573.2 80.9" stroke="#2b4ce2" stroke-width="3.0"/><path d="M582.4 86.0L573.2 80.9" stroke="#6f8af0" stroke-width="0.75"/>
<path d="M574.4 76.5L578.4 81.2" stroke="#e3181b" stroke-width="3.0"/><path d="M574.4 76.5L578.4 81.2" stroke="#f76a6c" stroke-width="0.75"/>
<path d="M582.4 86.0L578.4 81.2" stroke="#2b4ce2" stroke-width="3.0"/><path d="M582.4 86.0L578.4 81.2" stroke="#6f8af0" stroke-width="0.75"/>
<path d="M589.0 94.0L585.7 90.0" stroke="#e3181b" stroke-width="3.0"/><path d="M589.0 94.0L585.7 90.0" stroke="#f76a6c" stroke-width="0.75"/>
<path d="M582.4 86.0L585.7 90.0" stroke="#2b4ce2" stroke-width="3.0"/><path d="M582.4 86.0L585.7 90.0" stroke="#6f8af0" stroke-width="0.75"/>
<path d="M591.9 111.8L587.1 98.9" stroke="#e3181b" stroke-width="3.0"/><path d="M591.9 111.8L587.1 98.9" stroke="#f76a6c" stroke-width="0.75"/>
<path d="M582.4 86.0L587.1 98.9" stroke="#2b4ce2" stroke-width="3.0"/><path d="M582.4 86.0L587.1 98.9" stroke="#6f8af0" stroke-width="0.75"/>
<path d="M634.2 76.5L635.3 81.2" stroke="#e3181b" stroke-width="3.0"/><path d="M634.2 76.5L635.3 81.2" stroke="#f76a6c" stroke-width="0.75"/>
<path d="M636.4 86.0L635.3 81.2" stroke="#2b4ce2" stroke-width="3.0"/><path d="M636.4 86.0L635.3 81.2" stroke="#6f8af0" stroke-width="0.75"/>
<path d="M649.6 88.9L643.0 87.5" stroke="#e3181b" stroke-width="3.0"/><path d="M649.6 88.9L643.0 87.5" stroke="#f76a6c" stroke-width="0.75"/>
<path d="M636.4 86.0L643.0 87.5" stroke="#2b4ce2" stroke-width="3.0"/><path d="M636.4 86.0L643.0 87.5" stroke="#6f8af0" stroke-width="0.75"/>
<path d="M636.4 107.4L636.4 96.7" stroke="#e3181b" stroke-width="3.0"/><path d="M636.4 107.4L636.4 96.7" stroke="#f76a6c" stroke-width="0.75"/>
<path d="M636.4 86.0L636.4 96.7" stroke="#2b4ce2" stroke-width="3.0"/><path d="M636.4 86.0L636.4 96.7" stroke="#6f8af0" stroke-width="0.75"/>
<path d="M645.2 106.0L640.8 96.0" stroke="#e3181b" stroke-width="3.0"/><path d="M645.2 106.0L640.8 96.0" stroke="#f76a6c" stroke-width="0.75"/>
<path d="M636.4 86.0L640.8 96.0" stroke="#2b4ce2" stroke-width="3.0"/><path d="M636.4 86.0L640.8 96.0" stroke="#6f8af0" stroke-width="0.75"/>
<path d="M574.4 76.5L575.2 87.8" stroke="#e3181b" stroke-width="3.0"/><path d="M574.4 76.5L575.2 87.8" stroke="#f76a6c" stroke-width="0.75"/>
<path d="M576.0 99.0L575.2 87.8" stroke="#2b4ce2" stroke-width="3.0"/><path d="M576.0 99.0L575.2 87.8" stroke="#6f8af0" stroke-width="0.75"/>
<path d="M589.0 94.0L582.5 96.5" stroke="#e3181b" stroke-width="3.0"/><path d="M589.0 94.0L582.5 96.5" stroke="#f76a6c" stroke-width="0.75"/>
<path d="M576.0 99.0L582.5 96.5" stroke="#2b4ce2" stroke-width="3.0"/><path d="M576.0 99.0L582.5 96.5" stroke="#6f8af0" stroke-width="0.75"/>
<path d="M556.0 103.8L566.0 101.4" stroke="#e3181b" stroke-width="3.0"/><path d="M556.0 103.8L566.0 101.4" stroke="#f76a6c" stroke-width="0.75"/>
<path d="M576.0 99.0L566.0 101.4" stroke="#2b4ce2" stroke-width="3.0"/><path d="M576.0 99.0L566.0 101.4" stroke="#6f8af0" stroke-width="0.75"/>
<path d="M597.7 104.5L586.9 101.8" stroke="#e3181b" stroke-width="3.0"/><path d="M597.7 104.5L586.9 101.8" stroke="#f76a6c" stroke-width="0.75"/>
<path d="M576.0 99.0L586.9 101.8" stroke="#2b4ce2" stroke-width="3.0"/><path d="M576.0 99.0L586.9 101.8" stroke="#6f8af0" stroke-width="0.75"/>
<path d="M591.9 111.8L584.0 105.4" stroke="#e3181b" stroke-width="3.0"/><path d="M591.9 111.8L584.0 105.4" stroke="#f76a6c" stroke-width="0.75"/>
<path d="M576.0 99.0L584.0 105.4" stroke="#2b4ce2" stroke-width="3.0"/><path d="M576.0 99.0L584.0 105.4" stroke="#6f8af0" stroke-width="0.75"/>
<path d="M610.9 80.9L618.5 90.7" stroke="#e3181b" stroke-width="3.0"/><path d="M610.9 80.9L618.5 90.7" stroke="#f76a6c" stroke-width="0.75"/>
<path d="M626.2 100.5L618.5 90.7" stroke="#2b4ce2" stroke-width="3.0"/><path d="M626.2 100.5L618.5 90.7" stroke="#6f8af0" stroke-width="0.75"/>
<path d="M606.5 108.9L616.4 104.7" stroke="#e3181b" stroke-width="3.0"/><path d="M606.5 108.9L616.4 104.7" stroke="#f76a6c" stroke-width="0.75"/>
<path d="M626.2 100.5L616.4 104.7" stroke="#2b4ce2" stroke-width="3.0"/><path d="M626.2 100.5L616.4 104.7" stroke="#6f8af0" stroke-width="0.75"/>
<path d="M636.4 107.4L631.3 104.0" stroke="#e3181b" stroke-width="3.0"/><path d="M636.4 107.4L631.3 104.0" stroke="#f76a6c" stroke-width="0.75"/>
<path d="M626.2 100.5L631.3 104.0" stroke="#2b4ce2" stroke-width="3.0"/><path d="M626.2 100.5L631.3 104.0" stroke="#6f8af0" stroke-width="0.75"/>
<path d="M645.2 106.0L635.7 103.2" stroke="#e3181b" stroke-width="3.0"/><path d="M645.2 106.0L635.7 103.2" stroke="#f76a6c" stroke-width="0.75"/>
<path d="M626.2 100.5L635.7 103.2" stroke="#2b4ce2" stroke-width="3.0"/><path d="M626.2 100.5L635.7 103.2" stroke="#6f8af0" stroke-width="0.75"/>
<path d="M401.9 95.5L409.5 103.3" stroke="#e3181b" stroke-width="3.0"/><path d="M401.9 95.5L409.5 103.3" stroke="#f76a6c" stroke-width="0.75"/>
<path d="M417.2 111.1L409.5 103.3" stroke="#2b4ce2" stroke-width="3.0"/><path d="M417.2 111.1L409.5 103.3" stroke="#6f8af0" stroke-width="0.75"/>
<path d="M436.2 108.9L426.7 110.0" stroke="#e3181b" stroke-width="3.0"/><path d="M436.2 108.9L426.7 110.0" stroke="#f76a6c" stroke-width="0.75"/>
<path d="M417.2 111.1L426.7 110.0" stroke="#2b4ce2" stroke-width="3.0"/><path d="M417.2 111.1L426.7 110.0" stroke="#6f8af0" stroke-width="0.75"/>
<path d="M436.9 114.7L427.0 112.9" stroke="#e3181b" stroke-width="3.0"/><path d="M436.9 114.7L427.0 112.9" stroke="#f76a6c" stroke-width="0.75"/>
<path d="M417.2 111.1L427.0 112.9" stroke="#2b4ce2" stroke-width="3.0"/><path d="M417.2 111.1L427.0 112.9" stroke="#6f8af0" stroke-width="0.75"/>
<path d="M402.6 131.5L409.9 121.3" stroke="#e3181b" stroke-width="3.0"/><path d="M402.6 131.5L409.9 121.3" stroke="#f76a6c" stroke-width="0.75"/>
<path d="M417.2 111.1L409.9 121.3" stroke="#2b4ce2" stroke-width="3.0"/><path d="M417.2 111.1L409.9 121.3" stroke="#6f8af0" stroke-width="0.75"/>
<path d="M447.2 109.6L453.4 112.2" stroke="#e3181b" stroke-width="3.0"/><path d="M447.2 109.6L453.4 112.2" stroke="#f76a6c" stroke-width="0.75"/>
<path d="M459.6 114.7L453.4 112.2" stroke="#2b4ce2" stroke-width="3.0"/><path d="M459.6 114.7L453.4 112.2" stroke="#6f8af0" stroke-width="0.75"/>
<path d="M436.9 114.7L448.2 114.7" stroke="#e3181b" stroke-width="3.0"/><path d="M436.9 114.7L448.2 114.7" stroke="#f76a6c" stroke-width="0.75"/>
<path d="M459.6 114.7L448.2 114.7" stroke="#2b4ce2" stroke-width="3.0"/><path d="M459.6 114.7L448.2 114.7" stroke="#6f8af0" stroke-width="0.75"/>
<path d="M441.3 119.1L450.5 116.9" stroke="#e3181b" stroke-width="3.0"/><path d="M441.3 119.1L450.5 116.9" stroke="#f76a6c" stroke-width="0.75"/>
<path d="M459.6 114.7L450.5 116.9" stroke="#2b4ce2" stroke-width="3.0"/><path d="M459.6 114.7L450.5 116.9" stroke="#6f8af0" stroke-width="0.75"/>
<path d="M476.4 112.5L468.0 113.6" stroke="#e3181b" stroke-width="3.0"/><path d="M476.4 112.5L468.0 113.6" stroke="#f76a6c" stroke-width="0.75"/>
<path d="M459.6 114.7L468.0 113.6" stroke="#2b4ce2" stroke-width="3.0"/><path d="M459.6 114.7L468.0 113.6" stroke="#6f8af0" stroke-width="0.75"/>
<path d="M449.3 134.4L454.5 124.6" stroke="#e3181b" stroke-width="3.0"/><path d="M449.3 134.4L454.5 124.6" stroke="#f76a6c" stroke-width="0.75"/>
<path d="M459.6 114.7L454.5 124.6" stroke="#2b4ce2" stroke-width="3.0"/><path d="M459.6 114.7L454.5 124.6" stroke="#6f8af0" stroke-width="0.75"/>
<path d="M478.6 113.2L469.1 114.0" stroke="#e3181b" stroke-width="3.0"/><path d="M478.6 113.2L469.1 114.0" stroke="#f76a6c" stroke-width="0.75"/>
<path d="M459.6 114.7L469.1 114.0" stroke="#2b4ce2" stroke-width="3.0"/><path d="M459.6 114.7L469.1 114.0" stroke="#6f8af0" stroke-width="0.75"/>
<path d="M476.4 112.5L473.1 118.7" stroke="#e3181b" stroke-width="3.0"/><path d="M476.4 112.5L473.1 118.7" stroke="#f76a6c" stroke-width="0.75"/>
<path d="M469.8 124.9L473.1 118.7" stroke="#2b4ce2" stroke-width="3.0"/><path d="M469.8 124.9L473.1 118.7" stroke="#6f8af0" stroke-width="0.75"/>
<path d="M473.4 143.2L471.6 134.1" stroke="#e3181b" stroke-width="3.0"/><path d="M473.4 143.2L471.6 134.1" stroke="#f76a6c" stroke-width="0.75"/>
<path d="M469.8 124.9L471.6 134.1" stroke="#2b4ce2" stroke-width="3.0"/><path d="M469.8 124.9L471.6 134.1" stroke="#6f8af0" stroke-width="0.75"/>
<path d="M477.8 135.9L473.8 130.4" stroke="#e3181b" stroke-width="3.0"/><path d="M477.8 135.9L473.8 130.4" stroke="#f76a6c" stroke-width="0.75"/>
<path d="M469.8 124.9L473.8 130.4" stroke="#2b4ce2" stroke-width="3.0"/><path d="M469.8 124.9L473.8 130.4" stroke="#6f8af0" stroke-width="0.75"/>
<path d="M478.6 113.2L474.2 119.1" stroke="#e3181b" stroke-width="3.0"/><path d="M478.6 113.2L474.2 119.1" stroke="#f76a6c" stroke-width="0.75"/>
<path d="M469.8 124.9L474.2 119.1" stroke="#2b4ce2" stroke-width="3.0"/><path d="M469.8 124.9L474.2 119.1" stroke="#6f8af0" stroke-width="0.75"/>
<path d="M436.9 114.7L434.0 126.0" stroke="#e3181b" stroke-width="3.0"/><path d="M436.9 114.7L434.0 126.0" stroke="#f76a6c" stroke-width="0.75"/>
<path d="M431.1 137.3L434.0 126.0" stroke="#2b4ce2" stroke-width="3.0"/><path d="M431.1 137.3L434.0 126.0" stroke="#6f8af0" stroke-width="0.75"/>
<path d="M441.3 119.1L436.2 128.2" stroke="#e3181b" stroke-width="3.0"/><path d="M441.3 119.1L436.2 128.2" stroke="#f76a6c" stroke-width="0.75"/>
<path d="M431.1 137.3L436.2 128.2" stroke="#2b4ce2" stroke-width="3.0"/><path d="M431.1 137.3L436.2 128.2" stroke="#6f8af0" stroke-width="0.75"/>
<path d="M449.3 134.4L440.2 135.9" stroke="#e3181b" stroke-width="3.0"/><path d="M449.3 134.4L440.2 135.9" stroke="#f76a6c" stroke-width="0.75"/>
<path d="M431.1 137.3L440.2 135.9" stroke="#2b4ce2" stroke-width="3.0"/><path d="M431.1 137.3L440.2 135.9" stroke="#6f8af0" stroke-width="0.75"/>
<path d="M439.9 152.7L435.5 145.0" stroke="#e3181b" stroke-width="3.0"/><path d="M439.9 152.7L435.5 145.0" stroke="#f76a6c" stroke-width="0.75"/>
<path d="M431.1 137.3L435.5 145.0" stroke="#2b4ce2" stroke-width="3.0"/><path d="M431.1 137.3L435.5 145.0" stroke="#6f8af0" stroke-width="0.75"/>
<path d="M404.8 141.0L417.2 145.3" stroke="#e3181b" stroke-width="3.0"/><path d="M404.8 141.0L417.2 145.3" stroke="#f76a6c" stroke-width="0.75"/>
<path d="M429.6 149.7L417.2 145.3" stroke="#2b4ce2" stroke-width="3.0"/><path d="M429.6 149.7L417.2 145.3" stroke="#6f8af0" stroke-width="0.75"/>
<path d="M455.9 149.0L442.8 149.3" stroke="#e3181b" stroke-width="3.0"/><path d="M455.9 149.0L442.8 149.3" stroke="#f76a6c" stroke-width="0.75"/>
<path d="M429.6 149.7L442.8 149.3" stroke="#2b4ce2" stroke-width="3.0"/><path d="M429.6 149.7L442.8 149.3" stroke="#6f8af0" stroke-width="0.75"/>
<path d="M439.9 152.7L434.8 151.2" stroke="#e3181b" stroke-width="3.0"/><path d="M439.9 152.7L434.8 151.2" stroke="#f76a6c" stroke-width="0.75"/>
<path d="M429.6 149.7L434.8 151.2" stroke="#2b4ce2" stroke-width="3.0"/><path d="M429.6 149.7L434.8 151.2" stroke="#6f8af0" stroke-width="0.75"/>
<path d="M440.6 164.3L435.1 157.0" stroke="#e3181b" stroke-width="3.0"/><path d="M440.6 164.3L435.1 157.0" stroke="#f76a6c" stroke-width="0.75"/>
<path d="M429.6 149.7L435.1 157.0" stroke="#2b4ce2" stroke-width="3.0"/><path d="M429.6 149.7L435.1 157.0" stroke="#6f8af0" stroke-width="0.75"/>
<path d="M400.4 144.6L409.5 152.3" stroke="#e3181b" stroke-width="3.0"/><path d="M400.4 144.6L409.5 152.3" stroke="#f76a6c" stroke-width="0.75"/>
<path d="M418.7 160.0L409.5 152.3" stroke="#2b4ce2" stroke-width="3.0"/><path d="M418.7 160.0L409.5 152.3" stroke="#6f8af0" stroke-width="0.75"/>
<path d="M404.8 141.0L411.8 150.5" stroke="#e3181b" stroke-width="3.0"/><path d="M404.8 141.0L411.8 150.5" stroke="#f76a6c" stroke-width="0.75"/>
<path d="M418.7 160.0L411.8 150.5" stroke="#2b4ce2" stroke-width="3.0"/><path d="M418.7 160.0L411.8 150.5" stroke="#6f8af0" stroke-width="0.75"/>
<path d="M434.7 168.0L426.7 164.0" stroke="#e3181b" stroke-width="3.0"/><path d="M434.7 168.0L426.7 164.0" stroke="#f76a6c" stroke-width="0.75"/>
<path d="M418.7 160.0L426.7 164.0" stroke="#2b4ce2" stroke-width="3.0"/><path d="M418.7 160.0L426.7 164.0" stroke="#6f8af0" stroke-width="0.75"/>
<path d="M402.6 181.9L410.6 170.9" stroke="#e3181b" stroke-width="3.0"/><path d="M402.6 181.9L410.6 170.9" stroke="#f76a6c" stroke-width="0.75"/>
<path d="M418.7 160.0L410.6 170.9" stroke="#2b4ce2" stroke-width="3.0"/><path d="M418.7 160.0L410.6 170.9" stroke="#6f8af0" stroke-width="0.75"/>
<path d="M455.9 149.0L461.0 153.0" stroke="#e3181b" stroke-width="3.0"/><path d="M455.9 149.0L461.0 153.0" stroke="#f76a6c" stroke-width="0.75"/>
<path d="M466.1 157.0L461.0 153.0" stroke="#2b4ce2" stroke-width="3.0"/><path d="M466.1 157.0L461.0 153.0" stroke="#6f8af0" stroke-width="0.75"/>
<path d="M473.4 143.2L469.8 150.1" stroke="#e3181b" stroke-width="3.0"/><path d="M473.4 143.2L469.8 150.1" stroke="#f76a6c" stroke-width="0.75"/>
<path d="M466.1 157.0L469.8 150.1" stroke="#2b4ce2" stroke-width="3.0"/><path d="M466.1 157.0L469.8 150.1" stroke="#6f8af0" stroke-width="0.75"/>
<path d="M481.6 149.7L473.9 153.3" stroke="#e3181b" stroke-width="3.0"/><path d="M481.6 149.7L473.9 153.3" stroke="#f76a6c" stroke-width="0.75"/>
<path d="M466.1 157.0L473.9 153.3" stroke="#2b4ce2" stroke-width="3.0"/><path d="M466.1 157.0L473.9 153.3" stroke="#6f8af0" stroke-width="0.75"/>
<path d="M490.3 151.9L478.2 154.4" stroke="#e3181b" stroke-width="3.0"/><path d="M490.3 151.9L478.2 154.4" stroke="#f76a6c" stroke-width="0.75"/>
<path d="M466.1 157.0L478.2 154.4" stroke="#2b4ce2" stroke-width="3.0"/><path d="M466.1 157.0L478.2 154.4" stroke="#6f8af0" stroke-width="0.75"/>
<path d="M434.7 168.0L431.4 174.6" stroke="#e3181b" stroke-width="3.0"/><path d="M434.7 168.0L431.4 174.6" stroke="#f76a6c" stroke-width="0.75"/>
<path d="M428.2 181.1L431.4 174.6" stroke="#2b4ce2" stroke-width="3.0"/><path d="M428.2 181.1L431.4 174.6" stroke="#6f8af0" stroke-width="0.75"/>
<path d="M440.6 164.3L434.4 172.7" stroke="#e3181b" stroke-width="3.0"/><path d="M440.6 164.3L434.4 172.7" stroke="#f76a6c" stroke-width="0.75"/>
<path d="M428.2 181.1L434.4 172.7" stroke="#2b4ce2" stroke-width="3.0"/><path d="M428.2 181.1L434.4 172.7" stroke="#6f8af0" stroke-width="0.75"/>
<path d="M434.7 178.2L431.4 179.6" stroke="#e3181b" stroke-width="3.0"/><path d="M434.7 178.2L431.4 179.6" stroke="#f76a6c" stroke-width="0.75"/>
<path d="M428.2 181.1L431.4 179.6" stroke="#2b4ce2" stroke-width="3.0"/><path d="M428.2 181.1L431.4 179.6" stroke="#6f8af0" stroke-width="0.75"/>
<path d="M402.6 181.9L415.4 181.5" stroke="#e3181b" stroke-width="3.0"/><path d="M402.6 181.9L415.4 181.5" stroke="#f76a6c" stroke-width="0.75"/>
<path d="M428.2 181.1L415.4 181.5" stroke="#2b4ce2" stroke-width="3.0"/><path d="M428.2 181.1L415.4 181.5" stroke="#6f8af0" stroke-width="0.75"/>
<path d="M434.7 168.0L444.2 176.4" stroke="#e3181b" stroke-width="3.0"/><path d="M434.7 168.0L444.2 176.4" stroke="#f76a6c" stroke-width="0.75"/>
<path d="M453.7 184.8L444.2 176.4" stroke="#2b4ce2" stroke-width="3.0"/><path d="M453.7 184.8L444.2 176.4" stroke="#6f8af0" stroke-width="0.75"/>
<path d="M440.6 164.3L447.1 174.6" stroke="#e3181b" stroke-width="3.0"/><path d="M440.6 164.3L447.1 174.6" stroke="#f76a6c" stroke-width="0.75"/>
<path d="M453.7 184.8L447.1 174.6" stroke="#2b4ce2" stroke-width="3.0"/><path d="M453.7 184.8L447.1 174.6" stroke="#6f8af0" stroke-width="0.75"/>
<path d="M434.7 178.2L444.2 181.5" stroke="#e3181b" stroke-width="3.0"/><path d="M434.7 178.2L444.2 181.5" stroke="#f76a6c" stroke-width="0.75"/>
<path d="M453.7 184.8L444.2 181.5" stroke="#2b4ce2" stroke-width="3.0"/><path d="M453.7 184.8L444.2 181.5" stroke="#6f8af0" stroke-width="0.75"/>
<path d="M472.0 182.6L462.9 183.7" stroke="#e3181b" stroke-width="3.0"/><path d="M472.0 182.6L462.9 183.7" stroke="#f76a6c" stroke-width="0.75"/>
<path d="M453.7 184.8L462.9 183.7" stroke="#2b4ce2" stroke-width="3.0"/><path d="M453.7 184.8L462.9 183.7" stroke="#6f8af0" stroke-width="0.75"/>
<path d="M518.1 89.7L513.0 96.3" stroke="#e3181b" stroke-width="3.0"/><path d="M518.1 89.7L513.0 96.3" stroke="#f76a6c" stroke-width="0.75"/>
<path d="M507.8 103.0L513.0 96.3" stroke="#2b4ce2" stroke-width="3.0"/><path d="M507.8 103.0L513.0 96.3" stroke="#6f8af0" stroke-width="0.75"/>
<path d="M523.2 95.5L515.5 99.2" stroke="#e3181b" stroke-width="3.0"/><path d="M523.2 95.5L515.5 99.2" stroke="#f76a6c" stroke-width="0.75"/>
<path d="M507.8 103.0L515.5 99.2" stroke="#2b4ce2" stroke-width="3.0"/><path d="M507.8 103.0L515.5 99.2" stroke="#6f8af0" stroke-width="0.75"/>
<path d="M487.4 106.7L497.6 104.8" stroke="#e3181b" stroke-width="3.0"/><path d="M487.4 106.7L497.6 104.8" stroke="#f76a6c" stroke-width="0.75"/>
<path d="M507.8 103.0L497.6 104.8" stroke="#2b4ce2" stroke-width="3.0"/><path d="M507.8 103.0L497.6 104.8" stroke="#6f8af0" stroke-width="0.75"/>
<path d="M494.7 122.0L501.2 112.5" stroke="#e3181b" stroke-width="3.0"/><path d="M494.7 122.0L501.2 112.5" stroke="#f76a6c" stroke-width="0.75"/>
<path d="M507.8 103.0L501.2 112.5" stroke="#2b4ce2" stroke-width="3.0"/><path d="M507.8 103.0L501.2 112.5" stroke="#6f8af0" stroke-width="0.75"/>
<path d="M513.7 116.9L510.8 110.0" stroke="#e3181b" stroke-width="3.0"/><path d="M513.7 116.9L510.8 110.0" stroke="#f76a6c" stroke-width="0.75"/>
<path d="M507.8 103.0L510.8 110.0" stroke="#2b4ce2" stroke-width="3.0"/><path d="M507.8 103.0L510.8 110.0" stroke="#6f8af0" stroke-width="0.75"/>
<path d="M516.6 102.3L512.2 102.7" stroke="#e3181b" stroke-width="3.0"/><path d="M516.6 102.3L512.2 102.7" stroke="#f76a6c" stroke-width="0.75"/>
<path d="M507.8 103.0L512.2 102.7" stroke="#2b4ce2" stroke-width="3.0"/><path d="M507.8 103.0L512.2 102.7" stroke="#6f8af0" stroke-width="0.75"/>
<path d="M518.1 89.7L524.7 96.0" stroke="#e3181b" stroke-width="3.0"/><path d="M518.1 89.7L524.7 96.0" stroke="#f76a6c" stroke-width="0.75"/>
<path d="M531.2 102.3L524.7 96.0" stroke="#2b4ce2" stroke-width="3.0"/><path d="M531.2 102.3L524.7 96.0" stroke="#6f8af0" stroke-width="0.75"/>
<path d="M523.2 95.5L527.2 98.9" stroke="#e3181b" stroke-width="3.0"/><path d="M523.2 95.5L527.2 98.9" stroke="#f76a6c" stroke-width="0.75"/>
<path d="M531.2 102.3L527.2 98.9" stroke="#2b4ce2" stroke-width="3.0"/><path d="M531.2 102.3L527.2 98.9" stroke="#6f8af0" stroke-width="0.75"/>
<path d="M531.9 94.8L531.5 98.5" stroke="#e3181b" stroke-width="3.0"/><path d="M531.9 94.8L531.5 98.5" stroke="#f76a6c" stroke-width="0.75"/>
<path d="M531.2 102.3L531.5 98.5" stroke="#2b4ce2" stroke-width="3.0"/><path d="M531.2 102.3L531.5 98.5" stroke="#6f8af0" stroke-width="0.75"/>
<path d="M513.7 116.9L522.5 109.6" stroke="#e3181b" stroke-width="3.0"/><path d="M513.7 116.9L522.5 109.6" stroke="#f76a6c" stroke-width="0.75"/>
<path d="M531.2 102.3L522.5 109.6" stroke="#2b4ce2" stroke-width="3.0"/><path d="M531.2 102.3L522.5 109.6" stroke="#6f8af0" stroke-width="0.75"/>
<path d="M516.6 102.3L523.9 102.3" stroke="#e3181b" stroke-width="3.0"/><path d="M516.6 102.3L523.9 102.3" stroke="#f76a6c" stroke-width="0.75"/>
<path d="M531.2 102.3L523.9 102.3" stroke="#2b4ce2" stroke-width="3.0"/><path d="M531.2 102.3L523.9 102.3" stroke="#6f8af0" stroke-width="0.75"/>
<path d="M556.0 103.8L546.9 111.1" stroke="#e3181b" stroke-width="3.0"/><path d="M556.0 103.8L546.9 111.1" stroke="#f76a6c" stroke-width="0.75"/>
<path d="M537.8 118.4L546.9 111.1" stroke="#2b4ce2" stroke-width="3.0"/><path d="M537.8 118.4L546.9 111.1" stroke="#6f8af0" stroke-width="0.75"/>
<path d="M561.1 123.5L549.5 121.0" stroke="#e3181b" stroke-width="3.0"/><path d="M561.1 123.5L549.5 121.0" stroke="#f76a6c" stroke-width="0.75"/>
<path d="M537.8 118.4L549.5 121.0" stroke="#2b4ce2" stroke-width="3.0"/><path d="M537.8 118.4L549.5 121.0" stroke="#6f8af0" stroke-width="0.75"/>
<path d="M550.2 128.6L544.0 123.5" stroke="#e3181b" stroke-width="3.0"/><path d="M550.2 128.6L544.0 123.5" stroke="#f76a6c" stroke-width="0.75"/>
<path d="M537.8 118.4L544.0 123.5" stroke="#2b4ce2" stroke-width="3.0"/><path d="M537.8 118.4L544.0 123.5" stroke="#6f8af0" stroke-width="0.75"/>
<path d="M530.5 139.5L534.1 128.9" stroke="#e3181b" stroke-width="3.0"/><path d="M530.5 139.5L534.1 128.9" stroke="#f76a6c" stroke-width="0.75"/>
<path d="M537.8 118.4L534.1 128.9" stroke="#2b4ce2" stroke-width="3.0"/><path d="M537.8 118.4L534.1 128.9" stroke="#6f8af0" stroke-width="0.75"/>
<path d="M477.8 135.9L484.8 134.4" stroke="#e3181b" stroke-width="3.0"/><path d="M477.8 135.9L484.8 134.4" stroke="#f76a6c" stroke-width="0.75"/>
<path d="M491.8 133.0L484.8 134.4" stroke="#2b4ce2" stroke-width="3.0"/><path d="M491.8 133.0L484.8 134.4" stroke="#6f8af0" stroke-width="0.75"/>
<path d="M494.7 122.0L493.2 127.5" stroke="#e3181b" stroke-width="3.0"/><path d="M494.7 122.0L493.2 127.5" stroke="#f76a6c" stroke-width="0.75"/>
<path d="M491.8 133.0L493.2 127.5" stroke="#2b4ce2" stroke-width="3.0"/><path d="M491.8 133.0L493.2 127.5" stroke="#6f8af0" stroke-width="0.75"/>
<path d="M481.6 149.7L486.7 141.3" stroke="#e3181b" stroke-width="3.0"/><path d="M481.6 149.7L486.7 141.3" stroke="#f76a6c" stroke-width="0.75"/>
<path d="M491.8 133.0L486.7 141.3" stroke="#2b4ce2" stroke-width="3.0"/><path d="M491.8 133.0L486.7 141.3" stroke="#6f8af0" stroke-width="0.75"/>
<path d="M490.3 151.9L491.1 142.4" stroke="#e3181b" stroke-width="3.0"/><path d="M490.3 151.9L491.1 142.4" stroke="#f76a6c" stroke-width="0.75"/>
<path d="M491.8 133.0L491.1 142.4" stroke="#2b4ce2" stroke-width="3.0"/><path d="M491.8 133.0L491.1 142.4" stroke="#6f8af0" stroke-width="0.75"/>
<path d="M499.1 153.4L495.5 143.2" stroke="#e3181b" stroke-width="3.0"/><path d="M499.1 153.4L495.5 143.2" stroke="#f76a6c" stroke-width="0.75"/>
<path d="M491.8 133.0L495.5 143.2" stroke="#2b4ce2" stroke-width="3.0"/><path d="M491.8 133.0L495.5 143.2" stroke="#6f8af0" stroke-width="0.75"/>
<path d="M550.2 128.6L544.0 129.7" stroke="#e3181b" stroke-width="3.0"/><path d="M550.2 128.6L544.0 129.7" stroke="#f76a6c" stroke-width="0.75"/>
<path d="M537.8 130.8L544.0 129.7" stroke="#2b4ce2" stroke-width="3.0"/><path d="M537.8 130.8L544.0 129.7" stroke="#6f8af0" stroke-width="0.75"/>
<path d="M557.5 131.5L547.6 131.2" stroke="#e3181b" stroke-width="3.0"/><path d="M557.5 131.5L547.6 131.2" stroke="#f76a6c" stroke-width="0.75"/>
<path d="M537.8 130.8L547.6 131.2" stroke="#2b4ce2" stroke-width="3.0"/><path d="M537.8 130.8L547.6 131.2" stroke="#6f8af0" stroke-width="0.75"/>
<path d="M517.3 141.7L527.5 136.2" stroke="#e3181b" stroke-width="3.0"/><path d="M517.3 141.7L527.5 136.2" stroke="#f76a6c" stroke-width="0.75"/>
<path d="M537.8 130.8L527.5 136.2" stroke="#2b4ce2" stroke-width="3.0"/><path d="M537.8 130.8L527.5 136.2" stroke="#6f8af0" stroke-width="0.75"/>
<path d="M530.5 139.5L534.1 135.2" stroke="#e3181b" stroke-width="3.0"/><path d="M530.5 139.5L534.1 135.2" stroke="#f76a6c" stroke-width="0.75"/>
<path d="M537.8 130.8L534.1 135.2" stroke="#2b4ce2" stroke-width="3.0"/><path d="M537.8 130.8L534.1 135.2" stroke="#6f8af0" stroke-width="0.75"/>
<path d="M561.1 123.5L558.5 132.9" stroke="#e3181b" stroke-width="3.0"/><path d="M561.1 123.5L558.5 132.9" stroke="#f76a6c" stroke-width="0.75"/>
<path d="M556.0 142.4L558.5 132.9" stroke="#2b4ce2" stroke-width="3.0"/><path d="M556.0 142.4L558.5 132.9" stroke="#6f8af0" stroke-width="0.75"/>
<path d="M550.2 128.6L553.1 135.5" stroke="#e3181b" stroke-width="3.0"/><path d="M550.2 128.6L553.1 135.5" stroke="#f76a6c" stroke-width="0.75"/>
<path d="M556.0 142.4L553.1 135.5" stroke="#2b4ce2" stroke-width="3.0"/><path d="M556.0 142.4L553.1 135.5" stroke="#6f8af0" stroke-width="0.75"/>
<path d="M557.5 131.5L556.8 136.9" stroke="#e3181b" stroke-width="3.0"/><path d="M557.5 131.5L556.8 136.9" stroke="#f76a6c" stroke-width="0.75"/>
<path d="M556.0 142.4L556.8 136.9" stroke="#2b4ce2" stroke-width="3.0"/><path d="M556.0 142.4L556.8 136.9" stroke="#6f8af0" stroke-width="0.75"/>
<path d="M559.7 161.4L557.9 151.9" stroke="#e3181b" stroke-width="3.0"/><path d="M559.7 161.4L557.9 151.9" stroke="#f76a6c" stroke-width="0.75"/>
<path d="M556.0 142.4L557.9 151.9" stroke="#2b4ce2" stroke-width="3.0"/><path d="M556.0 142.4L557.9 151.9" stroke="#6f8af0" stroke-width="0.75"/>
<path d="M581.0 130.0L568.5 136.2" stroke="#e3181b" stroke-width="3.0"/><path d="M581.0 130.0L568.5 136.2" stroke="#f76a6c" stroke-width="0.75"/>
<path d="M556.0 142.4L568.5 136.2" stroke="#2b4ce2" stroke-width="3.0"/><path d="M556.0 142.4L568.5 136.2" stroke="#6f8af0" stroke-width="0.75"/>
<path d="M517.3 141.7L527.9 146.4" stroke="#e3181b" stroke-width="3.0"/><path d="M517.3 141.7L527.9 146.4" stroke="#f76a6c" stroke-width="0.75"/>
<path d="M538.5 151.2L527.9 146.4" stroke="#2b4ce2" stroke-width="3.0"/><path d="M538.5 151.2L527.9 146.4" stroke="#6f8af0" stroke-width="0.75"/>
<path d="M530.5 139.5L534.5 145.3" stroke="#e3181b" stroke-width="3.0"/><path d="M530.5 139.5L534.5 145.3" stroke="#f76a6c" stroke-width="0.75"/>
<path d="M538.5 151.2L534.5 145.3" stroke="#2b4ce2" stroke-width="3.0"/><path d="M538.5 151.2L534.5 145.3" stroke="#6f8af0" stroke-width="0.75"/>
<path d="M531.2 170.2L534.9 160.7" stroke="#e3181b" stroke-width="3.0"/><path d="M531.2 170.2L534.9 160.7" stroke="#f76a6c" stroke-width="0.75"/>
<path d="M538.5 151.2L534.9 160.7" stroke="#2b4ce2" stroke-width="3.0"/><path d="M538.5 151.2L534.9 160.7" stroke="#6f8af0" stroke-width="0.75"/>
<path d="M559.7 161.4L549.1 156.3" stroke="#e3181b" stroke-width="3.0"/><path d="M559.7 161.4L549.1 156.3" stroke="#f76a6c" stroke-width="0.75"/>
<path d="M538.5 151.2L549.1 156.3" stroke="#2b4ce2" stroke-width="3.0"/><path d="M538.5 151.2L549.1 156.3" stroke="#6f8af0" stroke-width="0.75"/>
<path d="M499.1 153.4L506.4 157.4" stroke="#e3181b" stroke-width="3.0"/><path d="M499.1 153.4L506.4 157.4" stroke="#f76a6c" stroke-width="0.75"/>
<path d="M513.7 161.4L506.4 157.4" stroke="#2b4ce2" stroke-width="3.0"/><path d="M513.7 161.4L506.4 157.4" stroke="#6f8af0" stroke-width="0.75"/>
<path d="M517.3 141.7L515.5 151.6" stroke="#e3181b" stroke-width="3.0"/><path d="M517.3 141.7L515.5 151.6" stroke="#f76a6c" stroke-width="0.75"/>
<path d="M513.7 161.4L515.5 151.6" stroke="#2b4ce2" stroke-width="3.0"/><path d="M513.7 161.4L515.5 151.6" stroke="#6f8af0" stroke-width="0.75"/>
<path d="M512.2 165.1L513.0 163.2" stroke="#e3181b" stroke-width="3.0"/><path d="M512.2 165.1L513.0 163.2" stroke="#f76a6c" stroke-width="0.75"/>
<path d="M513.7 161.4L513.0 163.2" stroke="#2b4ce2" stroke-width="3.0"/><path d="M513.7 161.4L513.0 163.2" stroke="#6f8af0" stroke-width="0.75"/>
<path d="M510.8 178.2L512.2 169.8" stroke="#e3181b" stroke-width="3.0"/><path d="M510.8 178.2L512.2 169.8" stroke="#f76a6c" stroke-width="0.75"/>
<path d="M513.7 161.4L512.2 169.8" stroke="#2b4ce2" stroke-width="3.0"/><path d="M513.7 161.4L512.2 169.8" stroke="#6f8af0" stroke-width="0.75"/>
<path d="M530.5 139.5L531.6 152.7" stroke="#e3181b" stroke-width="3.0"/><path d="M530.5 139.5L531.6 152.7" stroke="#f76a6c" stroke-width="0.75"/>
<path d="M532.7 165.8L531.6 152.7" stroke="#2b4ce2" stroke-width="3.0"/><path d="M532.7 165.8L531.6 152.7" stroke="#6f8af0" stroke-width="0.75"/>
<path d="M512.2 165.1L522.5 165.4" stroke="#e3181b" stroke-width="3.0"/><path d="M512.2 165.1L522.5 165.4" stroke="#f76a6c" stroke-width="0.75"/>
<path d="M532.7 165.8L522.5 165.4" stroke="#2b4ce2" stroke-width="3.0"/><path d="M532.7 165.8L522.5 165.4" stroke="#6f8af0" stroke-width="0.75"/>
<path d="M531.2 170.2L532.0 168.0" stroke="#e3181b" stroke-width="3.0"/><path d="M531.2 170.2L532.0 168.0" stroke="#f76a6c" stroke-width="0.75"/>
<path d="M532.7 165.8L532.0 168.0" stroke="#2b4ce2" stroke-width="3.0"/><path d="M532.7 165.8L532.0 168.0" stroke="#6f8af0" stroke-width="0.75"/>
<path d="M510.8 178.2L521.8 172.0" stroke="#e3181b" stroke-width="3.0"/><path d="M510.8 178.2L521.8 172.0" stroke="#f76a6c" stroke-width="0.75"/>
<path d="M532.7 165.8L521.8 172.0" stroke="#2b4ce2" stroke-width="3.0"/><path d="M532.7 165.8L521.8 172.0" stroke="#6f8af0" stroke-width="0.75"/>
<path d="M472.0 182.6L483.4 181.8" stroke="#e3181b" stroke-width="3.0"/><path d="M472.0 182.6L483.4 181.8" stroke="#f76a6c" stroke-width="0.75"/>
<path d="M494.7 181.1L483.4 181.8" stroke="#2b4ce2" stroke-width="3.0"/><path d="M494.7 181.1L483.4 181.8" stroke="#6f8af0" stroke-width="0.75"/>
<path d="M499.1 153.4L496.9 167.2" stroke="#e3181b" stroke-width="3.0"/><path d="M499.1 153.4L496.9 167.2" stroke="#f76a6c" stroke-width="0.75"/>
<path d="M494.7 181.1L496.9 167.2" stroke="#2b4ce2" stroke-width="3.0"/><path d="M494.7 181.1L496.9 167.2" stroke="#6f8af0" stroke-width="0.75"/>
<path d="M512.2 165.1L503.5 173.1" stroke="#e3181b" stroke-width="3.0"/><path d="M512.2 165.1L503.5 173.1" stroke="#f76a6c" stroke-width="0.75"/>
<path d="M494.7 181.1L503.5 173.1" stroke="#2b4ce2" stroke-width="3.0"/><path d="M494.7 181.1L503.5 173.1" stroke="#6f8af0" stroke-width="0.75"/>
<path d="M510.8 178.2L502.8 179.6" stroke="#e3181b" stroke-width="3.0"/><path d="M510.8 178.2L502.8 179.6" stroke="#f76a6c" stroke-width="0.75"/>
<path d="M494.7 181.1L502.8 179.6" stroke="#2b4ce2" stroke-width="3.0"/><path d="M494.7 181.1L502.8 179.6" stroke="#6f8af0" stroke-width="0.75"/>
<path d="M499.1 153.4L502.0 168.0" stroke="#e3181b" stroke-width="3.0"/><path d="M499.1 153.4L502.0 168.0" stroke="#f76a6c" stroke-width="0.75"/>
<path d="M504.9 182.6L502.0 168.0" stroke="#2b4ce2" stroke-width="3.0"/><path d="M504.9 182.6L502.0 168.0" stroke="#6f8af0" stroke-width="0.75"/>
<path d="M512.2 165.1L508.6 173.8" stroke="#e3181b" stroke-width="3.0"/><path d="M512.2 165.1L508.6 173.8" stroke="#f76a6c" stroke-width="0.75"/>
<path d="M504.9 182.6L508.6 173.8" stroke="#2b4ce2" stroke-width="3.0"/><path d="M504.9 182.6L508.6 173.8" stroke="#6f8af0" stroke-width="0.75"/>
<path d="M531.2 170.2L518.0 176.4" stroke="#e3181b" stroke-width="3.0"/><path d="M531.2 170.2L518.0 176.4" stroke="#f76a6c" stroke-width="0.75"/>
<path d="M504.9 182.6L518.0 176.4" stroke="#2b4ce2" stroke-width="3.0"/><path d="M504.9 182.6L518.0 176.4" stroke="#6f8af0" stroke-width="0.75"/>
<path d="M510.8 178.2L507.9 180.4" stroke="#e3181b" stroke-width="3.0"/><path d="M510.8 178.2L507.9 180.4" stroke="#f76a6c" stroke-width="0.75"/>
<path d="M504.9 182.6L507.9 180.4" stroke="#2b4ce2" stroke-width="3.0"/><path d="M504.9 182.6L507.9 180.4" stroke="#6f8af0" stroke-width="0.75"/>
<path d="M531.2 170.2L539.6 173.8" stroke="#e3181b" stroke-width="3.0"/><path d="M531.2 170.2L539.6 173.8" stroke="#f76a6c" stroke-width="0.75"/>
<path d="M548.0 177.5L539.6 173.8" stroke="#2b4ce2" stroke-width="3.0"/><path d="M548.0 177.5L539.6 173.8" stroke="#6f8af0" stroke-width="0.75"/>
<path d="M559.7 161.4L553.9 169.4" stroke="#e3181b" stroke-width="3.0"/><path d="M559.7 161.4L553.9 169.4" stroke="#f76a6c" stroke-width="0.75"/>
<path d="M548.0 177.5L553.9 169.4" stroke="#2b4ce2" stroke-width="3.0"/><path d="M548.0 177.5L553.9 169.4" stroke="#6f8af0" stroke-width="0.75"/>
<path d="M556.8 176.8L552.4 177.2" stroke="#e3181b" stroke-width="3.0"/><path d="M556.8 176.8L552.4 177.2" stroke="#f76a6c" stroke-width="0.75"/>
<path d="M548.0 177.5L552.4 177.2" stroke="#2b4ce2" stroke-width="3.0"/><path d="M548.0 177.5L552.4 177.2" stroke="#6f8af0" stroke-width="0.75"/>
<path d="M564.0 168.0L556.0 172.8" stroke="#e3181b" stroke-width="3.0"/><path d="M564.0 168.0L556.0 172.8" stroke="#f76a6c" stroke-width="0.75"/>
<path d="M548.0 177.5L556.0 172.8" stroke="#2b4ce2" stroke-width="3.0"/><path d="M548.0 177.5L556.0 172.8" stroke="#6f8af0" stroke-width="0.75"/>
<path d="M606.5 108.9L609.0 121.3" stroke="#e3181b" stroke-width="3.0"/><path d="M606.5 108.9L609.0 121.3" stroke="#f76a6c" stroke-width="0.75"/>
<path d="M611.6 133.7L609.0 121.3" stroke="#2b4ce2" stroke-width="3.0"/><path d="M611.6 133.7L609.0 121.3" stroke="#6f8af0" stroke-width="0.75"/>
<path d="M631.3 139.5L621.5 136.6" stroke="#e3181b" stroke-width="3.0"/><path d="M631.3 139.5L621.5 136.6" stroke="#f76a6c" stroke-width="0.75"/>
<path d="M611.6 133.7L621.5 136.6" stroke="#2b4ce2" stroke-width="3.0"/><path d="M611.6 133.7L621.5 136.6" stroke="#6f8af0" stroke-width="0.75"/>
<path d="M621.1 155.6L616.4 144.6" stroke="#e3181b" stroke-width="3.0"/><path d="M621.1 155.6L616.4 144.6" stroke="#f76a6c" stroke-width="0.75"/>
<path d="M611.6 133.7L616.4 144.6" stroke="#2b4ce2" stroke-width="3.0"/><path d="M611.6 133.7L616.4 144.6" stroke="#6f8af0" stroke-width="0.75"/>
<path d="M613.8 157.8L612.7 145.8" stroke="#e3181b" stroke-width="3.0"/><path d="M613.8 157.8L612.7 145.8" stroke="#f76a6c" stroke-width="0.75"/>
<path d="M611.6 133.7L612.7 145.8" stroke="#2b4ce2" stroke-width="3.0"/><path d="M611.6 133.7L612.7 145.8" stroke="#6f8af0" stroke-width="0.75"/>
<path d="M645.2 106.0L650.0 117.7" stroke="#e3181b" stroke-width="3.0"/><path d="M645.2 106.0L650.0 117.7" stroke="#f76a6c" stroke-width="0.75"/>
<path d="M654.7 129.3L650.0 117.7" stroke="#2b4ce2" stroke-width="3.0"/><path d="M654.7 129.3L650.0 117.7" stroke="#6f8af0" stroke-width="0.75"/>
<path d="M637.2 124.9L646.0 127.1" stroke="#e3181b" stroke-width="3.0"/><path d="M637.2 124.9L646.0 127.1" stroke="#f76a6c" stroke-width="0.75"/>
<path d="M654.7 129.3L646.0 127.1" stroke="#2b4ce2" stroke-width="3.0"/><path d="M654.7 129.3L646.0 127.1" stroke="#6f8af0" stroke-width="0.75"/>
<path d="M645.9 131.5L650.3 130.4" stroke="#e3181b" stroke-width="3.0"/><path d="M645.9 131.5L650.3 130.4" stroke="#f76a6c" stroke-width="0.75"/>
<path d="M654.7 129.3L650.3 130.4" stroke="#2b4ce2" stroke-width="3.0"/><path d="M654.7 129.3L650.3 130.4" stroke="#6f8af0" stroke-width="0.75"/>
<path d="M637.2 144.6L646.0 136.9" stroke="#e3181b" stroke-width="3.0"/><path d="M637.2 144.6L646.0 136.9" stroke="#f76a6c" stroke-width="0.75"/>
<path d="M654.7 129.3L646.0 136.9" stroke="#2b4ce2" stroke-width="3.0"/><path d="M654.7 129.3L646.0 136.9" stroke="#6f8af0" stroke-width="0.75"/>
<path d="M581.0 130.0L592.3 138.8" stroke="#e3181b" stroke-width="3.0"/><path d="M581.0 130.0L592.3 138.8" stroke="#f76a6c" stroke-width="0.75"/>
<path d="M603.6 147.6L592.3 138.8" stroke="#2b4ce2" stroke-width="3.0"/><path d="M603.6 147.6L592.3 138.8" stroke="#6f8af0" stroke-width="0.75"/>
<path d="M590.4 151.9L597.0 149.8" stroke="#e3181b" stroke-width="3.0"/><path d="M590.4 151.9L597.0 149.8" stroke="#f76a6c" stroke-width="0.75"/>
<path d="M603.6 147.6L597.0 149.8" stroke="#2b4ce2" stroke-width="3.0"/><path d="M603.6 147.6L597.0 149.8" stroke="#6f8af0" stroke-width="0.75"/>
<path d="M613.8 157.8L608.7 152.7" stroke="#e3181b" stroke-width="3.0"/><path d="M613.8 157.8L608.7 152.7" stroke="#f76a6c" stroke-width="0.75"/>
<path d="M603.6 147.6L608.7 152.7" stroke="#2b4ce2" stroke-width="3.0"/><path d="M603.6 147.6L608.7 152.7" stroke="#6f8af0" stroke-width="0.75"/>
<path d="M605.0 165.1L604.3 156.3" stroke="#e3181b" stroke-width="3.0"/><path d="M605.0 165.1L604.3 156.3" stroke="#f76a6c" stroke-width="0.75"/>
<path d="M603.6 147.6L604.3 156.3" stroke="#2b4ce2" stroke-width="3.0"/><path d="M603.6 147.6L604.3 156.3" stroke="#6f8af0" stroke-width="0.75"/>
<path d="M637.2 124.9L637.5 138.1" stroke="#e3181b" stroke-width="3.0"/><path d="M637.2 124.9L637.5 138.1" stroke="#f76a6c" stroke-width="0.75"/>
<path d="M637.9 151.2L637.5 138.1" stroke="#2b4ce2" stroke-width="3.0"/><path d="M637.9 151.2L637.5 138.1" stroke="#6f8af0" stroke-width="0.75"/>
<path d="M645.9 131.5L641.9 141.3" stroke="#e3181b" stroke-width="3.0"/><path d="M645.9 131.5L641.9 141.3" stroke="#f76a6c" stroke-width="0.75"/>
<path d="M637.9 151.2L641.9 141.3" stroke="#2b4ce2" stroke-width="3.0"/><path d="M637.9 151.2L641.9 141.3" stroke="#6f8af0" stroke-width="0.75"/>
<path d="M631.3 139.5L634.6 145.3" stroke="#e3181b" stroke-width="3.0"/><path d="M631.3 139.5L634.6 145.3" stroke="#f76a6c" stroke-width="0.75"/>
<path d="M637.9 151.2L634.6 145.3" stroke="#2b4ce2" stroke-width="3.0"/><path d="M637.9 151.2L634.6 145.3" stroke="#6f8af0" stroke-width="0.75"/>
<path d="M637.2 144.6L637.5 147.9" stroke="#e3181b" stroke-width="3.0"/><path d="M637.2 144.6L637.5 147.9" stroke="#f76a6c" stroke-width="0.75"/>
<path d="M637.9 151.2L637.5 147.9" stroke="#2b4ce2" stroke-width="3.0"/><path d="M637.9 151.2L637.5 147.9" stroke="#6f8af0" stroke-width="0.75"/>
<path d="M621.1 155.6L629.5 153.4" stroke="#e3181b" stroke-width="3.0"/><path d="M621.1 155.6L629.5 153.4" stroke="#f76a6c" stroke-width="0.75"/>
<path d="M637.9 151.2L629.5 153.4" stroke="#2b4ce2" stroke-width="3.0"/><path d="M637.9 151.2L629.5 153.4" stroke="#6f8af0" stroke-width="0.75"/>
<path d="M646.6 153.4L642.2 152.3" stroke="#e3181b" stroke-width="3.0"/><path d="M646.6 153.4L642.2 152.3" stroke="#f76a6c" stroke-width="0.75"/>
<path d="M637.9 151.2L642.2 152.3" stroke="#2b4ce2" stroke-width="3.0"/><path d="M637.9 151.2L642.2 152.3" stroke="#6f8af0" stroke-width="0.75"/>
<path d="M653.9 159.2L645.9 155.2" stroke="#e3181b" stroke-width="3.0"/><path d="M653.9 159.2L645.9 155.2" stroke="#f76a6c" stroke-width="0.75"/>
<path d="M637.9 151.2L645.9 155.2" stroke="#2b4ce2" stroke-width="3.0"/><path d="M637.9 151.2L645.9 155.2" stroke="#6f8af0" stroke-width="0.75"/>
<path d="M637.2 144.6L633.9 153.0" stroke="#e3181b" stroke-width="3.0"/><path d="M637.2 144.6L633.9 153.0" stroke="#f76a6c" stroke-width="0.75"/>
<path d="M630.6 161.4L633.9 153.0" stroke="#2b4ce2" stroke-width="3.0"/><path d="M630.6 161.4L633.9 153.0" stroke="#6f8af0" stroke-width="0.75"/>
<path d="M621.1 155.6L625.9 158.5" stroke="#e3181b" stroke-width="3.0"/><path d="M621.1 155.6L625.9 158.5" stroke="#f76a6c" stroke-width="0.75"/>
<path d="M630.6 161.4L625.9 158.5" stroke="#2b4ce2" stroke-width="3.0"/><path d="M630.6 161.4L625.9 158.5" stroke="#6f8af0" stroke-width="0.75"/>
<path d="M613.8 157.8L622.2 159.6" stroke="#e3181b" stroke-width="3.0"/><path d="M613.8 157.8L622.2 159.6" stroke="#f76a6c" stroke-width="0.75"/>
<path d="M630.6 161.4L622.2 159.6" stroke="#2b4ce2" stroke-width="3.0"/><path d="M630.6 161.4L622.2 159.6" stroke="#6f8af0" stroke-width="0.75"/>
<path d="M639.3 183.3L635.0 172.4" stroke="#e3181b" stroke-width="3.0"/><path d="M639.3 183.3L635.0 172.4" stroke="#f76a6c" stroke-width="0.75"/>
<path d="M630.6 161.4L635.0 172.4" stroke="#2b4ce2" stroke-width="3.0"/><path d="M630.6 161.4L635.0 172.4" stroke="#6f8af0" stroke-width="0.75"/>
<path d="M649.6 181.1L640.1 171.2" stroke="#e3181b" stroke-width="3.0"/><path d="M649.6 181.1L640.1 171.2" stroke="#f76a6c" stroke-width="0.75"/>
<path d="M630.6 161.4L640.1 171.2" stroke="#2b4ce2" stroke-width="3.0"/><path d="M630.6 161.4L640.1 171.2" stroke="#6f8af0" stroke-width="0.75"/>
<path d="M646.6 153.4L646.2 161.8" stroke="#e3181b" stroke-width="3.0"/><path d="M646.6 153.4L646.2 161.8" stroke="#f76a6c" stroke-width="0.75"/>
<path d="M645.9 170.2L646.2 161.8" stroke="#2b4ce2" stroke-width="3.0"/><path d="M645.9 170.2L646.2 161.8" stroke="#6f8af0" stroke-width="0.75"/>
<path d="M653.9 159.2L649.9 164.7" stroke="#e3181b" stroke-width="3.0"/><path d="M653.9 159.2L649.9 164.7" stroke="#f76a6c" stroke-width="0.75"/>
<path d="M645.9 170.2L649.9 164.7" stroke="#2b4ce2" stroke-width="3.0"/><path d="M645.9 170.2L649.9 164.7" stroke="#6f8af0" stroke-width="0.75"/>
<path d="M639.3 183.3L642.6 176.8" stroke="#e3181b" stroke-width="3.0"/><path d="M639.3 183.3L642.6 176.8" stroke="#f76a6c" stroke-width="0.75"/>
<path d="M645.9 170.2L642.6 176.8" stroke="#2b4ce2" stroke-width="3.0"/><path d="M645.9 170.2L642.6 176.8" stroke="#6f8af0" stroke-width="0.75"/>
<path d="M649.6 181.1L647.8 175.6" stroke="#e3181b" stroke-width="3.0"/><path d="M649.6 181.1L647.8 175.6" stroke="#f76a6c" stroke-width="0.75"/>
<path d="M645.9 170.2L647.8 175.6" stroke="#2b4ce2" stroke-width="3.0"/><path d="M645.9 170.2L647.8 175.6" stroke="#6f8af0" stroke-width="0.75"/>
<path d="M556.8 176.8L570.0 177.2" stroke="#e3181b" stroke-width="3.0"/><path d="M556.8 176.8L570.0 177.2" stroke="#f76a6c" stroke-width="0.75"/>
<path d="M583.1 177.5L570.0 177.2" stroke="#2b4ce2" stroke-width="3.0"/><path d="M583.1 177.5L570.0 177.2" stroke="#6f8af0" stroke-width="0.75"/>
<path d="M564.0 168.0L573.5 172.8" stroke="#e3181b" stroke-width="3.0"/><path d="M564.0 168.0L573.5 172.8" stroke="#f76a6c" stroke-width="0.75"/>
<path d="M583.1 177.5L573.5 172.8" stroke="#2b4ce2" stroke-width="3.0"/><path d="M583.1 177.5L573.5 172.8" stroke="#6f8af0" stroke-width="0.75"/>
<path d="M575.1 167.3L579.1 172.4" stroke="#e3181b" stroke-width="3.0"/><path d="M575.1 167.3L579.1 172.4" stroke="#f76a6c" stroke-width="0.75"/>
<path d="M583.1 177.5L579.1 172.4" stroke="#2b4ce2" stroke-width="3.0"/><path d="M583.1 177.5L579.1 172.4" stroke="#6f8af0" stroke-width="0.75"/>
<path d="M602.1 182.6L592.6 180.1" stroke="#e3181b" stroke-width="3.0"/><path d="M602.1 182.6L592.6 180.1" stroke="#f76a6c" stroke-width="0.75"/>
<path d="M583.1 177.5L592.6 180.1" stroke="#2b4ce2" stroke-width="3.0"/><path d="M583.1 177.5L592.6 180.1" stroke="#6f8af0" stroke-width="0.75"/>
<path d="M589.0 184.0L586.0 180.8" stroke="#e3181b" stroke-width="3.0"/><path d="M589.0 184.0L586.0 180.8" stroke="#f76a6c" stroke-width="0.75"/>
<path d="M583.1 177.5L586.0 180.8" stroke="#2b4ce2" stroke-width="3.0"/><path d="M583.1 177.5L586.0 180.8" stroke="#6f8af0" stroke-width="0.75"/>
<path d="M590.4 151.9L595.9 162.9" stroke="#e3181b" stroke-width="3.0"/><path d="M590.4 151.9L595.9 162.9" stroke="#f76a6c" stroke-width="0.75"/>
<path d="M601.4 173.8L595.9 162.9" stroke="#2b4ce2" stroke-width="3.0"/><path d="M601.4 173.8L595.9 162.9" stroke="#6f8af0" stroke-width="0.75"/>
<path d="M605.0 165.1L603.2 169.4" stroke="#e3181b" stroke-width="3.0"/><path d="M605.0 165.1L603.2 169.4" stroke="#f76a6c" stroke-width="0.75"/>
<path d="M601.4 173.8L603.2 169.4" stroke="#2b4ce2" stroke-width="3.0"/><path d="M601.4 173.8L603.2 169.4" stroke="#6f8af0" stroke-width="0.75"/>
<path d="M575.1 167.3L588.2 170.6" stroke="#e3181b" stroke-width="3.0"/><path d="M575.1 167.3L588.2 170.6" stroke="#f76a6c" stroke-width="0.75"/>
<path d="M601.4 173.8L588.2 170.6" stroke="#2b4ce2" stroke-width="3.0"/><path d="M601.4 173.8L588.2 170.6" stroke="#6f8af0" stroke-width="0.75"/>
<path d="M602.1 182.6L601.8 178.2" stroke="#e3181b" stroke-width="3.0"/><path d="M602.1 182.6L601.8 178.2" stroke="#f76a6c" stroke-width="0.75"/>
<path d="M601.4 173.8L601.8 178.2" stroke="#2b4ce2" stroke-width="3.0"/><path d="M601.4 173.8L601.8 178.2" stroke="#6f8af0" stroke-width="0.75"/>
<path d="M589.0 184.0L595.2 178.9" stroke="#e3181b" stroke-width="3.0"/><path d="M589.0 184.0L595.2 178.9" stroke="#f76a6c" stroke-width="0.75"/>
<path d="M601.4 173.8L595.2 178.9" stroke="#2b4ce2" stroke-width="3.0"/><path d="M601.4 173.8L595.2 178.9" stroke="#6f8af0" stroke-width="0.75"/>
<path d="M401.9 10.1L388.8 6.1" stroke="#e3181b" stroke-width="3.0"/><path d="M401.9 10.1L388.8 6.1" stroke="#f76a6c" stroke-width="0.75"/>
<path d="M375.7 2.2L388.8 6.1" stroke="#2b4ce2" stroke-width="3.0"/><path d="M375.7 2.2L388.8 6.1" stroke="#6f8af0" stroke-width="0.75"/>
<path d="M402.6 39.3L389.1 43.8" stroke="#e3181b" stroke-width="3.0"/><path d="M402.6 39.3L389.1 43.8" stroke="#f76a6c" stroke-width="0.75"/>
<path d="M375.7 48.3L389.1 43.8" stroke="#2b4ce2" stroke-width="3.0"/><path d="M375.7 48.3L389.1 43.8" stroke="#6f8af0" stroke-width="0.75"/>
<path d="M404.8 48.8L390.2 48.5" stroke="#e3181b" stroke-width="3.0"/><path d="M404.8 48.8L390.2 48.5" stroke="#f76a6c" stroke-width="0.75"/>
<path d="M375.7 48.3L390.2 48.5" stroke="#2b4ce2" stroke-width="3.0"/><path d="M375.7 48.3L390.2 48.5" stroke="#6f8af0" stroke-width="0.75"/>
<path d="M401.9 95.5L388.8 95.0" stroke="#e3181b" stroke-width="3.0"/><path d="M401.9 95.5L388.8 95.0" stroke="#f76a6c" stroke-width="0.75"/>
<path d="M375.7 94.4L388.8 95.0" stroke="#2b4ce2" stroke-width="3.0"/><path d="M375.7 94.4L388.8 95.0" stroke="#6f8af0" stroke-width="0.75"/>
<path d="M402.6 131.5L389.1 136.0" stroke="#e3181b" stroke-width="3.0"/><path d="M402.6 131.5L389.1 136.0" stroke="#f76a6c" stroke-width="0.75"/>
<path d="M375.7 140.5L389.1 136.0" stroke="#2b4ce2" stroke-width="3.0"/><path d="M375.7 140.5L389.1 136.0" stroke="#6f8af0" stroke-width="0.75"/>
<path d="M400.4 144.6L388.0 142.6" stroke="#e3181b" stroke-width="3.0"/><path d="M400.4 144.6L388.0 142.6" stroke="#f76a6c" stroke-width="0.75"/>
<path d="M375.7 140.5L388.0 142.6" stroke="#2b4ce2" stroke-width="3.0"/><path d="M375.7 140.5L388.0 142.6" stroke="#6f8af0" stroke-width="0.75"/>
<path d="M404.8 141.0L390.2 140.8" stroke="#e3181b" stroke-width="3.0"/><path d="M404.8 141.0L390.2 140.8" stroke="#f76a6c" stroke-width="0.75"/>
<path d="M375.7 140.5L390.2 140.8" stroke="#2b4ce2" stroke-width="3.0"/><path d="M375.7 140.5L390.2 140.8" stroke="#6f8af0" stroke-width="0.75"/>
<path d="M402.6 181.9L389.1 184.2" stroke="#e3181b" stroke-width="3.0"/><path d="M402.6 181.9L389.1 184.2" stroke="#f76a6c" stroke-width="0.75"/>
<path d="M375.7 186.6L389.1 184.2" stroke="#2b4ce2" stroke-width="3.0"/><path d="M375.7 186.6L389.1 184.2" stroke="#6f8af0" stroke-width="0.75"/>
<circle cx="27.8" cy="2.2" r="7.90" fill="url(#gSi)"/>
<circle cx="60.4" cy="2.2" r="5.10" fill="url(#gC)"/>
<circle cx="27.8" cy="48.3" r="7.90" fill="url(#gSi)"/>
<circle cx="60.4" cy="48.3" r="5.10" fill="url(#gC)"/>
<circle cx="27.8" cy="94.4" r="7.90" fill="url(#gSi)"/>
<circle cx="60.4" cy="94.4" r="5.10" fill="url(#gC)"/>
<circle cx="27.8" cy="140.5" r="7.90" fill="url(#gSi)"/>
<circle cx="60.4" cy="140.5" r="5.10" fill="url(#gC)"/>
<circle cx="27.8" cy="186.6" r="7.90" fill="url(#gSi)"/>
<circle cx="60.4" cy="186.6" r="5.10" fill="url(#gC)"/>
<circle cx="71.1" cy="-28.4" r="7.90" fill="url(#gSi)"/>
<circle cx="103.7" cy="-28.4" r="5.10" fill="url(#gC)"/>
<circle cx="71.1" cy="17.7" r="7.90" fill="url(#gSi)"/>
<circle cx="103.7" cy="17.7" r="5.10" fill="url(#gC)"/>
<circle cx="71.1" cy="63.8" r="7.90" fill="url(#gSi)"/>
<circle cx="103.7" cy="63.8" r="5.10" fill="url(#gC)"/>
<circle cx="71.1" cy="109.9" r="7.90" fill="url(#gSi)"/>
<circle cx="103.7" cy="109.9" r="5.10" fill="url(#gC)"/>
<circle cx="71.1" cy="156.0" r="7.90" fill="url(#gSi)"/>
<circle cx="103.7" cy="156.0" r="5.10" fill="url(#gC)"/>
<circle cx="71.1" cy="202.1" r="7.90" fill="url(#gSi)"/>
<circle cx="103.7" cy="202.1" r="5.10" fill="url(#gC)"/>
<circle cx="114.4" cy="2.2" r="7.90" fill="url(#gSi)"/>
<circle cx="147.0" cy="2.2" r="5.10" fill="url(#gC)"/>
<circle cx="114.4" cy="48.3" r="7.90" fill="url(#gSi)"/>
<circle cx="147.0" cy="48.3" r="5.10" fill="url(#gC)"/>
<circle cx="114.4" cy="94.4" r="7.90" fill="url(#gSi)"/>
<circle cx="147.0" cy="94.4" r="5.10" fill="url(#gC)"/>
<circle cx="114.4" cy="140.5" r="7.90" fill="url(#gSi)"/>
<circle cx="147.0" cy="140.5" r="5.10" fill="url(#gC)"/>
<circle cx="114.4" cy="186.6" r="7.90" fill="url(#gSi)"/>
<circle cx="147.0" cy="186.6" r="5.10" fill="url(#gC)"/>
<circle cx="157.7" cy="-13.0" r="7.90" fill="url(#gSi)"/>
<circle cx="190.3" cy="-13.0" r="5.10" fill="url(#gC)"/>
<circle cx="157.7" cy="33.1" r="7.90" fill="url(#gSi)"/>
<circle cx="190.3" cy="33.1" r="5.10" fill="url(#gC)"/>
<circle cx="157.7" cy="79.2" r="7.90" fill="url(#gSi)"/>
<circle cx="190.3" cy="79.2" r="5.10" fill="url(#gC)"/>
<circle cx="157.7" cy="125.3" r="7.90" fill="url(#gSi)"/>
<circle cx="190.3" cy="125.3" r="5.10" fill="url(#gC)"/>
<circle cx="157.7" cy="171.4" r="7.90" fill="url(#gSi)"/>
<circle cx="190.3" cy="171.4" r="5.10" fill="url(#gC)"/>
<circle cx="201.0" cy="2.2" r="7.90" fill="url(#gSi)"/>
<circle cx="233.6" cy="2.2" r="5.10" fill="url(#gC)"/>
<circle cx="201.0" cy="48.3" r="7.90" fill="url(#gSi)"/>
<circle cx="233.6" cy="48.3" r="5.10" fill="url(#gC)"/>
<circle cx="201.0" cy="94.4" r="7.90" fill="url(#gSi)"/>
<circle cx="233.6" cy="94.4" r="5.10" fill="url(#gC)"/>
<circle cx="201.0" cy="140.5" r="7.90" fill="url(#gSi)"/>
<circle cx="233.6" cy="140.5" r="5.10" fill="url(#gC)"/>
<circle cx="201.0" cy="186.6" r="7.90" fill="url(#gSi)"/>
<circle cx="233.6" cy="186.6" r="5.10" fill="url(#gC)"/>
<circle cx="244.3" cy="-28.4" r="7.90" fill="url(#gSi)"/>
<circle cx="276.9" cy="-28.4" r="5.10" fill="url(#gC)"/>
<circle cx="244.3" cy="17.7" r="7.90" fill="url(#gSi)"/>
<circle cx="276.9" cy="17.7" r="5.10" fill="url(#gC)"/>
<circle cx="244.3" cy="63.8" r="7.90" fill="url(#gSi)"/>
<circle cx="276.9" cy="63.8" r="5.10" fill="url(#gC)"/>
<circle cx="244.3" cy="109.9" r="7.90" fill="url(#gSi)"/>
<circle cx="276.9" cy="109.9" r="5.10" fill="url(#gC)"/>
<circle cx="244.3" cy="156.0" r="7.90" fill="url(#gSi)"/>
<circle cx="276.9" cy="156.0" r="5.10" fill="url(#gC)"/>
<circle cx="244.3" cy="202.1" r="7.90" fill="url(#gSi)"/>
<circle cx="276.9" cy="202.1" r="5.10" fill="url(#gC)"/>
<circle cx="287.6" cy="2.2" r="7.90" fill="url(#gSi)"/>
<circle cx="320.2" cy="2.2" r="5.10" fill="url(#gC)"/>
<circle cx="287.6" cy="48.3" r="7.90" fill="url(#gSi)"/>
<circle cx="320.2" cy="48.3" r="5.10" fill="url(#gC)"/>
<circle cx="287.6" cy="94.4" r="7.90" fill="url(#gSi)"/>
<circle cx="320.2" cy="94.4" r="5.10" fill="url(#gC)"/>
<circle cx="287.6" cy="140.5" r="7.90" fill="url(#gSi)"/>
<circle cx="320.2" cy="140.5" r="5.10" fill="url(#gC)"/>
<circle cx="287.6" cy="186.6" r="7.90" fill="url(#gSi)"/>
<circle cx="320.2" cy="186.6" r="5.10" fill="url(#gC)"/>
<circle cx="330.9" cy="-13.0" r="7.90" fill="url(#gSi)"/>
<circle cx="363.5" cy="-12.5" r="5.10" fill="url(#gC)"/>
<circle cx="366.0" cy="-13.0" r="5.10" fill="url(#gC)"/>
<circle cx="330.9" cy="33.1" r="7.90" fill="url(#gSi)"/>
<circle cx="363.5" cy="33.6" r="5.10" fill="url(#gC)"/>
<circle cx="366.0" cy="33.1" r="5.10" fill="url(#gC)"/>
<circle cx="330.9" cy="79.2" r="7.90" fill="url(#gSi)"/>
<circle cx="363.5" cy="79.7" r="5.10" fill="url(#gC)"/>
<circle cx="366.0" cy="79.2" r="5.10" fill="url(#gC)"/>
<circle cx="330.9" cy="125.3" r="7.90" fill="url(#gSi)"/>
<circle cx="363.5" cy="125.8" r="5.10" fill="url(#gC)"/>
<circle cx="366.0" cy="125.3" r="5.10" fill="url(#gC)"/>
<circle cx="330.9" cy="171.4" r="7.90" fill="url(#gSi)"/>
<circle cx="363.5" cy="171.9" r="5.10" fill="url(#gC)"/>
<circle cx="366.0" cy="171.4" r="5.10" fill="url(#gC)"/>
<circle cx="372.2" cy="2.2" r="7.90" fill="url(#gSi)"/>
<circle cx="377.2" cy="2.2" r="7.90" fill="url(#gSi)"/>
<circle cx="372.2" cy="48.3" r="7.90" fill="url(#gSi)"/>
<circle cx="377.2" cy="48.3" r="7.90" fill="url(#gSi)"/>
<circle cx="372.2" cy="94.4" r="7.90" fill="url(#gSi)"/>
<circle cx="377.2" cy="94.4" r="7.90" fill="url(#gSi)"/>
<circle cx="372.2" cy="140.5" r="7.90" fill="url(#gSi)"/>
<circle cx="377.2" cy="140.5" r="7.90" fill="url(#gSi)"/>
<circle cx="372.2" cy="186.6" r="7.90" fill="url(#gSi)"/>
<circle cx="377.2" cy="186.6" r="7.90" fill="url(#gSi)"/>
<path d="M657.0 19.0L655.9 27.7" stroke="#e8cfc9" stroke-width="2.4"/><path d="M657.0 19.0L655.9 27.7" stroke="#fbf1ef" stroke-width="0.60"/>
<path d="M654.7 36.4L655.9 27.7" stroke="#2b4ce2" stroke-width="2.4"/><path d="M654.7 36.4L655.9 27.7" stroke="#6f8af0" stroke-width="0.60"/>
<path d="M679.5 36.7L667.1 36.5" stroke="#e8cfc9" stroke-width="2.4"/><path d="M679.5 36.7L667.1 36.5" stroke="#fbf1ef" stroke-width="0.60"/>
<path d="M654.7 36.4L667.1 36.5" stroke="#2b4ce2" stroke-width="2.4"/><path d="M654.7 36.4L667.1 36.5" stroke="#6f8af0" stroke-width="0.60"/>
<path d="M671.3 57.9L663.0 47.1" stroke="#e8cfc9" stroke-width="2.4"/><path d="M671.3 57.9L663.0 47.1" stroke="#fbf1ef" stroke-width="0.60"/>
<path d="M654.7 36.4L663.0 47.1" stroke="#2b4ce2" stroke-width="2.4"/><path d="M654.7 36.4L663.0 47.1" stroke="#6f8af0" stroke-width="0.60"/>
<path d="M652.6 45.5L645.2 53.4" stroke="#e8cfc9" stroke-width="2.4"/><path d="M652.6 45.5L645.2 53.4" stroke="#fbf1ef" stroke-width="0.60"/>
<path d="M637.9 61.2L645.2 53.4" stroke="#2b4ce2" stroke-width="2.4"/><path d="M637.9 61.2L645.2 53.4" stroke="#6f8af0" stroke-width="0.60"/>
<path d="M665.8 68.3L655.8 73.2" stroke="#e8cfc9" stroke-width="2.4"/><path d="M665.8 68.3L655.8 73.2" stroke="#fbf1ef" stroke-width="0.60"/>
<path d="M645.9 78.0L655.8 73.2" stroke="#2b4ce2" stroke-width="2.4"/><path d="M645.9 78.0L655.8 73.2" stroke="#6f8af0" stroke-width="0.60"/>
<path d="M657.0 111.0L655.9 120.2" stroke="#e8cfc9" stroke-width="2.4"/><path d="M657.0 111.0L655.9 120.2" stroke="#fbf1ef" stroke-width="0.60"/>
<path d="M654.7 129.3L655.9 120.2" stroke="#2b4ce2" stroke-width="2.4"/><path d="M654.7 129.3L655.9 120.2" stroke="#6f8af0" stroke-width="0.60"/>
<path d="M679.5 128.6L667.1 128.9" stroke="#e8cfc9" stroke-width="2.4"/><path d="M679.5 128.6L667.1 128.9" stroke="#fbf1ef" stroke-width="0.60"/>
<path d="M654.7 129.3L667.1 128.9" stroke="#2b4ce2" stroke-width="2.4"/><path d="M654.7 129.3L667.1 128.9" stroke="#6f8af0" stroke-width="0.60"/>
<path d="M671.3 150.2L663.0 139.8" stroke="#e8cfc9" stroke-width="2.4"/><path d="M671.3 150.2L663.0 139.8" stroke="#fbf1ef" stroke-width="0.60"/>
<path d="M654.7 129.3L663.0 139.8" stroke="#2b4ce2" stroke-width="2.4"/><path d="M654.7 129.3L663.0 139.8" stroke="#6f8af0" stroke-width="0.60"/>
<path d="M665.8 160.6L655.8 165.4" stroke="#e8cfc9" stroke-width="2.4"/><path d="M665.8 160.6L655.8 165.4" stroke="#fbf1ef" stroke-width="0.60"/>
<path d="M645.9 170.2L655.8 165.4" stroke="#2b4ce2" stroke-width="2.4"/><path d="M645.9 170.2L655.8 165.4" stroke="#6f8af0" stroke-width="0.60"/>
<circle cx="657.0" cy="19.0" r="3.00" fill="url(#gH)"/>
<circle cx="679.5" cy="36.7" r="3.00" fill="url(#gH)"/>
<circle cx="671.3" cy="57.9" r="3.00" fill="url(#gH)"/>
<circle cx="652.6" cy="45.5" r="3.00" fill="url(#gH)"/>
<circle cx="665.8" cy="68.3" r="3.00" fill="url(#gH)"/>
<circle cx="657.0" cy="111.0" r="3.00" fill="url(#gH)"/>
<circle cx="679.5" cy="128.6" r="3.00" fill="url(#gH)"/>
<circle cx="671.3" cy="150.2" r="3.00" fill="url(#gH)"/>
<circle cx="665.8" cy="160.6" r="3.00" fill="url(#gH)"/>
<circle cx="429.6" cy="51.7" r="7.50" fill="url(#gSf)"/>
<circle cx="418.7" cy="67.0" r="7.50" fill="url(#gSf)"/>
<circle cx="537.8" cy="26.2" r="7.50" fill="url(#gSf)"/>
<circle cx="540.7" cy="59.7" r="7.50" fill="url(#gSf)"/>
<circle cx="621.8" cy="18.9" r="7.50" fill="url(#gSf)"/>
<circle cx="459.6" cy="114.7" r="7.50" fill="url(#gSf)"/>
<circle cx="537.8" cy="130.8" r="7.50" fill="url(#gSf)"/>
<circle cx="637.9" cy="151.2" r="7.50" fill="url(#gSf)"/>
<circle cx="601.4" cy="173.8" r="7.50" fill="url(#gSf)"/>
<circle cx="476.4" cy="112.5" r="4.40" fill="url(#gO)"/>
<circle cx="404.8" cy="141.0" r="4.40" fill="url(#gO)"/>
<circle cx="472.0" cy="182.6" r="4.40" fill="url(#gO)"/>
<circle cx="530.5" cy="139.5" r="4.40" fill="url(#gO)"/>
<circle cx="531.9" cy="94.8" r="4.40" fill="url(#gO)"/>
<circle cx="636.4" cy="15.2" r="4.40" fill="url(#gO)"/>
<circle cx="517.3" cy="49.5" r="4.40" fill="url(#gO)"/>
<circle cx="480.8" cy="43.7" r="4.40" fill="url(#gO)"/>
<circle cx="439.9" cy="152.7" r="4.40" fill="url(#gO)"/>
<circle cx="477.9" cy="97.9" r="4.40" fill="url(#gO)"/>
<circle cx="434.7" cy="63.4" r="4.40" fill="url(#gO)"/>
<circle cx="518.1" cy="89.7" r="4.40" fill="url(#gO)"/>
<circle cx="475.6" cy="88.9" r="4.40" fill="url(#gO)"/>
<circle cx="636.4" cy="107.4" r="4.40" fill="url(#gO)"/>
<circle cx="605.0" cy="165.1" r="4.40" fill="url(#gO)"/>
<circle cx="513.7" cy="24.7" r="4.40" fill="url(#gO)"/>
<circle cx="591.9" cy="20.3" r="4.40" fill="url(#gO)"/>
<circle cx="637.2" cy="144.6" r="4.40" fill="url(#gO)"/>
<circle cx="589.0" cy="184.0" r="4.40" fill="url(#gO)"/>
<circle cx="597.7" cy="104.5" r="4.40" fill="url(#gO)"/>
<circle cx="602.1" cy="182.6" r="4.40" fill="url(#gO)"/>
<circle cx="476.5" cy="88.2" r="4.40" fill="url(#gO)"/>
<circle cx="402.6" cy="39.3" r="4.40" fill="url(#gO)"/>
<circle cx="510.8" cy="178.2" r="4.40" fill="url(#gO)"/>
<circle cx="653.9" cy="159.2" r="4.40" fill="url(#gO)"/>
<circle cx="589.0" cy="94.0" r="4.40" fill="url(#gO)"/>
<circle cx="564.0" cy="168.0" r="4.40" fill="url(#gO)"/>
<circle cx="494.7" cy="122.0" r="4.40" fill="url(#gO)"/>
<circle cx="455.9" cy="56.8" r="4.40" fill="url(#gO)"/>
<circle cx="521.7" cy="21.1" r="4.40" fill="url(#gO)"/>
<circle cx="490.3" cy="151.9" r="4.40" fill="url(#gO)"/>
<circle cx="436.2" cy="108.9" r="4.40" fill="url(#gO)"/>
<circle cx="488.9" cy="80.9" r="4.40" fill="url(#gO)"/>
<circle cx="559.7" cy="161.4" r="4.40" fill="url(#gO)"/>
<circle cx="550.2" cy="128.6" r="4.40" fill="url(#gO)"/>
<circle cx="616.0" cy="37.1" r="4.40" fill="url(#gO)"/>
<circle cx="556.0" cy="103.8" r="4.40" fill="url(#gO)"/>
<circle cx="645.2" cy="106.0" r="4.40" fill="url(#gO)"/>
<circle cx="499.1" cy="62.7" r="4.40" fill="url(#gO)"/>
<circle cx="637.2" cy="124.9" r="4.40" fill="url(#gO)"/>
<circle cx="590.4" cy="151.9" r="4.40" fill="url(#gO)"/>
<circle cx="440.6" cy="164.3" r="4.40" fill="url(#gO)"/>
<circle cx="561.1" cy="123.5" r="4.40" fill="url(#gO)"/>
<circle cx="557.5" cy="131.5" r="4.40" fill="url(#gO)"/>
<circle cx="499.1" cy="153.4" r="4.40" fill="url(#gO)"/>
<circle cx="645.9" cy="39.3" r="4.40" fill="url(#gO)"/>
<circle cx="597.7" cy="12.3" r="4.40" fill="url(#gO)"/>
<circle cx="487.4" cy="14.5" r="4.40" fill="url(#gO)"/>
<circle cx="428.2" cy="92.0" r="7.50" fill="url(#gSi)"/>
<circle cx="402.6" cy="131.5" r="4.40" fill="url(#gO)"/>
<circle cx="645.9" cy="78.0" r="7.50" fill="url(#gSi)"/>
<circle cx="634.2" cy="76.5" r="4.40" fill="url(#gO)"/>
<circle cx="591.9" cy="111.8" r="4.40" fill="url(#gO)"/>
<circle cx="581.0" cy="130.0" r="4.40" fill="url(#gO)"/>
<circle cx="646.6" cy="153.4" r="4.40" fill="url(#gO)"/>
<circle cx="513.7" cy="116.9" r="4.40" fill="url(#gO)"/>
<circle cx="654.7" cy="36.4" r="7.50" fill="url(#gSi)"/>
<circle cx="578.0" cy="54.6" r="4.40" fill="url(#gO)"/>
<circle cx="414.3" cy="78.7" r="7.50" fill="url(#gSi)"/>
<circle cx="477.8" cy="135.9" r="4.40" fill="url(#gO)"/>
<circle cx="428.2" cy="181.1" r="7.50" fill="url(#gSi)"/>
<circle cx="559.7" cy="68.5" r="4.40" fill="url(#gO)"/>
<circle cx="610.9" cy="80.9" r="4.40" fill="url(#gO)"/>
<circle cx="581.0" cy="50.3" r="4.40" fill="url(#gO)"/>
<circle cx="436.9" cy="114.7" r="4.40" fill="url(#gO)"/>
<circle cx="453.7" cy="184.8" r="7.50" fill="url(#gSi)"/>
<circle cx="575.1" cy="167.3" r="4.40" fill="url(#gO)"/>
<circle cx="531.2" cy="73.6" r="7.50" fill="url(#gSi)"/>
<circle cx="441.3" cy="119.1" r="4.40" fill="url(#gO)"/>
<circle cx="583.1" cy="177.5" r="7.50" fill="url(#gSi)"/>
<circle cx="615.3" cy="66.3" r="4.40" fill="url(#gO)"/>
<circle cx="439.9" cy="26.9" r="4.40" fill="url(#gO)"/>
<circle cx="512.2" cy="165.1" r="4.40" fill="url(#gO)"/>
<circle cx="472.0" cy="47.3" r="4.40" fill="url(#gO)"/>
<circle cx="400.4" cy="144.6" r="4.40" fill="url(#gO)"/>
<circle cx="516.6" cy="102.3" r="4.40" fill="url(#gO)"/>
<circle cx="481.6" cy="149.7" r="4.40" fill="url(#gO)"/>
<circle cx="611.6" cy="70.7" r="4.40" fill="url(#gO)"/>
<circle cx="523.2" cy="95.5" r="4.40" fill="url(#gO)"/>
<circle cx="507.8" cy="103.0" r="7.50" fill="url(#gSi)"/>
<circle cx="588.2" cy="14.5" r="4.40" fill="url(#gO)"/>
<circle cx="529.0" cy="47.3" r="4.40" fill="url(#gO)"/>
<circle cx="449.3" cy="134.4" r="4.40" fill="url(#gO)"/>
<circle cx="539.2" cy="16.7" r="7.50" fill="url(#gSi)"/>
<circle cx="653.2" cy="67.0" r="4.40" fill="url(#gO)"/>
<circle cx="417.2" cy="18.9" r="7.50" fill="url(#gSi)"/>
<circle cx="473.4" cy="143.2" r="4.40" fill="url(#gO)"/>
<circle cx="455.9" cy="149.0" r="4.40" fill="url(#gO)"/>
<circle cx="496.9" cy="7.2" r="7.50" fill="url(#gSi)"/>
<circle cx="622.6" cy="63.4" r="4.40" fill="url(#gO)"/>
<circle cx="621.1" cy="155.6" r="4.40" fill="url(#gO)"/>
<circle cx="487.4" cy="106.7" r="4.40" fill="url(#gO)"/>
<circle cx="434.7" cy="168.0" r="4.40" fill="url(#gO)"/>
<circle cx="556.0" cy="142.4" r="7.50" fill="url(#gSi)"/>
<circle cx="637.9" cy="61.2" r="7.50" fill="url(#gSi)"/>
<circle cx="606.5" cy="108.9" r="4.40" fill="url(#gO)"/>
<circle cx="434.7" cy="178.2" r="4.40" fill="url(#gO)"/>
<circle cx="443.5" cy="33.5" r="4.40" fill="url(#gO)"/>
<circle cx="481.6" cy="56.8" r="4.40" fill="url(#gO)"/>
<circle cx="649.6" cy="88.9" r="4.40" fill="url(#gO)"/>
<circle cx="532.7" cy="165.8" r="7.50" fill="url(#gSi)"/>
<circle cx="531.2" cy="170.2" r="4.40" fill="url(#gO)"/>
<circle cx="402.6" cy="181.9" r="4.40" fill="url(#gO)"/>
<circle cx="459.6" cy="22.5" r="7.50" fill="url(#gSi)"/>
<circle cx="513.7" cy="161.4" r="7.50" fill="url(#gSi)"/>
<circle cx="469.8" cy="124.9" r="7.50" fill="url(#gSi)"/>
<circle cx="556.0" cy="11.6" r="4.40" fill="url(#gO)"/>
<circle cx="517.3" cy="141.7" r="4.40" fill="url(#gO)"/>
<circle cx="409.2" cy="54.6" r="4.40" fill="url(#gO)"/>
<circle cx="556.8" cy="176.8" r="4.40" fill="url(#gO)"/>
<circle cx="639.3" cy="183.3" r="4.40" fill="url(#gO)"/>
<circle cx="537.8" cy="118.4" r="7.50" fill="url(#gSi)"/>
<circle cx="429.6" cy="149.7" r="7.50" fill="url(#gSi)"/>
<circle cx="404.8" cy="48.8" r="4.40" fill="url(#gO)"/>
<circle cx="645.9" cy="131.5" r="4.40" fill="url(#gO)"/>
<circle cx="649.6" cy="181.1" r="4.40" fill="url(#gO)"/>
<circle cx="537.0" cy="37.8" r="7.50" fill="url(#gSi)"/>
<circle cx="582.4" cy="86.0" r="7.50" fill="url(#gSi)"/>
<circle cx="572.8" cy="10.8" r="7.50" fill="url(#gSi)"/>
<circle cx="439.9" cy="72.9" r="4.40" fill="url(#gO)"/>
<circle cx="631.3" cy="139.5" r="4.40" fill="url(#gO)"/>
<circle cx="401.9" cy="10.1" r="4.40" fill="url(#gO)"/>
<circle cx="645.2" cy="13.0" r="4.40" fill="url(#gO)"/>
<circle cx="560.4" cy="31.3" r="4.40" fill="url(#gO)"/>
<circle cx="538.5" cy="151.2" r="7.50" fill="url(#gSi)"/>
<circle cx="533.4" cy="64.1" r="4.40" fill="url(#gO)"/>
<circle cx="613.8" cy="157.8" r="4.40" fill="url(#gO)"/>
<circle cx="576.6" cy="9.4" r="7.50" fill="url(#gSi)"/>
<circle cx="637.2" cy="32.7" r="4.40" fill="url(#gO)"/>
<circle cx="446.4" cy="16.7" r="4.40" fill="url(#gO)"/>
<circle cx="430.4" cy="9.4" r="7.50" fill="url(#gSi)"/>
<circle cx="574.4" cy="76.5" r="4.40" fill="url(#gO)"/>
<circle cx="504.9" cy="182.6" r="7.50" fill="url(#gSi)"/>
<circle cx="494.7" cy="181.1" r="7.50" fill="url(#gSi)"/>
<circle cx="628.4" cy="49.5" r="7.50" fill="url(#gSi)"/>
<circle cx="630.6" cy="31.3" r="4.40" fill="url(#gO)"/>
<circle cx="478.6" cy="113.2" r="4.40" fill="url(#gO)"/>
<circle cx="431.1" cy="44.4" r="7.50" fill="url(#gSi)"/>
<circle cx="436.9" cy="17.4" r="4.40" fill="url(#gO)"/>
<circle cx="447.2" cy="109.6" r="4.40" fill="url(#gO)"/>
<circle cx="512.2" cy="72.2" r="4.40" fill="url(#gO)"/>
<circle cx="467.6" cy="63.4" r="7.50" fill="url(#gSi)"/>
<circle cx="491.8" cy="133.0" r="7.50" fill="url(#gSi)"/>
<circle cx="401.9" cy="95.5" r="4.40" fill="url(#gO)"/>
<circle cx="495.4" cy="89.7" r="7.50" fill="url(#gSi)"/>
<circle cx="553.1" cy="53.9" r="7.50" fill="url(#gSi)"/>
<circle cx="564.0" cy="75.8" r="4.40" fill="url(#gO)"/>
<circle cx="645.9" cy="170.2" r="7.50" fill="url(#gSi)"/>
<circle cx="584.6" cy="31.3" r="7.50" fill="url(#gSi)"/>
<circle cx="611.6" cy="133.7" r="7.50" fill="url(#gSi)"/>
<circle cx="626.2" cy="100.5" r="7.50" fill="url(#gSi)"/>
<circle cx="636.4" cy="86.0" r="7.50" fill="url(#gSi)"/>
<circle cx="626.2" cy="11.6" r="7.50" fill="url(#gSi)"/>
<circle cx="597.0" cy="56.8" r="7.50" fill="url(#gSi)"/>
<circle cx="431.1" cy="137.3" r="7.50" fill="url(#gSi)"/>
<circle cx="557.5" cy="36.4" r="7.50" fill="url(#gSi)"/>
<circle cx="453.7" cy="95.5" r="7.50" fill="url(#gSi)"/>
<circle cx="603.6" cy="147.6" r="7.50" fill="url(#gSi)"/>
<circle cx="601.4" cy="80.9" r="7.50" fill="url(#gSi)"/>
<circle cx="548.7" cy="84.6" r="7.50" fill="url(#gSi)"/>
<circle cx="576.0" cy="99.0" r="7.50" fill="url(#gSi)"/>
<circle cx="466.1" cy="157.0" r="7.50" fill="url(#gSi)"/>
<circle cx="548.0" cy="177.5" r="7.50" fill="url(#gSi)"/>
<circle cx="417.2" cy="111.1" r="7.50" fill="url(#gSi)"/>
<circle cx="654.7" cy="129.3" r="7.50" fill="url(#gSi)"/>
<circle cx="418.7" cy="160.0" r="7.50" fill="url(#gSi)"/>
<circle cx="531.2" cy="102.3" r="7.50" fill="url(#gSi)"/>
<circle cx="630.6" cy="161.4" r="7.50" fill="url(#gSi)"/>
<circle cx="491.8" cy="40.8" r="7.50" fill="url(#gSi)"/>
</g></g>
<text transform="translate(-0.2 13.7) scale(1.0 1)" font-size="25" font-weight="bold" fill="#000" stroke="#000" stroke-width="0.7">a</text>
<path d="M47.6 202 V211.5 H335 V202 M140.8 211.5 V220.3" fill="none" stroke="#a7c3ec" stroke-width="1.3"/>
<path d="M339.7 202 V211.5 H419.6 V202 M379.4 211.5 V220.3" fill="none" stroke="#ffd095" stroke-width="1.3"/>
<path d="M423.8 202 V211.5 H652.8 V202 M571.1 211.5 V220.3" fill="none" stroke="#f2a3ad" stroke-width="1.3"/>
<text x="110.9" y="241.7" font-size="16.5" textLength="58.6" lengthAdjust="spacingAndGlyphs" fill="#231f20">4H-SiC</text>
<text x="311.0" y="241.7" font-size="16.5" textLength="138.0" lengthAdjust="spacingAndGlyphs" fill="#231f20">Transition region</text>
<text x="544.9" y="242.0" font-size="16.5" textLength="43.5" lengthAdjust="spacingAndGlyphs" fill="#231f20">a-SiO</text>
<text x="589.6" y="246.3" font-size="11.5" fill="#231f20">2</text>
<text transform="translate(-0.7 294.8) scale(1.08 1)" font-size="26" font-weight="bold" fill="#000" stroke="#000" stroke-width="0.7">b</text>
<path d="M104.40 312.74h17.60M113.20 303.94v17.60M104.40 303.94l17.60 17.60M104.40 321.54l17.60 -17.60M104.40 341.90h17.60M113.20 333.10v17.60M104.40 333.10l17.60 17.60M104.40 350.70l17.60 -17.60M104.40 346.15h17.60M113.20 337.35v17.60M104.40 337.35l17.60 17.60M104.40 354.95l17.60 -17.60M104.40 350.41h17.60M113.20 341.61v17.60M104.40 341.61l17.60 17.60M104.40 359.21l17.60 -17.60M104.40 354.05h17.60M113.20 345.25v17.60M104.40 345.25l17.60 17.60M104.40 362.85l17.60 -17.60M104.40 358.30h17.60M113.20 349.50v17.60M104.40 349.50l17.60 17.60M104.40 367.10l17.60 -17.60M104.40 362.56h17.60M113.20 353.76v17.60M104.40 353.76l17.60 17.60M104.40 371.36l17.60 -17.60M104.40 366.20h17.60M113.20 357.40v17.60M104.40 357.40l17.60 17.60M104.40 375.00l17.60 -17.60M104.40 369.85h17.60M113.20 361.05v17.60M104.40 361.05l17.60 17.60M104.40 378.65l17.60 -17.60M104.40 372.88h17.60M113.20 364.08v17.60M104.40 364.08l17.60 17.60M104.40 381.68l17.60 -17.60M104.40 375.92h17.60M113.20 367.12v17.60M104.40 367.12l17.60 17.60M104.40 384.72l17.60 -17.60M104.40 380.78h17.60M113.20 371.98v17.60M104.40 371.98l17.60 17.60M104.40 389.58l17.60 -17.60M104.40 389.89h17.60M113.20 381.09v17.60M104.40 381.09l17.60 17.60M104.40 398.69l17.60 -17.60M104.40 391.72h17.60M113.20 382.92v17.60M104.40 382.92l17.60 17.60M104.40 400.52l17.60 -17.60M104.40 393.54h17.60M113.20 384.74v17.60M104.40 384.74l17.60 17.60M104.40 402.34l17.60 -17.60M104.40 395.36h17.60M113.20 386.56v17.60M104.40 386.56l17.60 17.60M104.40 404.16l17.60 -17.60M104.40 397.18h17.60M113.20 388.38v17.60M104.40 388.38l17.60 17.60M104.40 405.98l17.60 -17.60M104.40 399.01h17.60M113.20 390.21v17.60M104.40 390.21l17.60 17.60M104.40 407.81l17.60 -17.60M104.40 400.83h17.60M113.20 392.03v17.60M104.40 392.03l17.60 17.60M104.40 409.63l17.60 -17.60M104.40 402.65h17.60M113.20 393.85v17.60M104.40 393.85l17.60 17.60M104.40 411.45l17.60 -17.60M104.40 404.47h17.60M113.20 395.67v17.60M104.40 395.67l17.60 17.60M104.40 413.27l17.60 -17.60M104.40 406.30h17.60M113.20 397.50v17.60M104.40 397.50l17.60 17.60M104.40 415.10l17.60 -17.60M104.40 408.12h17.60M113.20 399.32v17.60M104.40 399.32l17.60 17.60M104.40 416.92l17.60 -17.60M104.40 409.94h17.60M113.20 401.14v17.60M104.40 401.14l17.60 17.60M104.40 418.74l17.60 -17.60M104.40 411.76h17.60M113.20 402.96v17.60M104.40 402.96l17.60 17.60M104.40 420.56l17.60 -17.60M104.40 413.59h17.60M113.20 404.79v17.60M104.40 404.79l17.60 17.60M104.40 422.39l17.60 -17.60M104.40 429.99h17.60M113.20 421.19v17.60M104.40 421.19l17.60 17.60M104.40 438.79l17.60 -17.60M104.40 435.46h17.60M113.20 426.66v17.60M104.40 426.66l17.60 17.60M104.40 444.26l17.60 -17.60" stroke="#6a67c0" stroke-width="1.6" fill="none"/>
<path d="M189.15 315.17h17.60M197.95 306.37v17.60M189.15 306.37l17.60 17.60M189.15 323.97l17.60 -17.60M189.15 317.60h17.60M197.95 308.80v17.60M189.15 308.80l17.60 17.60M189.15 326.40l17.60 -17.60M189.15 319.42h17.60M197.95 310.62v17.60M189.15 310.62l17.60 17.60M189.15 328.22l17.60 -17.60M189.15 321.25h17.60M197.95 312.44v17.60M189.15 312.44l17.60 17.60M189.15 330.05l17.60 -17.60M189.15 323.07h17.60M197.95 314.27v17.60M189.15 314.27l17.60 17.60M189.15 331.87l17.60 -17.60M189.15 324.89h17.60M197.95 316.09v17.60M189.15 316.09l17.60 17.60M189.15 333.69l17.60 -17.60M189.15 326.71h17.60M197.95 317.91v17.60M189.15 317.91l17.60 17.60M189.15 335.51l17.60 -17.60M189.15 328.54h17.60M197.95 319.74v17.60M189.15 319.74l17.60 17.60M189.15 337.34l17.60 -17.60M189.15 330.36h17.60M197.95 321.56v17.60M189.15 321.56l17.60 17.60M189.15 339.16l17.60 -17.60M189.15 332.18h17.60M197.95 323.38v17.60M189.15 323.38l17.60 17.60M189.15 340.98l17.60 -17.60M189.15 334.00h17.60M197.95 325.20v17.60M189.15 325.20l17.60 17.60M189.15 342.80l17.60 -17.60M189.15 335.83h17.60M197.95 327.03v17.60M189.15 327.03l17.60 17.60M189.15 344.63l17.60 -17.60M189.15 337.65h17.60M197.95 328.85v17.60M189.15 328.85l17.60 17.60M189.15 346.45l17.60 -17.60M189.15 339.47h17.60M197.95 330.67v17.60M189.15 330.67l17.60 17.60M189.15 348.27l17.60 -17.60M189.15 341.29h17.60M197.95 332.49v17.60M189.15 332.49l17.60 17.60M189.15 350.09l17.60 -17.60M189.15 343.12h17.60M197.95 334.31v17.60M189.15 334.31l17.60 17.60M189.15 351.92l17.60 -17.60M189.15 344.94h17.60M197.95 336.14v17.60M189.15 336.14l17.60 17.60M189.15 353.74l17.60 -17.60M189.15 346.76h17.60M197.95 337.96v17.60M189.15 337.96l17.60 17.60M189.15 355.56l17.60 -17.60M189.15 352.84h17.60M197.95 344.04v17.60M189.15 344.04l17.60 17.60M189.15 361.64l17.60 -17.60M189.15 358.91h17.60M197.95 350.11v17.60M189.15 350.11l17.60 17.60M189.15 367.71l17.60 -17.60M189.15 368.02h17.60M197.95 359.22v17.60M189.15 359.22l17.60 17.60M189.15 376.82l17.60 -17.60M189.15 373.49h17.60M197.95 364.69v17.60M189.15 364.69l17.60 17.60M189.15 382.29l17.60 -17.60M189.15 386.25h17.60M197.95 377.45v17.60M189.15 377.45l17.60 17.60M189.15 395.05l17.60 -17.60M189.15 392.32h17.60M197.95 383.52v17.60M189.15 383.52l17.60 17.60M189.15 401.12l17.60 -17.60M189.15 397.18h17.60M197.95 388.38v17.60M189.15 388.38l17.60 17.60M189.15 405.98l17.60 -17.60M189.15 403.26h17.60M197.95 394.46v17.60M189.15 394.46l17.60 17.60M189.15 412.06l17.60 -17.60M189.15 411.16h17.60M197.95 402.36v17.60M189.15 402.36l17.60 17.60M189.15 419.96l17.60 -17.60M189.15 445.18h17.60M197.95 436.38v17.60M189.15 436.38l17.60 17.60M189.15 453.98l17.60 -17.60" stroke="#3a6ba4" stroke-width="1.6" fill="none"/>
<path d="M273.90 312.74h17.60M282.70 303.94v17.60M273.90 303.94l17.60 17.60M273.90 321.54l17.60 -17.60M273.90 318.21h17.60M282.70 309.41v17.60M273.90 309.41l17.60 17.60M273.90 327.01l17.60 -17.60M273.90 323.68h17.60M282.70 314.88v17.60M273.90 314.88l17.60 17.60M273.90 332.48l17.60 -17.60M273.90 326.11h17.60M282.70 317.31v17.60M273.90 317.31l17.60 17.60M273.90 334.91l17.60 -17.60M273.90 327.93h17.60M282.70 319.13v17.60M273.90 319.13l17.60 17.60M273.90 336.73l17.60 -17.60M273.90 330.97h17.60M282.70 322.17v17.60M273.90 322.17l17.60 17.60M273.90 339.77l17.60 -17.60M273.90 340.08h17.60M282.70 331.28v17.60M273.90 331.28l17.60 17.60M273.90 348.88l17.60 -17.60M273.90 347.98h17.60M282.70 339.18v17.60M273.90 339.18l17.60 17.60M273.90 356.78l17.60 -17.60M273.90 357.09h17.60M282.70 348.29v17.60M273.90 348.29l17.60 17.60M273.90 365.89l17.60 -17.60M273.90 374.10h17.60M282.70 365.30v17.60M273.90 365.30l17.60 17.60M273.90 382.90l17.60 -17.60M273.90 380.17h17.60M282.70 371.37v17.60M273.90 371.37l17.60 17.60M273.90 388.97l17.60 -17.60M273.90 420.88h17.60M282.70 412.07v17.60M273.90 412.07l17.60 17.60M273.90 429.68l17.60 -17.60M273.90 423.91h17.60M282.70 415.11v17.60M273.90 415.11l17.60 17.60M273.90 432.71l17.60 -17.60" stroke="#ff8a1c" stroke-width="1.6" fill="none"/>
<path d="M358.65 325.50h17.60M367.45 316.70v17.60M358.65 316.70l17.60 17.60M358.65 334.30l17.60 -17.60M358.65 331.57h17.60M367.45 322.77v17.60M358.65 322.77l17.60 17.60M358.65 340.37l17.60 -17.60M358.65 354.66h17.60M367.45 345.86v17.60M358.65 345.86l17.60 17.60M358.65 363.46l17.60 -17.60M358.65 360.73h17.60M367.45 351.93v17.60M358.65 351.93l17.60 17.60M358.65 369.53l17.60 -17.60M358.65 366.81h17.60M367.45 358.01v17.60M358.65 358.01l17.60 17.60M358.65 375.61l17.60 -17.60M358.65 373.49h17.60M367.45 364.69v17.60M358.65 364.69l17.60 17.60M358.65 382.29l17.60 -17.60" stroke="#ee1111" stroke-width="1.6" fill="none"/>
<path d="M443.40 347.98h17.60M452.20 339.18v17.60M443.40 339.18l17.60 17.60M443.40 356.78l17.60 -17.60M443.40 350.41h17.60M452.20 341.61v17.60M443.40 341.61l17.60 17.60M443.40 359.21l17.60 -17.60M443.40 352.84h17.60M452.20 344.04v17.60M443.40 344.04l17.60 17.60M443.40 361.64l17.60 -17.60M443.40 374.10h17.60M452.20 365.30v17.60M443.40 365.30l17.60 17.60M443.40 382.90l17.60 -17.60M443.40 380.17h17.60M452.20 371.37v17.60M443.40 371.37l17.60 17.60M443.40 388.97l17.60 -17.60M443.40 386.25h17.60M452.20 377.45v17.60M443.40 377.45l17.60 17.60M443.40 395.05l17.60 -17.60M443.40 390.50h17.60M452.20 381.70v17.60M443.40 381.70l17.60 17.60M443.40 399.30l17.60 -17.60M443.40 392.93h17.60M452.20 384.13v17.60M443.40 384.13l17.60 17.60M443.40 401.73l17.60 -17.60" stroke="#1a8787" stroke-width="1.6" fill="none"/>
<path d="M528.15 348.58h17.60M536.95 339.78v17.60M528.15 339.78l17.60 17.60M528.15 357.38l17.60 -17.60M528.15 397.79h17.60M536.95 388.99v17.60M528.15 388.99l17.60 17.60M528.15 406.59l17.60 -17.60" stroke="#d4a20e" stroke-width="1.6" fill="none"/>
<path d="M612.90 299.38h17.60M621.70 290.57v17.60M612.90 290.57l17.60 17.60M612.90 308.18l17.60 -17.60M612.90 304.24h17.60M621.70 295.44v17.60M612.90 295.44l17.60 17.60M612.90 313.04l17.60 -17.60M612.90 317.60h17.60M621.70 308.80v17.60M612.90 308.80l17.60 17.60M612.90 326.40l17.60 -17.60M612.90 324.89h17.60M621.70 316.09v17.60M612.90 316.09l17.60 17.60M612.90 333.69l17.60 -17.60M612.90 327.93h17.60M621.70 319.13v17.60M612.90 319.13l17.60 17.60M612.90 336.73l17.60 -17.60" stroke="#f86f72" stroke-width="1.6" fill="none"/>
<rect x="70.8" y="287.8" width="593.4" height="182.6" fill="none" stroke="#4a4a4a" stroke-width="1.3"/>
<line x1="70.80" y1="439.10" x2="79.60" y2="439.10" stroke="#4a4a4a" stroke-width="1.3"/>
<text transform="translate(63.7 443.7) scale(1.1 1)" font-size="14.5" text-anchor="end" fill="#231f20">1</text>
<line x1="70.80" y1="378.35" x2="79.60" y2="378.35" stroke="#4a4a4a" stroke-width="1.3"/>
<text transform="translate(62.9 383.0) scale(1.22 1)" font-size="14.5" text-anchor="end" fill="#231f20">2</text>
<line x1="70.80" y1="317.60" x2="79.60" y2="317.60" stroke="#4a4a4a" stroke-width="1.3"/>
<text transform="translate(62.9 322.2) scale(1.22 1)" font-size="14.5" text-anchor="end" fill="#231f20">3</text>
<line x1="113.20" y1="470.40" x2="113.20" y2="461.20" stroke="#4a4a4a" stroke-width="1.3"/>
<line x1="197.95" y1="470.40" x2="197.95" y2="461.20" stroke="#4a4a4a" stroke-width="1.3"/>
<line x1="282.70" y1="470.40" x2="282.70" y2="461.20" stroke="#4a4a4a" stroke-width="1.3"/>
<line x1="367.45" y1="470.40" x2="367.45" y2="461.20" stroke="#4a4a4a" stroke-width="1.3"/>
<line x1="452.20" y1="470.40" x2="452.20" y2="461.20" stroke="#4a4a4a" stroke-width="1.3"/>
<line x1="536.95" y1="470.40" x2="536.95" y2="461.20" stroke="#4a4a4a" stroke-width="1.3"/>
<line x1="621.70" y1="470.40" x2="621.70" y2="461.20" stroke="#4a4a4a" stroke-width="1.3"/>
<text x="38.2" y="379.0" font-size="15" text-anchor="middle" textLength="116.0" lengthAdjust="spacingAndGlyphs" transform="rotate(-90 38.2 379.0)" fill="#231f20">V-excitation (eV)</text>
<text x="104.2" y="495.4" font-size="16.5" textLength="11.8" lengthAdjust="spacingAndGlyphs" fill="#231f20">C</text>
<text x="116.8" y="488.5" font-size="11.5" fill="#231f20">1</text>
<text x="188.9" y="495.4" font-size="16.5" textLength="11.8" lengthAdjust="spacingAndGlyphs" fill="#231f20">C</text>
<text x="201.5" y="488.5" font-size="11.5" fill="#231f20">2</text>
<text x="273.7" y="495.4" font-size="16.5" textLength="11.8" lengthAdjust="spacingAndGlyphs" fill="#231f20">C</text>
<text x="286.3" y="488.5" font-size="11.5" fill="#231f20">3</text>
<text x="358.4" y="495.4" font-size="16.5" textLength="11.8" lengthAdjust="spacingAndGlyphs" fill="#231f20">C</text>
<text x="371.1" y="488.5" font-size="11.5" fill="#231f20">4</text>
<text x="435.2" y="495.4" font-size="16.5" textLength="11.8" lengthAdjust="spacingAndGlyphs" fill="#231f20">C</text>
<text x="447.6" y="488.5" font-size="11.5" textLength="21.8" lengthAdjust="spacingAndGlyphs" fill="#231f20">ring</text>
<text x="525.2" y="495.4" font-size="16.5" textLength="16.0" lengthAdjust="spacingAndGlyphs" fill="#231f20">Si</text>
<text x="542.0" y="488.5" font-size="11.5" textLength="7.2" lengthAdjust="spacingAndGlyphs" fill="#231f20">d</text>
<text x="621.9" y="495.4" font-size="16.5" text-anchor="middle" textLength="41.0" lengthAdjust="spacingAndGlyphs" fill="#231f20">Si–Si</text>
<text transform="translate(0.4 542.7) scale(1.03 1)" font-size="25" font-weight="bold" fill="#000" stroke="#000" stroke-width="0.7">c</text>
<path d="M104.2 615.7V703.5M99.4 615.7h9.6M99.4 703.5h9.6" stroke="#e4e4e4" stroke-width="1.4" fill="none"/>
<path d="M183.9 592.9V702.2M179.1 592.9h9.6M179.1 702.2h9.6" stroke="#e4e4e4" stroke-width="1.4" fill="none"/>
<path d="M196.5 622.7V702.2M191.7 622.7h9.6M191.7 702.2h9.6" stroke="#e4e4e4" stroke-width="1.4" fill="none"/>
<path d="M221.6 648.5V697.7M216.8 648.5h9.6M216.8 697.7h9.6" stroke="#e4e4e4" stroke-width="1.4" fill="none"/>
<path d="M229.9 635.0V696.3M225.1 635.0h9.6M225.1 696.3h9.6" stroke="#e4e4e4" stroke-width="1.4" fill="none"/>
<path d="M399.5 569.2V700.5M394.7 569.2h9.6M394.7 700.5h9.6" stroke="#e4e4e4" stroke-width="1.4" fill="none"/>
<path d="M427.8 554.4V703.6M423.0 554.4h9.6M423.0 703.6h9.6" stroke="#e4e4e4" stroke-width="1.4" fill="none"/>
<path d="M481.0 561.6V691.8M476.2 561.6h9.6M476.2 691.8h9.6" stroke="#e4e4e4" stroke-width="1.4" fill="none"/>
<path d="M597.1 666.4V702.0M592.3 666.4h9.6M592.3 702.0h9.6" stroke="#e4e4e4" stroke-width="1.4" fill="none"/>
<circle cx="104.2" cy="659.3" r="7.9" fill="#ff7f00"/>
<circle cx="183.9" cy="647.6" r="7.9" fill="#5f9894"/>
<circle cx="178.2" cy="664.2" r="7.9" fill="#93b5dc"/>
<circle cx="196.5" cy="662.5" r="7.9" fill="#ff7f00"/>
<circle cx="174.3" cy="697.7" r="7.7" fill="#d3a004"/>
<circle cx="221.6" cy="673.5" r="7.9" fill="#93b5dc"/>
<circle cx="229.9" cy="665.5" r="7.9" fill="#ff7f00"/>
<circle cx="268.9" cy="675.5" r="7.9" fill="#93b5dc"/>
<circle cx="274.0" cy="675.5" r="7.9" fill="#93b5dc"/>
<circle cx="287.8" cy="666.0" r="7.9" fill="#93b5dc"/>
<circle cx="306.1" cy="662.3" r="7.9" fill="#93b5dc"/>
<circle cx="307.8" cy="668.2" r="7.9" fill="#93b5dc"/>
<circle cx="325.8" cy="679.1" r="7.9" fill="#93b5dc"/>
<circle cx="336.8" cy="628.8" r="7.9" fill="#ff7f00"/>
<circle cx="336.0" cy="662.3" r="7.9" fill="#93b5dc"/>
<circle cx="340.4" cy="662.3" r="7.9" fill="#93b5dc"/>
<circle cx="340.4" cy="676.2" r="7.9" fill="#93b5dc"/>
<circle cx="365.0" cy="664.2" r="7.9" fill="#93b5dc"/>
<circle cx="399.5" cy="634.9" r="7.9" fill="#ff7f00"/>
<circle cx="399.5" cy="661.6" r="7.9" fill="#93b5dc"/>
<circle cx="427.8" cy="628.8" r="7.9" fill="#ff7f00"/>
<circle cx="481.0" cy="626.9" r="7.9" fill="#ff7f00"/>
<circle cx="597.1" cy="684.2" r="7.9" fill="#f7656d"/>
<path d="M178.2 624.4V703.9M173.4 624.4h9.6M173.4 703.9h9.6" stroke="#e6e6e6" stroke-width="1.2" fill="none"/>
<path d="M174.3 691.7V703.9M169.5 691.7h9.6M169.5 703.9h9.6" stroke="#e6e6e6" stroke-width="1.2" fill="none"/>
<path d="M268.9 654.0V696.6M264.1 654.0h9.6M264.1 696.6h9.6" stroke="#e6e6e6" stroke-width="1.2" fill="none"/>
<path d="M274.0 654.0V697.0M269.2 654.0h9.6M269.2 697.0h9.6" stroke="#e6e6e6" stroke-width="1.2" fill="none"/>
<path d="M287.8 635.3V696.2M283.0 635.3h9.6M283.0 696.2h9.6" stroke="#e6e6e6" stroke-width="1.2" fill="none"/>
<path d="M306.1 634.6V690.4M301.3 634.6h9.6M301.3 690.4h9.6" stroke="#e6e6e6" stroke-width="1.2" fill="none"/>
<path d="M307.8 638.2V698.5M303.0 638.2h9.6M303.0 698.5h9.6" stroke="#e6e6e6" stroke-width="1.2" fill="none"/>
<path d="M325.8 663.8V703.5M321.0 663.8h9.6M321.0 703.5h9.6" stroke="#e6e6e6" stroke-width="1.2" fill="none"/>
<path d="M336.8 555.9V700.0M332.0 555.9h9.6M332.0 700.0h9.6" stroke="#e6e6e6" stroke-width="1.2" fill="none"/>
<path d="M336.0 655.0V699.6M331.2 655.0h9.6M331.2 699.6h9.6" stroke="#e6e6e6" stroke-width="1.2" fill="none"/>
<path d="M340.4 655.0V701.0M335.6 655.0h9.6M335.6 701.0h9.6" stroke="#e6e6e6" stroke-width="1.2" fill="none"/>
<path d="M340.4 660.0V701.5M335.6 660.0h9.6M335.6 701.5h9.6" stroke="#e6e6e6" stroke-width="1.2" fill="none"/>
<path d="M365.0 636.9V691.5M360.2 636.9h9.6M360.2 691.5h9.6" stroke="#e6e6e6" stroke-width="1.2" fill="none"/>
<path d="M393.8 661.6h11.4" stroke="#d8d8d8" stroke-width="1.6"/>
<path d="M299.7 612.3 L318.2 629.2 L306.7 608.2" fill="#dde9f8" stroke="#9cbff0" stroke-width="1.5" stroke-linejoin="miter"/>
<ellipse cx="289.5" cy="593.8" rx="22.6" ry="21.6" fill="#dde9f8" stroke="#9cbff0" stroke-width="1.5"/>
<path d="M300.5 611.2 L316.5 627.3 L305.8 609.5 Z" fill="#dde9f8"/>
<path d="M320.7 619.1V694.2M315.8 619.1h9.8M315.8 694.2h9.8" stroke="#4a4a4a" stroke-width="1.4" fill="none"/>
<circle cx="320.7" cy="656.5" r="9.8" fill="#e8000b"/>
<text transform="translate(279.3 601.4) scale(1.1 1)" font-size="17.5" fill="#231f20">C</text>
<text x="292.6" y="593.6" font-size="12.5" fill="#231f20">4</text>
<rect x="70.6" y="536.5" width="593.2" height="182.1" fill="none" stroke="#4a4a4a" stroke-width="1.3"/>
<text x="63.2" y="723.8" font-size="14.5" text-anchor="end" textLength="28.2" lengthAdjust="spacingAndGlyphs" fill="#231f20">100</text>
<line x1="70.60" y1="661.52" x2="79.40" y2="661.52" stroke="#4a4a4a" stroke-width="1.3"/>
<text x="63.2" y="666.7" font-size="14.5" text-anchor="end" textLength="28.2" lengthAdjust="spacingAndGlyphs" fill="#231f20">150</text>
<line x1="70.60" y1="604.45" x2="79.40" y2="604.45" stroke="#4a4a4a" stroke-width="1.3"/>
<text x="63.2" y="609.7" font-size="14.5" text-anchor="end" textLength="28.2" lengthAdjust="spacingAndGlyphs" fill="#231f20">200</text>
<line x1="70.60" y1="547.38" x2="79.40" y2="547.38" stroke="#4a4a4a" stroke-width="1.3"/>
<text x="63.2" y="552.6" font-size="14.5" text-anchor="end" textLength="28.2" lengthAdjust="spacingAndGlyphs" fill="#231f20">250</text>
<line x1="218.92" y1="718.60" x2="218.92" y2="710.40" stroke="#4a4a4a" stroke-width="1.3"/>
<line x1="367.24" y1="718.60" x2="367.24" y2="710.40" stroke="#4a4a4a" stroke-width="1.3"/>
<line x1="515.56" y1="718.60" x2="515.56" y2="710.40" stroke="#4a4a4a" stroke-width="1.3"/>
<text x="78.3" y="738.5" font-size="14.5" text-anchor="middle" textLength="25.5" lengthAdjust="spacingAndGlyphs" fill="#231f20">1.6</text>
<text x="218.9" y="738.5" font-size="14.5" text-anchor="middle" textLength="25.5" lengthAdjust="spacingAndGlyphs" fill="#231f20">2.0</text>
<text x="367.2" y="738.5" font-size="14.5" text-anchor="middle" textLength="25.5" lengthAdjust="spacingAndGlyphs" fill="#231f20">2.4</text>
<text x="515.5" y="738.5" font-size="14.5" text-anchor="middle" textLength="25.5" lengthAdjust="spacingAndGlyphs" fill="#231f20">2.8</text>
<text x="654.7" y="738.5" font-size="14.5" text-anchor="middle" textLength="25.5" lengthAdjust="spacingAndGlyphs" fill="#231f20">3.2</text>
<text x="333.5" y="764.0" font-size="16" textLength="68.8" lengthAdjust="spacingAndGlyphs" fill="#231f20">ZPL (eV)</text>
<text x="15.3" y="627.7" font-size="16.5" text-anchor="middle" textLength="88.2" lengthAdjust="spacingAndGlyphs" transform="rotate(-90 15.3 627.7)" fill="#231f20">LVM (meV)</text>
<text transform="translate(0.2 815.6) scale(1.06 1)" font-size="26" font-weight="bold" fill="#000" stroke="#000" stroke-width="0.7">d</text>
<defs>
<pattern id="hr" patternUnits="userSpaceOnUse" width="13.4" height="13.4" x="71.3" y="808.5">
<rect width="13.4" height="13.4" fill="#ffb3b5"/>
<path d="M-3.35 3.35L3.35 -3.35M0 13.4L13.4 0M10.05 16.75L16.75 10.05M-3.35 10.05L3.35 16.75M0 0L13.4 13.4M10.05 -3.35L16.75 3.35" stroke="#ff8589" stroke-width="1.5"/>
</pattern>
<pattern id="hb" patternUnits="userSpaceOnUse" width="13.4" height="13.4" x="71.3" y="969.4">
<rect width="13.4" height="13.4" fill="#c3d5ec"/>
<path d="M-3.35 3.35L3.35 -3.35M0 13.4L13.4 0M10.05 16.75L16.75 10.05M-3.35 10.05L3.35 16.75M0 0L13.4 13.4M10.05 -3.35L16.75 3.35" stroke="#95b8e2" stroke-width="1.5"/>
</pattern>
</defs>
<rect x="71.3" y="808.5" width="593.2" height="20.7" fill="url(#hr)"/>
<rect x="71.3" y="969.4" width="593.2" height="21" fill="url(#hb)"/>
<rect x="143.8" y="945" width="37" height="25" fill="#ff6466"/>
<path d="M143.8 932.9h37.0" stroke="#ff6466" stroke-width="2.6"/>
<path d="M143.8 953.6h37.0" stroke="#ffb0b0" stroke-width="1.2"/>
<path d="M162.3 946.0V969.5" stroke="#ff6466" stroke-width="10.2" stroke-linecap="round"/>
<circle cx="162.3" cy="932.9" r="5.1" fill="#ff6466"/>
<path d="M280.8 840.6h37.4" stroke="#b3cde9" stroke-width="6.5"/>
<path d="M280.8 838.6h37.4" stroke="#5f96d2" stroke-width="2.9"/>
<path d="M280.8 842.8h37.4" stroke="#5f96d2" stroke-width="2.0"/>
<path d="M280.8 857.3h37.4" stroke="#5f96d2" stroke-width="3.0"/>
<path d="M280.8 880.4h37.4" stroke="#5f96d2" stroke-width="3.0"/>
<circle cx="299.5" cy="842.6" r="4.2" fill="#fff" stroke="#3a82cc" stroke-width="2.0"/>
<circle cx="299.5" cy="838.8" r="4.2" fill="#fff" stroke="#3a82cc" stroke-width="2.0"/>
<circle cx="299.5" cy="857.3" r="4.2" fill="#fff" stroke="#3a82cc" stroke-width="2.0"/>
<circle cx="299.5" cy="880.4" r="4.2" fill="#fff" stroke="#3a82cc" stroke-width="2.0"/>
<path d="M280.8 899.6h37.4" stroke="#2b5a8c" stroke-width="2.6"/>
<path d="M280.8 901.2h37.4" stroke="#2b5a8c" stroke-width="2.6"/>
<path d="M280.8 908.3h37.4" stroke="#2b5a8c" stroke-width="2.6"/>
<path d="M280.8 910.6h37.4" stroke="#2b5a8c" stroke-width="2.6"/>
<path d="M280.8 916.6h37.4" stroke="#2b5a8c" stroke-width="2.6"/>
<path d="M280.8 918.6h37.4" stroke="#2b5a8c" stroke-width="2.6"/>
<path d="M280.8 920.6h37.4" stroke="#2b5a8c" stroke-width="2.6"/>
<path d="M280.8 926.0h37.4" stroke="#2b5a8c" stroke-width="2.6"/>
<path d="M280.8 928.6h37.4" stroke="#2b5a8c" stroke-width="2.6"/>
<path d="M280.8 923.0h37.4" stroke="#5a84b0" stroke-width="2.0"/>
<path d="M280.8 942.5h37.4" stroke="#2b5a8c" stroke-width="2.6"/>
<path d="M280.8 949.6h37.4" stroke="#2b5a8c" stroke-width="2.6"/>
<path d="M280.8 956.7h37.4" stroke="#2b5a8c" stroke-width="2.6"/>
<path d="M280.8 960.3h37.4" stroke="#2b5a8c" stroke-width="2.6"/>
<path d="M280.8 964.8h37.4" stroke="#2b5a8c" stroke-width="2.6"/>
<path d="M299.5 899.0V928.2" stroke="#2b5a8c" stroke-width="10.4" stroke-linecap="round"/>
<path d="M299.5 942.5V965.0" stroke="#2b5a8c" stroke-width="10.4" stroke-linecap="round"/>
<path d="M417.7 835.6h38.0" stroke="#ffd7b5" stroke-width="2.6"/>
<rect x="417.7" y="844" width="38" height="29.5" fill="#ffd7b5"/>
<path d="M417.7 846.8h38.0" stroke="#fff2e6" stroke-width="1.0"/>
<path d="M417.7 852.5h38.0" stroke="#fff2e6" stroke-width="1.0"/>
<path d="M417.7 860.0h38.0" stroke="#fff2e6" stroke-width="1.0"/>
<path d="M417.7 866.0h38.0" stroke="#fff2e6" stroke-width="1.0"/>
<path d="M417.7 871.2h38.0" stroke="#fff2e6" stroke-width="1.0"/>
<circle cx="436.7" cy="843.5" r="4.2" fill="#fff" stroke="#ff7f0e" stroke-width="2.0"/>
<circle cx="436.7" cy="853.0" r="4.2" fill="#fff" stroke="#ff7f0e" stroke-width="2.0"/>
<circle cx="436.7" cy="864.0" r="4.2" fill="#fff" stroke="#ff7f0e" stroke-width="2.0"/>
<circle cx="436.7" cy="872.3" r="4.2" fill="#fff" stroke="#ff7f0e" stroke-width="2.0"/>
<circle cx="436.7" cy="835.6" r="4.2" fill="#fff" stroke="#ff7f0e" stroke-width="2.0"/>
<circle cx="436.7" cy="847.4" r="4.2" fill="#fff" stroke="#ff7f0e" stroke-width="2.0"/>
<circle cx="436.7" cy="858.9" r="4.2" fill="#fff" stroke="#ff7f0e" stroke-width="2.0"/>
<circle cx="436.7" cy="868.5" r="4.2" fill="#fff" stroke="#ff7f0e" stroke-width="2.0"/>
<path d="M417.7 880.3h38.0" stroke="#ff7f00" stroke-width="2.8"/>
<path d="M417.7 888.6h38.0" stroke="#ff7f00" stroke-width="2.8"/>
<path d="M417.7 895.8h38.0" stroke="#ff7f00" stroke-width="2.8"/>
<rect x="417.7" y="900.2" width="38" height="11" fill="#ff7f00"/>
<path d="M436.7 880.3V910.5" stroke="#ff5a24" stroke-width="10.4" stroke-linecap="round"/>
<path d="M417.7 934.5h38.0" stroke="#ff7f00" stroke-width="2.8"/>
<circle cx="436.7" cy="934.5" r="5.2" fill="#ff5a24"/>
<path d="M417.7 951.3h38.0" stroke="#ff7f00" stroke-width="2.8"/>
<circle cx="436.7" cy="951.3" r="5.2" fill="#ff5a24"/>
<path d="M417.7 961.4h38.0" stroke="#ff7f00" stroke-width="2.8"/>
<circle cx="436.7" cy="961.4" r="5.2" fill="#ff5a24"/>
<path d="M555.1 830.2h37.6" stroke="#6a9e9e" stroke-width="2.6"/>
<path d="M555.1 835.0h37.6" stroke="#6a9e9e" stroke-width="4.0"/>
<path d="M555.1 848.6h37.6" stroke="#6a9e9e" stroke-width="2.8"/>
<path d="M555.1 853.7h37.6" stroke="#6a9e9e" stroke-width="2.8"/>
<path d="M555.1 860.4h37.6" stroke="#6a9e9e" stroke-width="2.8"/>
<path d="M555.1 866.0h37.6" stroke="#6a9e9e" stroke-width="2.8"/>
<circle cx="573.9" cy="830.2" r="4.2" fill="#fff" stroke="#5f9797" stroke-width="2.0"/>
<circle cx="573.9" cy="835.0" r="4.2" fill="#fff" stroke="#5f9797" stroke-width="2.0"/>
<circle cx="573.9" cy="848.6" r="4.2" fill="#fff" stroke="#5f9797" stroke-width="2.0"/>
<circle cx="573.9" cy="853.7" r="4.2" fill="#fff" stroke="#5f9797" stroke-width="2.0"/>
<circle cx="573.9" cy="860.4" r="4.2" fill="#fff" stroke="#5f9797" stroke-width="2.0"/>
<circle cx="573.9" cy="866.0" r="4.2" fill="#fff" stroke="#5f9797" stroke-width="2.0"/>
<path d="M555.1 869.2h37.6" stroke="#047f7f" stroke-width="2.8"/>
<path d="M555.1 872.9h37.6" stroke="#047f7f" stroke-width="2.8"/>
<path d="M555.1 878.1h37.6" stroke="#047f7f" stroke-width="2.8"/>
<path d="M555.1 885.4h37.6" stroke="#047f7f" stroke-width="2.8"/>
<path d="M573.9 870.0V885.4" stroke="#047f7f" stroke-width="10.4" stroke-linecap="round"/>
<path d="M555.1 902.4h37.6" stroke="#047f7f" stroke-width="2.8"/>
<path d="M555.1 908.6h37.6" stroke="#047f7f" stroke-width="2.8"/>
<path d="M555.1 917.1h37.6" stroke="#047f7f" stroke-width="2.8"/>
<path d="M555.1 923.5h37.6" stroke="#047f7f" stroke-width="2.8"/>
<path d="M573.9 902.4V923.5" stroke="#047f7f" stroke-width="10.4" stroke-linecap="round"/>
<path d="M555.1 942.9h37.6" stroke="#047f7f" stroke-width="2.8"/>
<circle cx="573.9" cy="942.9" r="5.2" fill="#047f7f"/>
<path d="M555.1 957.4h37.6" stroke="#047f7f" stroke-width="4.5"/>
<circle cx="573.9" cy="957.4" r="5.6" fill="#047f7f"/>
<rect x="71.3" y="808.5" width="593.2" height="181.9" fill="none" stroke="#4a4a4a" stroke-width="1.3"/>
<line x1="71.30" y1="969.40" x2="80.10" y2="969.40" stroke="#4a4a4a" stroke-width="1.3"/>
<text transform="translate(62.9 974.2) scale(1.22 1)" font-size="14.5" text-anchor="end" fill="#231f20">0</text>
<line x1="71.30" y1="927.07" x2="80.10" y2="927.07" stroke="#4a4a4a" stroke-width="1.3"/>
<text transform="translate(63.7 931.9) scale(1.1 1)" font-size="14.5" text-anchor="end" fill="#231f20">1</text>
<line x1="71.30" y1="884.74" x2="80.10" y2="884.74" stroke="#4a4a4a" stroke-width="1.3"/>
<text transform="translate(62.9 889.5) scale(1.22 1)" font-size="14.5" text-anchor="end" fill="#231f20">2</text>
<line x1="71.30" y1="842.41" x2="80.10" y2="842.41" stroke="#4a4a4a" stroke-width="1.3"/>
<text transform="translate(62.9 847.2) scale(1.22 1)" font-size="14.5" text-anchor="end" fill="#231f20">3</text>
<line x1="162.30" y1="990.40" x2="162.30" y2="981.10" stroke="#4a4a4a" stroke-width="1.3"/>
<line x1="299.40" y1="990.40" x2="299.40" y2="981.10" stroke="#4a4a4a" stroke-width="1.3"/>
<line x1="436.70" y1="990.40" x2="436.70" y2="981.10" stroke="#4a4a4a" stroke-width="1.3"/>
<line x1="573.90" y1="990.40" x2="573.90" y2="981.10" stroke="#4a4a4a" stroke-width="1.3"/>
<text x="32.3" y="899.3" font-size="16.5" text-anchor="middle" textLength="94.6" lengthAdjust="spacingAndGlyphs" transform="rotate(-90 32.3 899.3)" fill="#231f20">Energy (eV)</text>
<text x="162.8" y="1012.9" font-size="16.5" text-anchor="middle" textLength="41.3" lengthAdjust="spacingAndGlyphs" fill="#231f20">Si–Si</text>
<text x="292.0" y="1012.9" font-size="16.5" textLength="11.5" lengthAdjust="spacingAndGlyphs" fill="#231f20">C</text>
<text x="303.5" y="1016.5" font-size="11.5" fill="#231f20">i</text>
<text x="436.6" y="1012.9" font-size="16.5" text-anchor="middle" textLength="35.0" lengthAdjust="spacingAndGlyphs" fill="#231f20">C=C</text>
<text x="574.1" y="1012.9" font-size="16.5" text-anchor="middle" textLength="75.2" lengthAdjust="spacingAndGlyphs" fill="#231f20">C cluster</text></svg>
</body></html>
